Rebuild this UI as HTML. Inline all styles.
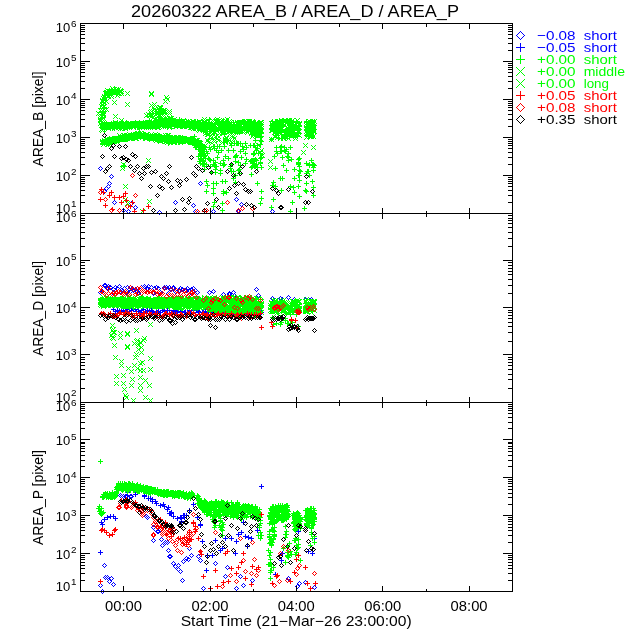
<!DOCTYPE html><html><head><meta charset="utf-8"><style>html,body{margin:0;padding:0;background:#fff;width:640px;height:640px;overflow:hidden}svg{display:block;will-change:transform}</style></head><body>
<svg width="640" height="640" viewBox="0 0 640 640">
<rect width="640" height="640" fill="#fff"/>
<defs><path id="d" d="M0,-2h1v1h-1zM-1,-1h1v1h-1zM1,-1h1v1h-1zM-2,0h1v1h-1zM2,0h1v1h-1zM-1,1h1v1h-1zM1,1h1v1h-1zM0,2h1v1h-1z"/><path id="p" d="M-2,0h5v1h-5zM0,-2h1v5h-1z"/><path id="x" d="M-2,-2h1v1h-1zM-1,-1h1v1h-1zM0,0h1v1h-1zM1,1h1v1h-1zM2,2h1v1h-1zM2,-2h1v1h-1zM1,-1h1v1h-1zM-1,1h1v1h-1zM-2,2h1v1h-1z"/></defs><g shape-rendering="crispEdges"><g fill="#0000ff"><use href="#d" x="100" y="168"/><use href="#d" x="111" y="176"/><use href="#d" x="109" y="183"/><use href="#d" x="108" y="186"/><use href="#d" x="106" y="188"/><use href="#d" x="104" y="191"/><use href="#d" x="114" y="202"/><use href="#d" x="123" y="210"/><use href="#d" x="128" y="211"/><use href="#d" x="131" y="203"/><use href="#d" x="135" y="207"/><use href="#d" x="159" y="212"/><use href="#d" x="200" y="183"/><use href="#d" x="175" y="202"/><use href="#d" x="193" y="205"/><use href="#d" x="236" y="199"/><use href="#d" x="241" y="204"/><use href="#d" x="195" y="211"/><use href="#d" x="213" y="211"/><use href="#d" x="238" y="211"/><use href="#d" x="272" y="211"/><use href="#d" x="100" y="292"/><use href="#d" x="102" y="291"/><use href="#d" x="104" y="285"/><use href="#d" x="105" y="285"/><use href="#d" x="107" y="288"/><use href="#d" x="108" y="286"/><use href="#d" x="110" y="287"/><use href="#d" x="113" y="289"/><use href="#d" x="113" y="293"/><use href="#d" x="115" y="287"/><use href="#d" x="117" y="288"/><use href="#d" x="119" y="286"/><use href="#d" x="121" y="292"/><use href="#d" x="121" y="290"/><use href="#d" x="124" y="288"/><use href="#d" x="126" y="292"/><use href="#d" x="127" y="287"/><use href="#d" x="129" y="289"/><use href="#d" x="130" y="291"/><use href="#d" x="132" y="288"/><use href="#d" x="133" y="290"/><use href="#d" x="135" y="289"/><use href="#d" x="137" y="291"/><use href="#d" x="138" y="293"/><use href="#d" x="140" y="288"/><use href="#d" x="141" y="287"/><use href="#d" x="144" y="286"/><use href="#d" x="144" y="288"/><use href="#d" x="147" y="288"/><use href="#d" x="148" y="286"/><use href="#d" x="149" y="291"/><use href="#d" x="151" y="287"/><use href="#d" x="153" y="293"/><use href="#d" x="154" y="288"/><use href="#d" x="156" y="287"/><use href="#d" x="158" y="292"/><use href="#d" x="158" y="288"/><use href="#d" x="160" y="292"/><use href="#d" x="162" y="293"/><use href="#d" x="164" y="287"/><use href="#d" x="166" y="287"/><use href="#d" x="168" y="293"/><use href="#d" x="169" y="287"/><use href="#d" x="170" y="289"/><use href="#d" x="173" y="288"/><use href="#d" x="173" y="287"/><use href="#d" x="175" y="291"/><use href="#d" x="176" y="290"/><use href="#d" x="179" y="290"/><use href="#d" x="180" y="288"/><use href="#d" x="182" y="289"/><use href="#d" x="184" y="290"/><use href="#d" x="186" y="290"/><use href="#d" x="187" y="288"/><use href="#d" x="189" y="290"/><use href="#d" x="191" y="293"/><use href="#d" x="191" y="289"/><use href="#d" x="193" y="288"/><use href="#d" x="195" y="290"/><use href="#d" x="197" y="292"/><use href="#d" x="229" y="293"/><use href="#d" x="258" y="295"/><use href="#d" x="229" y="294"/><use href="#d" x="256" y="289"/><use href="#d" x="234" y="295"/><use href="#d" x="233" y="292"/><use href="#d" x="213" y="291"/><use href="#d" x="209" y="292"/><use href="#d" x="223" y="294"/><use href="#d" x="272" y="298"/><use href="#d" x="280" y="298"/><use href="#d" x="282" y="299"/><use href="#d" x="288" y="297"/><use href="#d" x="294" y="299"/><use href="#d" x="305" y="299"/><use href="#d" x="308" y="299"/><use href="#d" x="311" y="299"/><use href="#d" x="120" y="495"/><use href="#d" x="121" y="496"/><use href="#d" x="123" y="496"/><use href="#d" x="125" y="496"/><use href="#d" x="126" y="496"/><use href="#d" x="128" y="497"/><use href="#d" x="130" y="496"/><use href="#d" x="131" y="496"/><use href="#d" x="146" y="516"/><use href="#d" x="155" y="529"/><use href="#d" x="157" y="531"/><use href="#d" x="153" y="540"/><use href="#d" x="161" y="539"/><use href="#d" x="167" y="542"/><use href="#d" x="147" y="517"/><use href="#d" x="153" y="527"/><use href="#d" x="158" y="531"/><use href="#d" x="162" y="545"/><use href="#d" x="165" y="542"/><use href="#d" x="168" y="550"/><use href="#d" x="169" y="556"/><use href="#d" x="104" y="565"/><use href="#d" x="105" y="577"/><use href="#d" x="107" y="577"/><use href="#d" x="111" y="578"/><use href="#d" x="109" y="581"/><use href="#d" x="113" y="584"/><use href="#d" x="100" y="585"/><use href="#d" x="102" y="591"/><use href="#d" x="189" y="548"/><use href="#d" x="191" y="555"/><use href="#d" x="186" y="558"/><use href="#d" x="183" y="561"/><use href="#d" x="188" y="559"/><use href="#d" x="198" y="556"/><use href="#d" x="200" y="560"/><use href="#d" x="170" y="556"/><use href="#d" x="173" y="563"/><use href="#d" x="175" y="566"/><use href="#d" x="178" y="565"/><use href="#d" x="180" y="571"/><use href="#d" x="178" y="569"/><use href="#d" x="182" y="580"/><use href="#d" x="215" y="563"/><use href="#d" x="227" y="567"/><use href="#d" x="225" y="576"/><use href="#d" x="240" y="576"/><use href="#d" x="243" y="585"/><use href="#d" x="203" y="588"/><use href="#d" x="236" y="588"/><use href="#d" x="252" y="580"/><use href="#d" x="288" y="578"/><use href="#d" x="299" y="583"/><use href="#d" x="297" y="586"/><use href="#d" x="305" y="582"/><use href="#d" x="314" y="587"/></g><g fill="#0000ff"><use href="#p" x="113" y="309"/><use href="#p" x="115" y="311"/><use href="#p" x="117" y="310"/><use href="#p" x="119" y="311"/><use href="#p" x="121" y="311"/><use href="#p" x="123" y="310"/><use href="#p" x="123" y="312"/><use href="#p" x="126" y="311"/><use href="#p" x="127" y="309"/><use href="#p" x="129" y="311"/><use href="#p" x="131" y="310"/><use href="#p" x="133" y="309"/><use href="#p" x="135" y="309"/><use href="#p" x="136" y="311"/><use href="#p" x="138" y="311"/><use href="#p" x="140" y="312"/><use href="#p" x="141" y="310"/><use href="#p" x="143" y="309"/><use href="#p" x="145" y="311"/><use href="#p" x="147" y="310"/><use href="#p" x="149" y="311"/><use href="#p" x="151" y="310"/><use href="#p" x="152" y="311"/><use href="#p" x="153" y="312"/><use href="#p" x="156" y="311"/><use href="#p" x="157" y="312"/><use href="#p" x="158" y="311"/><use href="#p" x="160" y="312"/><use href="#p" x="162" y="310"/><use href="#p" x="164" y="311"/><use href="#p" x="167" y="310"/><use href="#p" x="169" y="310"/><use href="#p" x="172" y="312"/><use href="#p" x="173" y="310"/><use href="#p" x="175" y="311"/><use href="#p" x="176" y="309"/><use href="#p" x="177" y="312"/><use href="#p" x="180" y="311"/><use href="#p" x="181" y="311"/><use href="#p" x="184" y="312"/><use href="#p" x="185" y="312"/><use href="#p" x="188" y="312"/><use href="#p" x="189" y="310"/><use href="#p" x="190" y="312"/><use href="#p" x="193" y="312"/><use href="#p" x="193" y="310"/><use href="#p" x="196" y="310"/><use href="#p" x="198" y="311"/><use href="#p" x="199" y="312"/><use href="#p" x="202" y="312"/><use href="#p" x="203" y="312"/><use href="#p" x="205" y="311"/><use href="#p" x="206" y="313"/><use href="#p" x="208" y="311"/><use href="#p" x="210" y="310"/><use href="#p" x="212" y="312"/><use href="#p" x="213" y="312"/><use href="#p" x="216" y="310"/><use href="#p" x="217" y="313"/><use href="#p" x="219" y="310"/><use href="#p" x="220" y="312"/><use href="#p" x="222" y="313"/><use href="#p" x="224" y="311"/><use href="#p" x="225" y="312"/><use href="#p" x="226" y="313"/><use href="#p" x="230" y="312"/><use href="#p" x="231" y="314"/><use href="#p" x="233" y="312"/><use href="#p" x="234" y="314"/><use href="#p" x="235" y="311"/><use href="#p" x="238" y="312"/><use href="#p" x="240" y="312"/><use href="#p" x="241" y="312"/><use href="#p" x="243" y="313"/><use href="#p" x="246" y="314"/><use href="#p" x="247" y="313"/><use href="#p" x="249" y="312"/><use href="#p" x="250" y="313"/><use href="#p" x="252" y="313"/><use href="#p" x="254" y="313"/><use href="#p" x="255" y="314"/><use href="#p" x="257" y="312"/><use href="#p" x="259" y="311"/><use href="#p" x="261" y="312"/><use href="#p" x="144" y="496"/><use href="#p" x="148" y="498"/><use href="#p" x="152" y="501"/><use href="#p" x="156" y="503"/><use href="#p" x="160" y="505"/><use href="#p" x="164" y="506"/><use href="#p" x="167" y="509"/><use href="#p" x="170" y="513"/><use href="#p" x="127" y="492"/><use href="#p" x="135" y="494"/><use href="#p" x="183" y="515"/><use href="#p" x="163" y="504"/><use href="#p" x="184" y="515"/><use href="#p" x="144" y="495"/><use href="#p" x="171" y="513"/><use href="#p" x="180" y="517"/><use href="#p" x="155" y="501"/><use href="#p" x="150" y="498"/><use href="#p" x="152" y="499"/><use href="#p" x="168" y="507"/><use href="#p" x="184" y="517"/><use href="#p" x="169" y="513"/><use href="#p" x="189" y="510"/><use href="#p" x="101" y="522"/><use href="#p" x="104" y="519"/><use href="#p" x="107" y="517"/><use href="#p" x="110" y="516"/><use href="#p" x="113" y="516"/><use href="#p" x="115" y="518"/><use href="#p" x="102" y="524"/><use href="#p" x="261" y="486"/><use href="#p" x="100" y="552"/><use href="#p" x="171" y="512"/><use href="#p" x="173" y="516"/><use href="#p" x="177" y="518"/><use href="#p" x="181" y="518"/><use href="#p" x="186" y="515"/><use href="#p" x="193" y="504"/><use href="#p" x="197" y="517"/><use href="#p" x="200" y="525"/><use href="#p" x="243" y="522"/><use href="#p" x="181" y="522"/><use href="#p" x="200" y="524"/><use href="#p" x="202" y="541"/><use href="#p" x="207" y="555"/><use href="#p" x="212" y="555"/><use href="#p" x="215" y="540"/><use href="#p" x="220" y="550"/><use href="#p" x="222" y="548"/><use href="#p" x="225" y="538"/><use href="#p" x="231" y="538"/><use href="#p" x="236" y="541"/><use href="#p" x="238" y="534"/><use href="#p" x="241" y="532"/><use href="#p" x="245" y="536"/><use href="#p" x="248" y="537"/><use href="#p" x="247" y="546"/><use href="#p" x="235" y="553"/><use href="#p" x="206" y="570"/><use href="#p" x="181" y="521"/><use href="#p" x="251" y="538"/><use href="#p" x="257" y="530"/><use href="#p" x="314" y="538"/><use href="#p" x="308" y="551"/><use href="#p" x="312" y="553"/><use href="#p" x="282" y="553"/><use href="#p" x="281" y="560"/><use href="#p" x="275" y="574"/><use href="#p" x="298" y="531"/></g><g fill="#00ff00"><use href="#p" x="102" y="124"/><use href="#p" x="102" y="123"/><use href="#p" x="103" y="126"/><use href="#p" x="104" y="128"/><use href="#p" x="104" y="129"/><use href="#p" x="105" y="127"/><use href="#p" x="106" y="127"/><use href="#p" x="106" y="123"/><use href="#p" x="107" y="125"/><use href="#p" x="107" y="126"/><use href="#p" x="108" y="126"/><use href="#p" x="109" y="125"/><use href="#p" x="109" y="127"/><use href="#p" x="110" y="126"/><use href="#p" x="111" y="126"/><use href="#p" x="111" y="125"/><use href="#p" x="112" y="128"/><use href="#p" x="113" y="124"/><use href="#p" x="114" y="125"/><use href="#p" x="114" y="128"/><use href="#p" x="115" y="125"/><use href="#p" x="116" y="124"/><use href="#p" x="117" y="125"/><use href="#p" x="118" y="125"/><use href="#p" x="118" y="124"/><use href="#p" x="119" y="125"/><use href="#p" x="120" y="126"/><use href="#p" x="120" y="123"/><use href="#p" x="121" y="127"/><use href="#p" x="122" y="124"/><use href="#p" x="122" y="125"/><use href="#p" x="123" y="127"/><use href="#p" x="123" y="125"/><use href="#p" x="124" y="126"/><use href="#p" x="125" y="126"/><use href="#p" x="126" y="124"/><use href="#p" x="126" y="126"/><use href="#p" x="127" y="125"/><use href="#p" x="127" y="124"/><use href="#p" x="128" y="126"/><use href="#p" x="129" y="127"/><use href="#p" x="130" y="125"/><use href="#p" x="131" y="126"/><use href="#p" x="131" y="125"/><use href="#p" x="132" y="126"/><use href="#p" x="132" y="125"/><use href="#p" x="133" y="123"/><use href="#p" x="134" y="124"/><use href="#p" x="135" y="123"/><use href="#p" x="135" y="124"/><use href="#p" x="136" y="123"/><use href="#p" x="137" y="127"/><use href="#p" x="138" y="127"/><use href="#p" x="138" y="123"/><use href="#p" x="139" y="127"/><use href="#p" x="139" y="122"/><use href="#p" x="140" y="126"/><use href="#p" x="141" y="124"/><use href="#p" x="141" y="127"/><use href="#p" x="142" y="124"/><use href="#p" x="143" y="126"/><use href="#p" x="143" y="125"/><use href="#p" x="144" y="124"/><use href="#p" x="145" y="126"/><use href="#p" x="146" y="123"/><use href="#p" x="147" y="126"/><use href="#p" x="148" y="122"/><use href="#p" x="148" y="125"/><use href="#p" x="149" y="121"/><use href="#p" x="150" y="124"/><use href="#p" x="150" y="122"/><use href="#p" x="151" y="125"/><use href="#p" x="151" y="123"/><use href="#p" x="152" y="125"/><use href="#p" x="153" y="124"/><use href="#p" x="154" y="123"/><use href="#p" x="155" y="124"/><use href="#p" x="155" y="121"/><use href="#p" x="156" y="125"/><use href="#p" x="157" y="124"/><use href="#p" x="157" y="121"/><use href="#p" x="158" y="123"/><use href="#p" x="159" y="120"/><use href="#p" x="160" y="124"/><use href="#p" x="161" y="123"/><use href="#p" x="161" y="120"/><use href="#p" x="162" y="122"/><use href="#p" x="162" y="124"/><use href="#p" x="163" y="124"/><use href="#p" x="164" y="120"/><use href="#p" x="164" y="124"/><use href="#p" x="165" y="123"/><use href="#p" x="166" y="125"/><use href="#p" x="166" y="119"/><use href="#p" x="167" y="122"/><use href="#p" x="168" y="123"/><use href="#p" x="168" y="119"/><use href="#p" x="169" y="125"/><use href="#p" x="169" y="124"/><use href="#p" x="170" y="124"/><use href="#p" x="171" y="122"/><use href="#p" x="171" y="124"/><use href="#p" x="172" y="123"/><use href="#p" x="172" y="122"/><use href="#p" x="173" y="124"/><use href="#p" x="174" y="126"/><use href="#p" x="174" y="120"/><use href="#p" x="175" y="124"/><use href="#p" x="176" y="123"/><use href="#p" x="176" y="124"/><use href="#p" x="177" y="121"/><use href="#p" x="178" y="121"/><use href="#p" x="179" y="119"/><use href="#p" x="180" y="124"/><use href="#p" x="180" y="123"/><use href="#p" x="181" y="126"/><use href="#p" x="182" y="122"/><use href="#p" x="182" y="121"/><use href="#p" x="183" y="121"/><use href="#p" x="183" y="125"/><use href="#p" x="184" y="125"/><use href="#p" x="185" y="126"/><use href="#p" x="186" y="125"/><use href="#p" x="186" y="122"/><use href="#p" x="187" y="124"/><use href="#p" x="188" y="121"/><use href="#p" x="189" y="123"/><use href="#p" x="189" y="127"/><use href="#p" x="190" y="126"/><use href="#p" x="190" y="125"/><use href="#p" x="191" y="125"/><use href="#p" x="192" y="126"/><use href="#p" x="192" y="124"/><use href="#p" x="193" y="128"/><use href="#p" x="194" y="128"/><use href="#p" x="194" y="125"/><use href="#p" x="195" y="122"/><use href="#p" x="195" y="128"/><use href="#p" x="196" y="125"/><use href="#p" x="197" y="123"/><use href="#p" x="198" y="124"/><use href="#p" x="198" y="128"/><use href="#p" x="199" y="122"/><use href="#p" x="200" y="128"/><use href="#p" x="200" y="122"/><use href="#p" x="201" y="130"/><use href="#p" x="201" y="127"/><use href="#p" x="202" y="124"/><use href="#p" x="203" y="122"/><use href="#p" x="203" y="131"/><use href="#p" x="204" y="129"/><use href="#p" x="205" y="128"/><use href="#p" x="205" y="132"/><use href="#p" x="206" y="127"/><use href="#p" x="206" y="128"/><use href="#p" x="207" y="131"/><use href="#p" x="208" y="125"/><use href="#p" x="208" y="122"/><use href="#p" x="209" y="122"/><use href="#p" x="209" y="119"/><use href="#p" x="210" y="131"/><use href="#p" x="211" y="127"/><use href="#p" x="211" y="125"/><use href="#p" x="212" y="127"/><use href="#p" x="213" y="126"/><use href="#p" x="213" y="131"/><use href="#p" x="214" y="133"/><use href="#p" x="215" y="130"/><use href="#p" x="215" y="127"/><use href="#p" x="216" y="129"/><use href="#p" x="216" y="128"/><use href="#p" x="217" y="129"/><use href="#p" x="218" y="129"/><use href="#p" x="219" y="128"/><use href="#p" x="220" y="126"/><use href="#p" x="220" y="124"/><use href="#p" x="221" y="130"/><use href="#p" x="222" y="121"/><use href="#p" x="223" y="121"/><use href="#p" x="223" y="129"/><use href="#p" x="224" y="127"/><use href="#p" x="225" y="131"/><use href="#p" x="226" y="124"/><use href="#p" x="226" y="126"/><use href="#p" x="227" y="125"/><use href="#p" x="228" y="129"/><use href="#p" x="228" y="122"/><use href="#p" x="229" y="125"/><use href="#p" x="229" y="130"/><use href="#p" x="230" y="126"/><use href="#p" x="231" y="127"/><use href="#p" x="231" y="125"/><use href="#p" x="232" y="130"/><use href="#p" x="233" y="122"/><use href="#p" x="233" y="125"/><use href="#p" x="234" y="131"/><use href="#p" x="234" y="124"/><use href="#p" x="235" y="126"/><use href="#p" x="236" y="130"/><use href="#p" x="237" y="131"/><use href="#p" x="237" y="122"/><use href="#p" x="237" y="125"/><use href="#p" x="239" y="122"/><use href="#p" x="239" y="129"/><use href="#p" x="239" y="132"/><use href="#p" x="240" y="122"/><use href="#p" x="241" y="129"/><use href="#p" x="242" y="122"/><use href="#p" x="242" y="130"/><use href="#p" x="243" y="121"/><use href="#p" x="243" y="127"/><use href="#p" x="244" y="121"/><use href="#p" x="244" y="124"/><use href="#p" x="245" y="128"/><use href="#p" x="246" y="128"/><use href="#p" x="246" y="123"/><use href="#p" x="248" y="121"/><use href="#p" x="248" y="127"/><use href="#p" x="249" y="125"/><use href="#p" x="249" y="121"/><use href="#p" x="250" y="128"/><use href="#p" x="250" y="122"/><use href="#p" x="251" y="130"/><use href="#p" x="252" y="129"/><use href="#p" x="252" y="127"/><use href="#p" x="253" y="128"/><use href="#p" x="254" y="122"/><use href="#p" x="255" y="122"/><use href="#p" x="255" y="126"/><use href="#p" x="255" y="123"/><use href="#p" x="256" y="131"/><use href="#p" x="257" y="131"/><use href="#p" x="257" y="126"/><use href="#p" x="258" y="124"/><use href="#p" x="259" y="131"/><use href="#p" x="259" y="128"/><use href="#p" x="260" y="123"/><use href="#p" x="261" y="136"/><use href="#p" x="271" y="139"/><use href="#p" x="272" y="121"/><use href="#p" x="272" y="125"/><use href="#p" x="273" y="128"/><use href="#p" x="274" y="129"/><use href="#p" x="275" y="132"/><use href="#p" x="275" y="128"/><use href="#p" x="276" y="126"/><use href="#p" x="277" y="121"/><use href="#p" x="278" y="133"/><use href="#p" x="278" y="138"/><use href="#p" x="279" y="124"/><use href="#p" x="279" y="126"/><use href="#p" x="280" y="127"/><use href="#p" x="281" y="132"/><use href="#p" x="281" y="138"/><use href="#p" x="283" y="136"/><use href="#p" x="283" y="121"/><use href="#p" x="284" y="132"/><use href="#p" x="285" y="121"/><use href="#p" x="285" y="138"/><use href="#p" x="286" y="136"/><use href="#p" x="287" y="133"/><use href="#p" x="287" y="134"/><use href="#p" x="288" y="127"/><use href="#p" x="289" y="120"/><use href="#p" x="289" y="134"/><use href="#p" x="290" y="123"/><use href="#p" x="292" y="130"/><use href="#p" x="292" y="131"/><use href="#p" x="292" y="134"/><use href="#p" x="293" y="136"/><use href="#p" x="294" y="127"/><use href="#p" x="295" y="127"/><use href="#p" x="296" y="134"/><use href="#p" x="296" y="122"/><use href="#p" x="297" y="129"/><use href="#p" x="298" y="133"/><use href="#p" x="299" y="126"/><use href="#p" x="306" y="121"/><use href="#p" x="306" y="122"/><use href="#p" x="307" y="129"/><use href="#p" x="307" y="132"/><use href="#p" x="308" y="134"/><use href="#p" x="308" y="136"/><use href="#p" x="308" y="124"/><use href="#p" x="309" y="131"/><use href="#p" x="310" y="132"/><use href="#p" x="310" y="135"/><use href="#p" x="310" y="125"/><use href="#p" x="311" y="121"/><use href="#p" x="311" y="122"/><use href="#p" x="312" y="121"/><use href="#p" x="312" y="124"/><use href="#p" x="313" y="122"/><use href="#p" x="313" y="130"/><use href="#p" x="314" y="125"/><use href="#p" x="102" y="143"/><use href="#p" x="102" y="141"/><use href="#p" x="103" y="142"/><use href="#p" x="104" y="142"/><use href="#p" x="104" y="141"/><use href="#p" x="105" y="142"/><use href="#p" x="106" y="140"/><use href="#p" x="106" y="142"/><use href="#p" x="107" y="139"/><use href="#p" x="107" y="142"/><use href="#p" x="108" y="144"/><use href="#p" x="108" y="139"/><use href="#p" x="109" y="141"/><use href="#p" x="109" y="139"/><use href="#p" x="110" y="139"/><use href="#p" x="110" y="142"/><use href="#p" x="111" y="141"/><use href="#p" x="111" y="140"/><use href="#p" x="112" y="141"/><use href="#p" x="112" y="139"/><use href="#p" x="113" y="139"/><use href="#p" x="114" y="139"/><use href="#p" x="114" y="140"/><use href="#p" x="115" y="139"/><use href="#p" x="116" y="140"/><use href="#p" x="116" y="139"/><use href="#p" x="117" y="139"/><use href="#p" x="118" y="140"/><use href="#p" x="118" y="137"/><use href="#p" x="119" y="140"/><use href="#p" x="119" y="139"/><use href="#p" x="120" y="137"/><use href="#p" x="120" y="138"/><use href="#p" x="121" y="138"/><use href="#p" x="121" y="137"/><use href="#p" x="122" y="136"/><use href="#p" x="122" y="138"/><use href="#p" x="123" y="137"/><use href="#p" x="123" y="138"/><use href="#p" x="124" y="136"/><use href="#p" x="124" y="139"/><use href="#p" x="125" y="136"/><use href="#p" x="125" y="135"/><use href="#p" x="126" y="135"/><use href="#p" x="127" y="138"/><use href="#p" x="127" y="136"/><use href="#p" x="128" y="137"/><use href="#p" x="128" y="136"/><use href="#p" x="129" y="135"/><use href="#p" x="129" y="138"/><use href="#p" x="130" y="135"/><use href="#p" x="130" y="137"/><use href="#p" x="131" y="135"/><use href="#p" x="132" y="135"/><use href="#p" x="132" y="138"/><use href="#p" x="133" y="134"/><use href="#p" x="133" y="138"/><use href="#p" x="134" y="135"/><use href="#p" x="134" y="136"/><use href="#p" x="135" y="136"/><use href="#p" x="135" y="133"/><use href="#p" x="136" y="136"/><use href="#p" x="136" y="137"/><use href="#p" x="137" y="135"/><use href="#p" x="137" y="134"/><use href="#p" x="138" y="136"/><use href="#p" x="138" y="134"/><use href="#p" x="139" y="132"/><use href="#p" x="139" y="133"/><use href="#p" x="140" y="134"/><use href="#p" x="140" y="137"/><use href="#p" x="141" y="135"/><use href="#p" x="141" y="134"/><use href="#p" x="142" y="136"/><use href="#p" x="143" y="138"/><use href="#p" x="143" y="133"/><use href="#p" x="144" y="138"/><use href="#p" x="144" y="135"/><use href="#p" x="145" y="137"/><use href="#p" x="145" y="135"/><use href="#p" x="146" y="135"/><use href="#p" x="146" y="136"/><use href="#p" x="147" y="138"/><use href="#p" x="147" y="135"/><use href="#p" x="148" y="136"/><use href="#p" x="149" y="136"/><use href="#p" x="149" y="139"/><use href="#p" x="150" y="138"/><use href="#p" x="150" y="136"/><use href="#p" x="151" y="136"/><use href="#p" x="151" y="138"/><use href="#p" x="152" y="136"/><use href="#p" x="152" y="138"/><use href="#p" x="153" y="137"/><use href="#p" x="153" y="139"/><use href="#p" x="154" y="135"/><use href="#p" x="154" y="136"/><use href="#p" x="155" y="135"/><use href="#p" x="155" y="138"/><use href="#p" x="156" y="139"/><use href="#p" x="156" y="137"/><use href="#p" x="157" y="136"/><use href="#p" x="157" y="139"/><use href="#p" x="158" y="138"/><use href="#p" x="158" y="135"/><use href="#p" x="159" y="140"/><use href="#p" x="159" y="135"/><use href="#p" x="160" y="138"/><use href="#p" x="160" y="136"/><use href="#p" x="161" y="137"/><use href="#p" x="161" y="136"/><use href="#p" x="162" y="139"/><use href="#p" x="162" y="140"/><use href="#p" x="163" y="137"/><use href="#p" x="163" y="138"/><use href="#p" x="164" y="137"/><use href="#p" x="164" y="141"/><use href="#p" x="165" y="137"/><use href="#p" x="166" y="140"/><use href="#p" x="166" y="141"/><use href="#p" x="167" y="140"/><use href="#p" x="167" y="137"/><use href="#p" x="168" y="138"/><use href="#p" x="168" y="143"/><use href="#p" x="169" y="137"/><use href="#p" x="169" y="139"/><use href="#p" x="170" y="139"/><use href="#p" x="170" y="137"/><use href="#p" x="171" y="138"/><use href="#p" x="171" y="140"/><use href="#p" x="172" y="138"/><use href="#p" x="172" y="140"/><use href="#p" x="173" y="141"/><use href="#p" x="173" y="138"/><use href="#p" x="174" y="140"/><use href="#p" x="174" y="141"/><use href="#p" x="175" y="139"/><use href="#p" x="176" y="138"/><use href="#p" x="176" y="141"/><use href="#p" x="177" y="140"/><use href="#p" x="177" y="139"/><use href="#p" x="178" y="141"/><use href="#p" x="178" y="137"/><use href="#p" x="179" y="138"/><use href="#p" x="179" y="142"/><use href="#p" x="180" y="141"/><use href="#p" x="180" y="139"/><use href="#p" x="181" y="140"/><use href="#p" x="182" y="139"/><use href="#p" x="182" y="137"/><use href="#p" x="183" y="141"/><use href="#p" x="183" y="138"/><use href="#p" x="184" y="140"/><use href="#p" x="185" y="140"/><use href="#p" x="185" y="141"/><use href="#p" x="186" y="139"/><use href="#p" x="186" y="138"/><use href="#p" x="187" y="140"/><use href="#p" x="187" y="141"/><use href="#p" x="188" y="141"/><use href="#p" x="188" y="142"/><use href="#p" x="189" y="140"/><use href="#p" x="190" y="142"/><use href="#p" x="190" y="141"/><use href="#p" x="191" y="141"/><use href="#p" x="191" y="139"/><use href="#p" x="192" y="140"/><use href="#p" x="192" y="139"/><use href="#p" x="193" y="141"/><use href="#p" x="193" y="139"/><use href="#p" x="194" y="141"/><use href="#p" x="194" y="142"/><use href="#p" x="195" y="142"/><use href="#p" x="196" y="143"/><use href="#p" x="196" y="142"/><use href="#p" x="197" y="144"/><use href="#p" x="197" y="141"/><use href="#p" x="198" y="142"/><use href="#p" x="198" y="143"/><use href="#p" x="199" y="146"/><use href="#p" x="199" y="143"/><use href="#p" x="200" y="145"/><use href="#p" x="200" y="148"/><use href="#p" x="201" y="144"/><use href="#p" x="201" y="150"/><use href="#p" x="123" y="165"/><use href="#p" x="124" y="166"/><use href="#p" x="203" y="158"/><use href="#p" x="203" y="161"/><use href="#p" x="194" y="145"/><use href="#p" x="190" y="140"/><use href="#p" x="205" y="155"/><use href="#p" x="201" y="151"/><use href="#p" x="201" y="158"/><use href="#p" x="202" y="152"/><use href="#p" x="203" y="154"/><use href="#p" x="198" y="147"/><use href="#p" x="199" y="149"/><use href="#p" x="202" y="153"/><use href="#p" x="193" y="138"/><use href="#p" x="201" y="155"/><use href="#p" x="204" y="163"/><use href="#p" x="204" y="156"/><use href="#p" x="194" y="136"/><use href="#p" x="200" y="153"/><use href="#p" x="194" y="140"/><use href="#p" x="198" y="156"/><use href="#p" x="200" y="154"/><use href="#p" x="196" y="144"/><use href="#p" x="195" y="147"/><use href="#p" x="201" y="154"/><use href="#p" x="200" y="159"/><use href="#p" x="196" y="141"/><use href="#p" x="195" y="144"/><use href="#p" x="199" y="161"/><use href="#p" x="204" y="155"/><use href="#p" x="203" y="164"/><use href="#p" x="202" y="160"/><use href="#p" x="198" y="149"/><use href="#p" x="200" y="144"/><use href="#p" x="219" y="146"/><use href="#p" x="218" y="152"/><use href="#p" x="203" y="147"/><use href="#p" x="213" y="146"/><use href="#p" x="202" y="163"/><use href="#p" x="215" y="169"/><use href="#p" x="205" y="158"/><use href="#p" x="204" y="151"/><use href="#p" x="204" y="146"/><use href="#p" x="214" y="146"/><use href="#p" x="214" y="165"/><use href="#p" x="211" y="172"/><use href="#p" x="217" y="146"/><use href="#p" x="220" y="163"/><use href="#p" x="215" y="162"/><use href="#p" x="221" y="150"/><use href="#p" x="208" y="158"/><use href="#p" x="216" y="166"/><use href="#p" x="209" y="159"/><use href="#p" x="213" y="164"/><use href="#p" x="213" y="160"/><use href="#p" x="204" y="149"/><use href="#p" x="204" y="169"/><use href="#p" x="206" y="164"/><use href="#p" x="210" y="160"/><use href="#p" x="206" y="151"/><use href="#p" x="204" y="166"/><use href="#p" x="216" y="150"/><use href="#p" x="207" y="153"/><use href="#p" x="214" y="148"/><use href="#p" x="200" y="163"/><use href="#p" x="210" y="149"/><use href="#p" x="205" y="147"/><use href="#p" x="201" y="146"/><use href="#p" x="209" y="147"/><use href="#p" x="217" y="157"/><use href="#p" x="245" y="143"/><use href="#p" x="231" y="145"/><use href="#p" x="239" y="169"/><use href="#p" x="242" y="146"/><use href="#p" x="236" y="155"/><use href="#p" x="233" y="171"/><use href="#p" x="228" y="150"/><use href="#p" x="238" y="143"/><use href="#p" x="230" y="166"/><use href="#p" x="228" y="158"/><use href="#p" x="243" y="149"/><use href="#p" x="235" y="161"/><use href="#p" x="223" y="160"/><use href="#p" x="231" y="171"/><use href="#p" x="252" y="166"/><use href="#p" x="250" y="145"/><use href="#p" x="257" y="148"/><use href="#p" x="223" y="165"/><use href="#p" x="251" y="174"/><use href="#p" x="255" y="166"/><use href="#p" x="231" y="143"/><use href="#p" x="240" y="165"/><use href="#p" x="240" y="143"/><use href="#p" x="255" y="147"/><use href="#p" x="252" y="162"/><use href="#p" x="235" y="156"/><use href="#p" x="246" y="147"/><use href="#p" x="238" y="162"/><use href="#p" x="233" y="150"/><use href="#p" x="224" y="146"/><use href="#p" x="246" y="159"/><use href="#p" x="254" y="145"/><use href="#p" x="225" y="156"/><use href="#p" x="231" y="164"/><use href="#p" x="234" y="143"/><use href="#p" x="256" y="150"/><use href="#p" x="240" y="151"/><use href="#p" x="237" y="143"/><use href="#p" x="235" y="157"/><use href="#p" x="239" y="173"/><use href="#p" x="252" y="160"/><use href="#p" x="241" y="157"/><use href="#p" x="253" y="145"/><use href="#p" x="236" y="143"/><use href="#p" x="224" y="164"/><use href="#p" x="254" y="166"/><use href="#p" x="253" y="160"/><use href="#p" x="245" y="153"/><use href="#p" x="256" y="160"/><use href="#p" x="260" y="140"/><use href="#p" x="261" y="157"/><use href="#p" x="255" y="140"/><use href="#p" x="258" y="153"/><use href="#p" x="251" y="160"/><use href="#p" x="260" y="162"/><use href="#p" x="253" y="154"/><use href="#p" x="253" y="163"/><use href="#p" x="261" y="167"/><use href="#p" x="257" y="167"/><use href="#p" x="255" y="159"/><use href="#p" x="253" y="153"/><use href="#p" x="260" y="153"/><use href="#p" x="260" y="163"/><use href="#p" x="260" y="158"/><use href="#p" x="250" y="161"/><use href="#p" x="260" y="144"/><use href="#p" x="256" y="164"/><use href="#p" x="257" y="145"/><use href="#p" x="254" y="160"/><use href="#p" x="251" y="167"/><use href="#p" x="261" y="141"/><use href="#p" x="254" y="153"/><use href="#p" x="288" y="153"/><use href="#p" x="284" y="147"/><use href="#p" x="287" y="156"/><use href="#p" x="288" y="160"/><use href="#p" x="281" y="146"/><use href="#p" x="280" y="151"/><use href="#p" x="277" y="153"/><use href="#p" x="291" y="159"/><use href="#p" x="281" y="151"/><use href="#p" x="280" y="147"/><use href="#p" x="290" y="147"/><use href="#p" x="288" y="157"/><use href="#p" x="276" y="151"/><use href="#p" x="284" y="150"/><use href="#p" x="274" y="156"/><use href="#p" x="286" y="149"/><use href="#p" x="281" y="147"/><use href="#p" x="282" y="157"/><use href="#p" x="285" y="151"/><use href="#p" x="276" y="147"/><use href="#p" x="298" y="163"/><use href="#p" x="299" y="175"/><use href="#p" x="299" y="170"/><use href="#p" x="298" y="159"/><use href="#p" x="299" y="158"/><use href="#p" x="298" y="175"/><use href="#p" x="300" y="171"/><use href="#p" x="294" y="169"/><use href="#p" x="298" y="162"/><use href="#p" x="299" y="166"/><use href="#p" x="298" y="164"/><use href="#p" x="313" y="164"/><use href="#p" x="309" y="164"/><use href="#p" x="309" y="175"/><use href="#p" x="313" y="165"/><use href="#p" x="311" y="160"/><use href="#p" x="307" y="171"/><use href="#p" x="309" y="165"/><use href="#p" x="313" y="170"/><use href="#p" x="312" y="164"/><use href="#p" x="306" y="163"/><use href="#p" x="306" y="173"/><use href="#p" x="313" y="167"/><use href="#p" x="308" y="171"/><use href="#p" x="314" y="165"/><use href="#p" x="206" y="181"/><use href="#p" x="207" y="185"/><use href="#p" x="206" y="191"/><use href="#p" x="213" y="183"/><use href="#p" x="213" y="188"/><use href="#p" x="213" y="193"/><use href="#p" x="216" y="183"/><use href="#p" x="220" y="173"/><use href="#p" x="220" y="170"/><use href="#p" x="222" y="181"/><use href="#p" x="225" y="181"/><use href="#p" x="223" y="191"/><use href="#p" x="226" y="192"/><use href="#p" x="223" y="193"/><use href="#p" x="214" y="202"/><use href="#p" x="213" y="206"/><use href="#p" x="222" y="203"/><use href="#p" x="222" y="210"/><use href="#p" x="233" y="178"/><use href="#p" x="235" y="182"/><use href="#p" x="235" y="175"/><use href="#p" x="275" y="168"/><use href="#p" x="283" y="165"/><use href="#p" x="286" y="170"/><use href="#p" x="280" y="178"/><use href="#p" x="282" y="178"/><use href="#p" x="294" y="178"/><use href="#p" x="299" y="180"/><use href="#p" x="257" y="183"/><use href="#p" x="273" y="182"/><use href="#p" x="272" y="185"/><use href="#p" x="275" y="186"/><use href="#p" x="261" y="191"/><use href="#p" x="281" y="190"/><use href="#p" x="290" y="186"/><use href="#p" x="293" y="187"/><use href="#p" x="298" y="186"/><use href="#p" x="294" y="192"/><use href="#p" x="306" y="183"/><use href="#p" x="312" y="181"/><use href="#p" x="313" y="187"/><use href="#p" x="305" y="190"/><use href="#p" x="306" y="191"/><use href="#p" x="313" y="195"/><use href="#p" x="299" y="196"/><use href="#p" x="261" y="198"/><use href="#p" x="260" y="203"/><use href="#p" x="273" y="199"/><use href="#p" x="292" y="202"/><use href="#p" x="271" y="207"/><use href="#p" x="304" y="208"/><use href="#p" x="290" y="211"/><use href="#p" x="210" y="166"/><use href="#p" x="215" y="172"/><use href="#p" x="230" y="168"/><use href="#p" x="238" y="170"/><use href="#p" x="245" y="163"/><use href="#p" x="100" y="304"/><use href="#p" x="100" y="299"/><use href="#p" x="101" y="302"/><use href="#p" x="101" y="300"/><use href="#p" x="101" y="299"/><use href="#p" x="102" y="305"/><use href="#p" x="102" y="299"/><use href="#p" x="103" y="300"/><use href="#p" x="103" y="302"/><use href="#p" x="104" y="303"/><use href="#p" x="104" y="305"/><use href="#p" x="105" y="303"/><use href="#p" x="105" y="305"/><use href="#p" x="106" y="304"/><use href="#p" x="107" y="302"/><use href="#p" x="107" y="304"/><use href="#p" x="107" y="301"/><use href="#p" x="108" y="302"/><use href="#p" x="108" y="305"/><use href="#p" x="108" y="304"/><use href="#p" x="109" y="299"/><use href="#p" x="109" y="302"/><use href="#p" x="109" y="304"/><use href="#p" x="110" y="303"/><use href="#p" x="110" y="302"/><use href="#p" x="111" y="303"/><use href="#p" x="112" y="303"/><use href="#p" x="112" y="300"/><use href="#p" x="112" y="304"/><use href="#p" x="113" y="300"/><use href="#p" x="114" y="302"/><use href="#p" x="114" y="303"/><use href="#p" x="114" y="299"/><use href="#p" x="115" y="304"/><use href="#p" x="115" y="301"/><use href="#p" x="116" y="303"/><use href="#p" x="116" y="302"/><use href="#p" x="116" y="304"/><use href="#p" x="117" y="302"/><use href="#p" x="117" y="300"/><use href="#p" x="117" y="303"/><use href="#p" x="118" y="305"/><use href="#p" x="118" y="301"/><use href="#p" x="119" y="301"/><use href="#p" x="119" y="303"/><use href="#p" x="119" y="302"/><use href="#p" x="120" y="304"/><use href="#p" x="120" y="298"/><use href="#p" x="121" y="303"/><use href="#p" x="121" y="302"/><use href="#p" x="121" y="306"/><use href="#p" x="122" y="298"/><use href="#p" x="122" y="303"/><use href="#p" x="123" y="299"/><use href="#p" x="123" y="300"/><use href="#p" x="123" y="301"/><use href="#p" x="124" y="306"/><use href="#p" x="124" y="301"/><use href="#p" x="125" y="302"/><use href="#p" x="125" y="303"/><use href="#p" x="125" y="304"/><use href="#p" x="126" y="303"/><use href="#p" x="127" y="302"/><use href="#p" x="127" y="306"/><use href="#p" x="127" y="299"/><use href="#p" x="128" y="301"/><use href="#p" x="128" y="304"/><use href="#p" x="129" y="301"/><use href="#p" x="129" y="303"/><use href="#p" x="130" y="304"/><use href="#p" x="130" y="300"/><use href="#p" x="130" y="305"/><use href="#p" x="131" y="305"/><use href="#p" x="131" y="299"/><use href="#p" x="132" y="303"/><use href="#p" x="132" y="305"/><use href="#p" x="132" y="302"/><use href="#p" x="133" y="301"/><use href="#p" x="133" y="306"/><use href="#p" x="133" y="298"/><use href="#p" x="134" y="303"/><use href="#p" x="134" y="302"/><use href="#p" x="135" y="305"/><use href="#p" x="135" y="306"/><use href="#p" x="135" y="303"/><use href="#p" x="136" y="301"/><use href="#p" x="137" y="304"/><use href="#p" x="137" y="305"/><use href="#p" x="138" y="305"/><use href="#p" x="138" y="303"/><use href="#p" x="139" y="302"/><use href="#p" x="139" y="305"/><use href="#p" x="139" y="301"/><use href="#p" x="140" y="301"/><use href="#p" x="141" y="304"/><use href="#p" x="141" y="300"/><use href="#p" x="142" y="300"/><use href="#p" x="142" y="298"/><use href="#p" x="142" y="299"/><use href="#p" x="142" y="306"/><use href="#p" x="143" y="301"/><use href="#p" x="143" y="304"/><use href="#p" x="144" y="301"/><use href="#p" x="145" y="301"/><use href="#p" x="145" y="300"/><use href="#p" x="145" y="304"/><use href="#p" x="146" y="302"/><use href="#p" x="146" y="305"/><use href="#p" x="146" y="301"/><use href="#p" x="147" y="303"/><use href="#p" x="147" y="302"/><use href="#p" x="148" y="299"/><use href="#p" x="148" y="303"/><use href="#p" x="148" y="304"/><use href="#p" x="149" y="302"/><use href="#p" x="149" y="301"/><use href="#p" x="150" y="306"/><use href="#p" x="150" y="302"/><use href="#p" x="150" y="304"/><use href="#p" x="150" y="298"/><use href="#p" x="151" y="302"/><use href="#p" x="151" y="300"/><use href="#p" x="152" y="303"/><use href="#p" x="152" y="300"/><use href="#p" x="152" y="301"/><use href="#p" x="153" y="299"/><use href="#p" x="153" y="304"/><use href="#p" x="154" y="304"/><use href="#p" x="154" y="306"/><use href="#p" x="155" y="299"/><use href="#p" x="155" y="303"/><use href="#p" x="155" y="304"/><use href="#p" x="156" y="299"/><use href="#p" x="156" y="300"/><use href="#p" x="156" y="304"/><use href="#p" x="157" y="301"/><use href="#p" x="157" y="305"/><use href="#p" x="158" y="297"/><use href="#p" x="158" y="302"/><use href="#p" x="158" y="306"/><use href="#p" x="159" y="302"/><use href="#p" x="159" y="304"/><use href="#p" x="159" y="306"/><use href="#p" x="160" y="306"/><use href="#p" x="161" y="303"/><use href="#p" x="161" y="305"/><use href="#p" x="161" y="300"/><use href="#p" x="162" y="299"/><use href="#p" x="162" y="303"/><use href="#p" x="163" y="307"/><use href="#p" x="163" y="302"/><use href="#p" x="163" y="299"/><use href="#p" x="164" y="301"/><use href="#p" x="164" y="302"/><use href="#p" x="165" y="300"/><use href="#p" x="165" y="301"/><use href="#p" x="165" y="303"/><use href="#p" x="166" y="303"/><use href="#p" x="166" y="299"/><use href="#p" x="166" y="301"/><use href="#p" x="167" y="302"/><use href="#p" x="167" y="304"/><use href="#p" x="167" y="300"/><use href="#p" x="168" y="304"/><use href="#p" x="168" y="300"/><use href="#p" x="169" y="300"/><use href="#p" x="169" y="307"/><use href="#p" x="169" y="306"/><use href="#p" x="170" y="304"/><use href="#p" x="170" y="303"/><use href="#p" x="171" y="301"/><use href="#p" x="171" y="303"/><use href="#p" x="172" y="298"/><use href="#p" x="172" y="303"/><use href="#p" x="172" y="299"/><use href="#p" x="173" y="302"/><use href="#p" x="173" y="303"/><use href="#p" x="174" y="303"/><use href="#p" x="174" y="300"/><use href="#p" x="175" y="307"/><use href="#p" x="175" y="306"/><use href="#p" x="175" y="303"/><use href="#p" x="176" y="307"/><use href="#p" x="176" y="306"/><use href="#p" x="177" y="305"/><use href="#p" x="177" y="298"/><use href="#p" x="177" y="304"/><use href="#p" x="178" y="299"/><use href="#p" x="178" y="301"/><use href="#p" x="178" y="300"/><use href="#p" x="179" y="303"/><use href="#p" x="179" y="306"/><use href="#p" x="180" y="302"/><use href="#p" x="180" y="298"/><use href="#p" x="181" y="305"/><use href="#p" x="181" y="308"/><use href="#p" x="181" y="302"/><use href="#p" x="182" y="299"/><use href="#p" x="182" y="302"/><use href="#p" x="182" y="303"/><use href="#p" x="183" y="300"/><use href="#p" x="183" y="301"/><use href="#p" x="184" y="303"/><use href="#p" x="184" y="306"/><use href="#p" x="184" y="305"/><use href="#p" x="185" y="305"/><use href="#p" x="185" y="298"/><use href="#p" x="186" y="302"/><use href="#p" x="187" y="300"/><use href="#p" x="187" y="307"/><use href="#p" x="187" y="301"/><use href="#p" x="188" y="304"/><use href="#p" x="188" y="298"/><use href="#p" x="188" y="305"/><use href="#p" x="189" y="307"/><use href="#p" x="189" y="302"/><use href="#p" x="189" y="303"/><use href="#p" x="190" y="303"/><use href="#p" x="190" y="302"/><use href="#p" x="190" y="304"/><use href="#p" x="191" y="300"/><use href="#p" x="191" y="304"/><use href="#p" x="191" y="302"/><use href="#p" x="192" y="306"/><use href="#p" x="192" y="304"/><use href="#p" x="193" y="306"/><use href="#p" x="193" y="302"/><use href="#p" x="194" y="305"/><use href="#p" x="194" y="306"/><use href="#p" x="194" y="303"/><use href="#p" x="195" y="305"/><use href="#p" x="195" y="308"/><use href="#p" x="195" y="303"/><use href="#p" x="196" y="307"/><use href="#p" x="196" y="298"/><use href="#p" x="197" y="306"/><use href="#p" x="197" y="304"/><use href="#p" x="198" y="298"/><use href="#p" x="198" y="301"/><use href="#p" x="198" y="300"/><use href="#p" x="199" y="304"/><use href="#p" x="199" y="305"/><use href="#p" x="199" y="298"/><use href="#p" x="200" y="300"/><use href="#p" x="200" y="299"/><use href="#p" x="201" y="303"/><use href="#p" x="201" y="301"/><use href="#p" x="201" y="305"/><use href="#p" x="202" y="305"/><use href="#p" x="202" y="298"/><use href="#p" x="203" y="304"/><use href="#p" x="203" y="301"/><use href="#p" x="203" y="300"/><use href="#p" x="203" y="307"/><use href="#p" x="204" y="299"/><use href="#p" x="204" y="305"/><use href="#p" x="205" y="302"/><use href="#p" x="205" y="306"/><use href="#p" x="206" y="304"/><use href="#p" x="206" y="301"/><use href="#p" x="206" y="298"/><use href="#p" x="207" y="304"/><use href="#p" x="207" y="298"/><use href="#p" x="208" y="305"/><use href="#p" x="208" y="309"/><use href="#p" x="208" y="298"/><use href="#p" x="208" y="307"/><use href="#p" x="209" y="310"/><use href="#p" x="209" y="308"/><use href="#p" x="210" y="309"/><use href="#p" x="210" y="301"/><use href="#p" x="210" y="308"/><use href="#p" x="211" y="306"/><use href="#p" x="211" y="301"/><use href="#p" x="211" y="309"/><use href="#p" x="212" y="303"/><use href="#p" x="212" y="309"/><use href="#p" x="213" y="304"/><use href="#p" x="213" y="302"/><use href="#p" x="213" y="305"/><use href="#p" x="214" y="300"/><use href="#p" x="215" y="307"/><use href="#p" x="215" y="305"/><use href="#p" x="215" y="311"/><use href="#p" x="216" y="297"/><use href="#p" x="216" y="306"/><use href="#p" x="216" y="310"/><use href="#p" x="217" y="310"/><use href="#p" x="217" y="304"/><use href="#p" x="218" y="310"/><use href="#p" x="218" y="307"/><use href="#p" x="218" y="309"/><use href="#p" x="219" y="307"/><use href="#p" x="219" y="300"/><use href="#p" x="220" y="300"/><use href="#p" x="220" y="309"/><use href="#p" x="220" y="301"/><use href="#p" x="221" y="310"/><use href="#p" x="221" y="305"/><use href="#p" x="222" y="299"/><use href="#p" x="222" y="298"/><use href="#p" x="222" y="307"/><use href="#p" x="223" y="309"/><use href="#p" x="223" y="303"/><use href="#p" x="223" y="304"/><use href="#p" x="224" y="309"/><use href="#p" x="224" y="307"/><use href="#p" x="224" y="299"/><use href="#p" x="225" y="307"/><use href="#p" x="225" y="301"/><use href="#p" x="226" y="308"/><use href="#p" x="226" y="309"/><use href="#p" x="226" y="311"/><use href="#p" x="227" y="311"/><use href="#p" x="227" y="309"/><use href="#p" x="228" y="308"/><use href="#p" x="228" y="297"/><use href="#p" x="228" y="307"/><use href="#p" x="229" y="302"/><use href="#p" x="229" y="312"/><use href="#p" x="229" y="310"/><use href="#p" x="230" y="313"/><use href="#p" x="230" y="310"/><use href="#p" x="230" y="298"/><use href="#p" x="231" y="307"/><use href="#p" x="231" y="313"/><use href="#p" x="231" y="311"/><use href="#p" x="232" y="308"/><use href="#p" x="232" y="306"/><use href="#p" x="233" y="299"/><use href="#p" x="233" y="305"/><use href="#p" x="233" y="300"/><use href="#p" x="234" y="298"/><use href="#p" x="234" y="311"/><use href="#p" x="235" y="300"/><use href="#p" x="235" y="310"/><use href="#p" x="235" y="312"/><use href="#p" x="236" y="305"/><use href="#p" x="236" y="300"/><use href="#p" x="237" y="299"/><use href="#p" x="237" y="303"/><use href="#p" x="237" y="312"/><use href="#p" x="238" y="303"/><use href="#p" x="238" y="305"/><use href="#p" x="239" y="305"/><use href="#p" x="239" y="308"/><use href="#p" x="239" y="309"/><use href="#p" x="239" y="314"/><use href="#p" x="240" y="306"/><use href="#p" x="240" y="311"/><use href="#p" x="241" y="301"/><use href="#p" x="241" y="300"/><use href="#p" x="241" y="299"/><use href="#p" x="242" y="309"/><use href="#p" x="242" y="308"/><use href="#p" x="243" y="310"/><use href="#p" x="243" y="301"/><use href="#p" x="243" y="304"/><use href="#p" x="244" y="302"/><use href="#p" x="244" y="311"/><use href="#p" x="244" y="307"/><use href="#p" x="245" y="302"/><use href="#p" x="245" y="305"/><use href="#p" x="245" y="297"/><use href="#p" x="246" y="303"/><use href="#p" x="246" y="310"/><use href="#p" x="247" y="311"/><use href="#p" x="247" y="298"/><use href="#p" x="247" y="307"/><use href="#p" x="248" y="301"/><use href="#p" x="248" y="312"/><use href="#p" x="248" y="310"/><use href="#p" x="249" y="298"/><use href="#p" x="249" y="299"/><use href="#p" x="249" y="304"/><use href="#p" x="250" y="306"/><use href="#p" x="250" y="304"/><use href="#p" x="251" y="301"/><use href="#p" x="251" y="297"/><use href="#p" x="252" y="305"/><use href="#p" x="252" y="311"/><use href="#p" x="253" y="311"/><use href="#p" x="253" y="302"/><use href="#p" x="253" y="305"/><use href="#p" x="254" y="308"/><use href="#p" x="254" y="304"/><use href="#p" x="254" y="313"/><use href="#p" x="255" y="298"/><use href="#p" x="255" y="303"/><use href="#p" x="256" y="301"/><use href="#p" x="256" y="299"/><use href="#p" x="256" y="313"/><use href="#p" x="257" y="313"/><use href="#p" x="257" y="304"/><use href="#p" x="257" y="307"/><use href="#p" x="258" y="311"/><use href="#p" x="258" y="301"/><use href="#p" x="259" y="313"/><use href="#p" x="259" y="306"/><use href="#p" x="260" y="306"/><use href="#p" x="260" y="308"/><use href="#p" x="260" y="299"/><use href="#p" x="261" y="306"/><use href="#p" x="261" y="303"/><use href="#p" x="270" y="308"/><use href="#p" x="271" y="305"/><use href="#p" x="271" y="311"/><use href="#p" x="272" y="317"/><use href="#p" x="273" y="324"/><use href="#p" x="273" y="318"/><use href="#p" x="275" y="302"/><use href="#p" x="275" y="308"/><use href="#p" x="276" y="323"/><use href="#p" x="277" y="308"/><use href="#p" x="277" y="318"/><use href="#p" x="278" y="310"/><use href="#p" x="279" y="309"/><use href="#p" x="280" y="324"/><use href="#p" x="280" y="317"/><use href="#p" x="281" y="322"/><use href="#p" x="282" y="309"/><use href="#p" x="283" y="310"/><use href="#p" x="284" y="302"/><use href="#p" x="284" y="308"/><use href="#p" x="285" y="318"/><use href="#p" x="285" y="320"/><use href="#p" x="286" y="313"/><use href="#p" x="287" y="323"/><use href="#p" x="288" y="323"/><use href="#p" x="289" y="312"/><use href="#p" x="290" y="314"/><use href="#p" x="290" y="323"/><use href="#p" x="291" y="310"/><use href="#p" x="292" y="325"/><use href="#p" x="292" y="322"/><use href="#p" x="293" y="304"/><use href="#p" x="294" y="310"/><use href="#p" x="294" y="309"/><use href="#p" x="295" y="302"/><use href="#p" x="296" y="314"/><use href="#p" x="297" y="312"/><use href="#p" x="298" y="326"/><use href="#p" x="298" y="309"/><use href="#p" x="299" y="304"/><use href="#p" x="102" y="496"/><use href="#p" x="102" y="497"/><use href="#p" x="103" y="497"/><use href="#p" x="103" y="494"/><use href="#p" x="104" y="496"/><use href="#p" x="104" y="495"/><use href="#p" x="104" y="494"/><use href="#p" x="105" y="493"/><use href="#p" x="105" y="495"/><use href="#p" x="105" y="494"/><use href="#p" x="106" y="494"/><use href="#p" x="106" y="497"/><use href="#p" x="106" y="496"/><use href="#p" x="107" y="495"/><use href="#p" x="107" y="493"/><use href="#p" x="107" y="496"/><use href="#p" x="108" y="495"/><use href="#p" x="108" y="497"/><use href="#p" x="108" y="496"/><use href="#p" x="109" y="495"/><use href="#p" x="109" y="493"/><use href="#p" x="109" y="496"/><use href="#p" x="110" y="495"/><use href="#p" x="110" y="494"/><use href="#p" x="110" y="497"/><use href="#p" x="110" y="496"/><use href="#p" x="111" y="495"/><use href="#p" x="111" y="497"/><use href="#p" x="111" y="496"/><use href="#p" x="111" y="494"/><use href="#p" x="112" y="496"/><use href="#p" x="112" y="495"/><use href="#p" x="112" y="497"/><use href="#p" x="112" y="492"/><use href="#p" x="113" y="494"/><use href="#p" x="113" y="496"/><use href="#p" x="113" y="495"/><use href="#p" x="114" y="494"/><use href="#p" x="114" y="495"/><use href="#p" x="114" y="497"/><use href="#p" x="115" y="495"/><use href="#p" x="115" y="496"/><use href="#p" x="115" y="494"/><use href="#p" x="116" y="493"/><use href="#p" x="116" y="492"/><use href="#p" x="116" y="491"/><use href="#p" x="116" y="487"/><use href="#p" x="116" y="489"/><use href="#p" x="117" y="487"/><use href="#p" x="117" y="486"/><use href="#p" x="117" y="488"/><use href="#p" x="118" y="486"/><use href="#p" x="118" y="483"/><use href="#p" x="118" y="485"/><use href="#p" x="118" y="488"/><use href="#p" x="118" y="484"/><use href="#p" x="118" y="489"/><use href="#p" x="119" y="485"/><use href="#p" x="119" y="486"/><use href="#p" x="119" y="488"/><use href="#p" x="119" y="487"/><use href="#p" x="120" y="487"/><use href="#p" x="120" y="484"/><use href="#p" x="120" y="483"/><use href="#p" x="120" y="486"/><use href="#p" x="120" y="485"/><use href="#p" x="121" y="489"/><use href="#p" x="121" y="485"/><use href="#p" x="121" y="486"/><use href="#p" x="121" y="487"/><use href="#p" x="122" y="488"/><use href="#p" x="122" y="483"/><use href="#p" x="122" y="484"/><use href="#p" x="122" y="490"/><use href="#p" x="123" y="487"/><use href="#p" x="123" y="489"/><use href="#p" x="123" y="486"/><use href="#p" x="123" y="488"/><use href="#p" x="123" y="485"/><use href="#p" x="124" y="487"/><use href="#p" x="124" y="485"/><use href="#p" x="124" y="483"/><use href="#p" x="124" y="484"/><use href="#p" x="125" y="484"/><use href="#p" x="125" y="490"/><use href="#p" x="125" y="488"/><use href="#p" x="125" y="485"/><use href="#p" x="126" y="488"/><use href="#p" x="126" y="489"/><use href="#p" x="126" y="484"/><use href="#p" x="126" y="487"/><use href="#p" x="126" y="485"/><use href="#p" x="127" y="491"/><use href="#p" x="127" y="487"/><use href="#p" x="127" y="489"/><use href="#p" x="127" y="488"/><use href="#p" x="128" y="490"/><use href="#p" x="128" y="485"/><use href="#p" x="128" y="489"/><use href="#p" x="128" y="483"/><use href="#p" x="129" y="485"/><use href="#p" x="129" y="489"/><use href="#p" x="129" y="484"/><use href="#p" x="129" y="483"/><use href="#p" x="130" y="484"/><use href="#p" x="130" y="490"/><use href="#p" x="130" y="487"/><use href="#p" x="130" y="486"/><use href="#p" x="131" y="488"/><use href="#p" x="131" y="487"/><use href="#p" x="131" y="485"/><use href="#p" x="132" y="488"/><use href="#p" x="132" y="487"/><use href="#p" x="132" y="483"/><use href="#p" x="132" y="486"/><use href="#p" x="133" y="486"/><use href="#p" x="133" y="489"/><use href="#p" x="133" y="490"/><use href="#p" x="133" y="485"/><use href="#p" x="134" y="486"/><use href="#p" x="134" y="490"/><use href="#p" x="134" y="485"/><use href="#p" x="134" y="487"/><use href="#p" x="135" y="487"/><use href="#p" x="135" y="488"/><use href="#p" x="135" y="489"/><use href="#p" x="136" y="490"/><use href="#p" x="136" y="485"/><use href="#p" x="136" y="488"/><use href="#p" x="136" y="489"/><use href="#p" x="137" y="491"/><use href="#p" x="137" y="490"/><use href="#p" x="137" y="487"/><use href="#p" x="137" y="486"/><use href="#p" x="137" y="485"/><use href="#p" x="137" y="484"/><use href="#p" x="138" y="491"/><use href="#p" x="138" y="489"/><use href="#p" x="138" y="486"/><use href="#p" x="138" y="488"/><use href="#p" x="139" y="486"/><use href="#p" x="139" y="491"/><use href="#p" x="139" y="490"/><use href="#p" x="139" y="487"/><use href="#p" x="139" y="488"/><use href="#p" x="140" y="486"/><use href="#p" x="140" y="487"/><use href="#p" x="140" y="485"/><use href="#p" x="141" y="488"/><use href="#p" x="141" y="490"/><use href="#p" x="142" y="488"/><use href="#p" x="142" y="487"/><use href="#p" x="142" y="489"/><use href="#p" x="143" y="489"/><use href="#p" x="143" y="491"/><use href="#p" x="143" y="488"/><use href="#p" x="143" y="486"/><use href="#p" x="144" y="489"/><use href="#p" x="144" y="488"/><use href="#p" x="144" y="490"/><use href="#p" x="144" y="491"/><use href="#p" x="145" y="491"/><use href="#p" x="145" y="489"/><use href="#p" x="145" y="487"/><use href="#p" x="146" y="490"/><use href="#p" x="146" y="487"/><use href="#p" x="146" y="489"/><use href="#p" x="146" y="492"/><use href="#p" x="147" y="487"/><use href="#p" x="147" y="490"/><use href="#p" x="147" y="491"/><use href="#p" x="148" y="490"/><use href="#p" x="148" y="488"/><use href="#p" x="148" y="491"/><use href="#p" x="148" y="492"/><use href="#p" x="148" y="493"/><use href="#p" x="149" y="488"/><use href="#p" x="149" y="492"/><use href="#p" x="149" y="490"/><use href="#p" x="149" y="489"/><use href="#p" x="150" y="488"/><use href="#p" x="150" y="493"/><use href="#p" x="150" y="491"/><use href="#p" x="150" y="489"/><use href="#p" x="150" y="492"/><use href="#p" x="151" y="490"/><use href="#p" x="151" y="488"/><use href="#p" x="151" y="491"/><use href="#p" x="152" y="491"/><use href="#p" x="152" y="489"/><use href="#p" x="152" y="492"/><use href="#p" x="152" y="490"/><use href="#p" x="153" y="489"/><use href="#p" x="153" y="490"/><use href="#p" x="153" y="491"/><use href="#p" x="154" y="491"/><use href="#p" x="154" y="492"/><use href="#p" x="154" y="490"/><use href="#p" x="154" y="489"/><use href="#p" x="155" y="490"/><use href="#p" x="155" y="491"/><use href="#p" x="155" y="489"/><use href="#p" x="155" y="492"/><use href="#p" x="156" y="491"/><use href="#p" x="156" y="492"/><use href="#p" x="157" y="493"/><use href="#p" x="157" y="492"/><use href="#p" x="157" y="489"/><use href="#p" x="157" y="490"/><use href="#p" x="158" y="492"/><use href="#p" x="158" y="494"/><use href="#p" x="158" y="493"/><use href="#p" x="158" y="491"/><use href="#p" x="159" y="492"/><use href="#p" x="159" y="493"/><use href="#p" x="160" y="492"/><use href="#p" x="160" y="493"/><use href="#p" x="160" y="491"/><use href="#p" x="160" y="494"/><use href="#p" x="161" y="493"/><use href="#p" x="161" y="492"/><use href="#p" x="161" y="491"/><use href="#p" x="161" y="494"/><use href="#p" x="162" y="493"/><use href="#p" x="162" y="494"/><use href="#p" x="162" y="492"/><use href="#p" x="163" y="494"/><use href="#p" x="163" y="495"/><use href="#p" x="163" y="491"/><use href="#p" x="163" y="493"/><use href="#p" x="164" y="491"/><use href="#p" x="164" y="494"/><use href="#p" x="164" y="495"/><use href="#p" x="164" y="492"/><use href="#p" x="165" y="492"/><use href="#p" x="165" y="493"/><use href="#p" x="165" y="494"/><use href="#p" x="166" y="494"/><use href="#p" x="166" y="491"/><use href="#p" x="166" y="493"/><use href="#p" x="166" y="495"/><use href="#p" x="167" y="495"/><use href="#p" x="167" y="494"/><use href="#p" x="167" y="492"/><use href="#p" x="167" y="491"/><use href="#p" x="168" y="494"/><use href="#p" x="168" y="492"/><use href="#p" x="168" y="491"/><use href="#p" x="169" y="493"/><use href="#p" x="169" y="494"/><use href="#p" x="170" y="493"/><use href="#p" x="170" y="494"/><use href="#p" x="170" y="492"/><use href="#p" x="171" y="494"/><use href="#p" x="171" y="493"/><use href="#p" x="171" y="492"/><use href="#p" x="172" y="493"/><use href="#p" x="172" y="495"/><use href="#p" x="172" y="492"/><use href="#p" x="172" y="494"/><use href="#p" x="172" y="496"/><use href="#p" x="173" y="494"/><use href="#p" x="173" y="492"/><use href="#p" x="173" y="495"/><use href="#p" x="174" y="496"/><use href="#p" x="174" y="495"/><use href="#p" x="174" y="494"/><use href="#p" x="174" y="493"/><use href="#p" x="175" y="494"/><use href="#p" x="175" y="492"/><use href="#p" x="175" y="493"/><use href="#p" x="175" y="495"/><use href="#p" x="176" y="493"/><use href="#p" x="176" y="495"/><use href="#p" x="176" y="494"/><use href="#p" x="177" y="495"/><use href="#p" x="177" y="494"/><use href="#p" x="177" y="492"/><use href="#p" x="178" y="495"/><use href="#p" x="178" y="492"/><use href="#p" x="178" y="494"/><use href="#p" x="178" y="493"/><use href="#p" x="178" y="496"/><use href="#p" x="179" y="492"/><use href="#p" x="179" y="493"/><use href="#p" x="179" y="496"/><use href="#p" x="180" y="494"/><use href="#p" x="180" y="493"/><use href="#p" x="180" y="492"/><use href="#p" x="181" y="496"/><use href="#p" x="181" y="493"/><use href="#p" x="181" y="494"/><use href="#p" x="181" y="495"/><use href="#p" x="182" y="493"/><use href="#p" x="182" y="494"/><use href="#p" x="182" y="495"/><use href="#p" x="183" y="493"/><use href="#p" x="183" y="495"/><use href="#p" x="183" y="496"/><use href="#p" x="183" y="494"/><use href="#p" x="183" y="492"/><use href="#p" x="184" y="494"/><use href="#p" x="184" y="496"/><use href="#p" x="184" y="497"/><use href="#p" x="185" y="496"/><use href="#p" x="185" y="494"/><use href="#p" x="185" y="497"/><use href="#p" x="185" y="495"/><use href="#p" x="186" y="496"/><use href="#p" x="186" y="493"/><use href="#p" x="186" y="494"/><use href="#p" x="186" y="495"/><use href="#p" x="187" y="495"/><use href="#p" x="187" y="498"/><use href="#p" x="187" y="496"/><use href="#p" x="188" y="495"/><use href="#p" x="188" y="494"/><use href="#p" x="188" y="497"/><use href="#p" x="188" y="496"/><use href="#p" x="189" y="493"/><use href="#p" x="189" y="496"/><use href="#p" x="189" y="494"/><use href="#p" x="189" y="495"/><use href="#p" x="190" y="498"/><use href="#p" x="190" y="497"/><use href="#p" x="190" y="495"/><use href="#p" x="190" y="494"/><use href="#p" x="191" y="493"/><use href="#p" x="191" y="494"/><use href="#p" x="191" y="492"/><use href="#p" x="191" y="495"/><use href="#p" x="192" y="495"/><use href="#p" x="192" y="493"/><use href="#p" x="192" y="496"/><use href="#p" x="192" y="494"/><use href="#p" x="192" y="497"/><use href="#p" x="197" y="503"/><use href="#p" x="197" y="498"/><use href="#p" x="197" y="495"/><use href="#p" x="197" y="497"/><use href="#p" x="198" y="496"/><use href="#p" x="198" y="498"/><use href="#p" x="198" y="500"/><use href="#p" x="198" y="503"/><use href="#p" x="198" y="499"/><use href="#p" x="199" y="502"/><use href="#p" x="199" y="504"/><use href="#p" x="199" y="498"/><use href="#p" x="199" y="503"/><use href="#p" x="200" y="503"/><use href="#p" x="200" y="502"/><use href="#p" x="200" y="507"/><use href="#p" x="200" y="506"/><use href="#p" x="201" y="505"/><use href="#p" x="201" y="503"/><use href="#p" x="201" y="508"/><use href="#p" x="201" y="501"/><use href="#p" x="202" y="503"/><use href="#p" x="202" y="507"/><use href="#p" x="202" y="509"/><use href="#p" x="202" y="505"/><use href="#p" x="202" y="502"/><use href="#p" x="203" y="510"/><use href="#p" x="203" y="509"/><use href="#p" x="203" y="502"/><use href="#p" x="203" y="507"/><use href="#p" x="203" y="504"/><use href="#p" x="204" y="512"/><use href="#p" x="204" y="509"/><use href="#p" x="204" y="510"/><use href="#p" x="204" y="500"/><use href="#p" x="204" y="502"/><use href="#p" x="205" y="502"/><use href="#p" x="205" y="506"/><use href="#p" x="205" y="501"/><use href="#p" x="205" y="505"/><use href="#p" x="205" y="508"/><use href="#p" x="206" y="507"/><use href="#p" x="206" y="514"/><use href="#p" x="206" y="502"/><use href="#p" x="206" y="512"/><use href="#p" x="206" y="503"/><use href="#p" x="207" y="503"/><use href="#p" x="207" y="511"/><use href="#p" x="207" y="509"/><use href="#p" x="207" y="510"/><use href="#p" x="207" y="512"/><use href="#p" x="207" y="514"/><use href="#p" x="208" y="509"/><use href="#p" x="208" y="506"/><use href="#p" x="208" y="513"/><use href="#p" x="208" y="508"/><use href="#p" x="209" y="503"/><use href="#p" x="209" y="511"/><use href="#p" x="209" y="508"/><use href="#p" x="209" y="505"/><use href="#p" x="210" y="505"/><use href="#p" x="210" y="515"/><use href="#p" x="210" y="503"/><use href="#p" x="210" y="510"/><use href="#p" x="210" y="509"/><use href="#p" x="211" y="503"/><use href="#p" x="211" y="509"/><use href="#p" x="211" y="514"/><use href="#p" x="211" y="502"/><use href="#p" x="212" y="504"/><use href="#p" x="212" y="503"/><use href="#p" x="212" y="507"/><use href="#p" x="212" y="506"/><use href="#p" x="213" y="514"/><use href="#p" x="213" y="506"/><use href="#p" x="213" y="509"/><use href="#p" x="213" y="515"/><use href="#p" x="214" y="512"/><use href="#p" x="214" y="504"/><use href="#p" x="214" y="510"/><use href="#p" x="214" y="506"/><use href="#p" x="214" y="507"/><use href="#p" x="215" y="503"/><use href="#p" x="215" y="513"/><use href="#p" x="215" y="516"/><use href="#p" x="215" y="506"/><use href="#p" x="215" y="501"/><use href="#p" x="216" y="501"/><use href="#p" x="216" y="510"/><use href="#p" x="216" y="505"/><use href="#p" x="216" y="509"/><use href="#p" x="216" y="515"/><use href="#p" x="217" y="503"/><use href="#p" x="217" y="504"/><use href="#p" x="217" y="511"/><use href="#p" x="217" y="505"/><use href="#p" x="217" y="513"/><use href="#p" x="218" y="509"/><use href="#p" x="218" y="510"/><use href="#p" x="218" y="516"/><use href="#p" x="218" y="502"/><use href="#p" x="219" y="511"/><use href="#p" x="219" y="509"/><use href="#p" x="219" y="515"/><use href="#p" x="219" y="516"/><use href="#p" x="220" y="506"/><use href="#p" x="220" y="503"/><use href="#p" x="220" y="515"/><use href="#p" x="220" y="512"/><use href="#p" x="220" y="504"/><use href="#p" x="221" y="504"/><use href="#p" x="221" y="508"/><use href="#p" x="221" y="502"/><use href="#p" x="221" y="501"/><use href="#p" x="221" y="509"/><use href="#p" x="222" y="502"/><use href="#p" x="222" y="512"/><use href="#p" x="222" y="511"/><use href="#p" x="222" y="508"/><use href="#p" x="223" y="509"/><use href="#p" x="223" y="514"/><use href="#p" x="223" y="502"/><use href="#p" x="223" y="510"/><use href="#p" x="223" y="505"/><use href="#p" x="223" y="504"/><use href="#p" x="224" y="503"/><use href="#p" x="224" y="510"/><use href="#p" x="224" y="512"/><use href="#p" x="224" y="505"/><use href="#p" x="224" y="513"/><use href="#p" x="225" y="508"/><use href="#p" x="225" y="511"/><use href="#p" x="225" y="515"/><use href="#p" x="225" y="512"/><use href="#p" x="226" y="508"/><use href="#p" x="226" y="505"/><use href="#p" x="226" y="515"/><use href="#p" x="226" y="503"/><use href="#p" x="227" y="510"/><use href="#p" x="227" y="513"/><use href="#p" x="227" y="514"/><use href="#p" x="227" y="511"/><use href="#p" x="227" y="502"/><use href="#p" x="228" y="506"/><use href="#p" x="228" y="509"/><use href="#p" x="228" y="507"/><use href="#p" x="228" y="513"/><use href="#p" x="228" y="512"/><use href="#p" x="229" y="510"/><use href="#p" x="229" y="511"/><use href="#p" x="229" y="509"/><use href="#p" x="229" y="512"/><use href="#p" x="229" y="505"/><use href="#p" x="229" y="506"/><use href="#p" x="230" y="511"/><use href="#p" x="230" y="507"/><use href="#p" x="230" y="509"/><use href="#p" x="230" y="516"/><use href="#p" x="231" y="511"/><use href="#p" x="231" y="514"/><use href="#p" x="231" y="507"/><use href="#p" x="231" y="510"/><use href="#p" x="231" y="502"/><use href="#p" x="232" y="505"/><use href="#p" x="232" y="511"/><use href="#p" x="232" y="506"/><use href="#p" x="232" y="509"/><use href="#p" x="232" y="515"/><use href="#p" x="233" y="504"/><use href="#p" x="233" y="517"/><use href="#p" x="233" y="510"/><use href="#p" x="233" y="512"/><use href="#p" x="233" y="514"/><use href="#p" x="233" y="508"/><use href="#p" x="234" y="507"/><use href="#p" x="234" y="512"/><use href="#p" x="234" y="515"/><use href="#p" x="234" y="509"/><use href="#p" x="235" y="509"/><use href="#p" x="235" y="507"/><use href="#p" x="235" y="508"/><use href="#p" x="235" y="513"/><use href="#p" x="235" y="504"/><use href="#p" x="236" y="505"/><use href="#p" x="236" y="511"/><use href="#p" x="236" y="514"/><use href="#p" x="236" y="516"/><use href="#p" x="236" y="508"/><use href="#p" x="237" y="517"/><use href="#p" x="237" y="503"/><use href="#p" x="237" y="512"/><use href="#p" x="237" y="507"/><use href="#p" x="237" y="502"/><use href="#p" x="238" y="515"/><use href="#p" x="238" y="512"/><use href="#p" x="238" y="509"/><use href="#p" x="238" y="510"/><use href="#p" x="238" y="504"/><use href="#p" x="239" y="506"/><use href="#p" x="239" y="511"/><use href="#p" x="239" y="509"/><use href="#p" x="239" y="510"/><use href="#p" x="240" y="508"/><use href="#p" x="240" y="511"/><use href="#p" x="240" y="517"/><use href="#p" x="240" y="509"/><use href="#p" x="240" y="515"/><use href="#p" x="241" y="508"/><use href="#p" x="241" y="507"/><use href="#p" x="241" y="510"/><use href="#p" x="241" y="515"/><use href="#p" x="241" y="519"/><use href="#p" x="242" y="514"/><use href="#p" x="242" y="506"/><use href="#p" x="242" y="517"/><use href="#p" x="242" y="510"/><use href="#p" x="243" y="509"/><use href="#p" x="243" y="505"/><use href="#p" x="243" y="506"/><use href="#p" x="243" y="514"/><use href="#p" x="244" y="507"/><use href="#p" x="244" y="516"/><use href="#p" x="244" y="511"/><use href="#p" x="244" y="506"/><use href="#p" x="245" y="510"/><use href="#p" x="245" y="515"/><use href="#p" x="245" y="514"/><use href="#p" x="245" y="512"/><use href="#p" x="245" y="507"/><use href="#p" x="245" y="505"/><use href="#p" x="246" y="506"/><use href="#p" x="246" y="510"/><use href="#p" x="246" y="507"/><use href="#p" x="246" y="517"/><use href="#p" x="246" y="516"/><use href="#p" x="247" y="507"/><use href="#p" x="247" y="511"/><use href="#p" x="247" y="514"/><use href="#p" x="247" y="512"/><use href="#p" x="247" y="506"/><use href="#p" x="248" y="505"/><use href="#p" x="248" y="508"/><use href="#p" x="248" y="510"/><use href="#p" x="248" y="509"/><use href="#p" x="248" y="506"/><use href="#p" x="249" y="509"/><use href="#p" x="249" y="508"/><use href="#p" x="249" y="506"/><use href="#p" x="250" y="513"/><use href="#p" x="250" y="507"/><use href="#p" x="250" y="512"/><use href="#p" x="250" y="509"/><use href="#p" x="250" y="516"/><use href="#p" x="250" y="508"/><use href="#p" x="251" y="509"/><use href="#p" x="251" y="506"/><use href="#p" x="251" y="508"/><use href="#p" x="251" y="507"/><use href="#p" x="252" y="517"/><use href="#p" x="252" y="513"/><use href="#p" x="252" y="506"/><use href="#p" x="252" y="516"/><use href="#p" x="252" y="512"/><use href="#p" x="253" y="509"/><use href="#p" x="253" y="515"/><use href="#p" x="253" y="516"/><use href="#p" x="253" y="508"/><use href="#p" x="254" y="508"/><use href="#p" x="254" y="513"/><use href="#p" x="254" y="512"/><use href="#p" x="254" y="515"/><use href="#p" x="254" y="511"/><use href="#p" x="255" y="507"/><use href="#p" x="255" y="516"/><use href="#p" x="255" y="506"/><use href="#p" x="255" y="509"/><use href="#p" x="256" y="509"/><use href="#p" x="256" y="515"/><use href="#p" x="256" y="511"/><use href="#p" x="257" y="513"/><use href="#p" x="257" y="514"/><use href="#p" x="257" y="515"/><use href="#p" x="257" y="510"/><use href="#p" x="258" y="516"/><use href="#p" x="258" y="513"/><use href="#p" x="258" y="512"/><use href="#p" x="258" y="511"/><use href="#p" x="259" y="509"/><use href="#p" x="259" y="512"/><use href="#p" x="259" y="517"/><use href="#p" x="259" y="516"/><use href="#p" x="259" y="515"/><use href="#p" x="213" y="516"/><use href="#p" x="215" y="525"/><use href="#p" x="213" y="521"/><use href="#p" x="214" y="515"/><use href="#p" x="215" y="515"/><use href="#p" x="214" y="522"/><use href="#p" x="214" y="519"/><use href="#p" x="212" y="519"/><use href="#p" x="214" y="527"/><use href="#p" x="222" y="522"/><use href="#p" x="222" y="530"/><use href="#p" x="222" y="527"/><use href="#p" x="223" y="524"/><use href="#p" x="220" y="518"/><use href="#p" x="221" y="529"/><use href="#p" x="220" y="521"/><use href="#p" x="220" y="520"/><use href="#p" x="219" y="525"/><use href="#p" x="220" y="527"/><use href="#p" x="222" y="535"/><use href="#p" x="221" y="527"/><use href="#p" x="258" y="535"/><use href="#p" x="260" y="538"/><use href="#p" x="261" y="535"/><use href="#p" x="260" y="532"/><use href="#p" x="259" y="527"/><use href="#p" x="258" y="518"/><use href="#p" x="260" y="523"/><use href="#p" x="257" y="519"/><use href="#p" x="260" y="535"/><use href="#p" x="259" y="525"/><use href="#p" x="260" y="517"/><use href="#p" x="260" y="520"/><use href="#p" x="270" y="518"/><use href="#p" x="270" y="519"/><use href="#p" x="270" y="517"/><use href="#p" x="270" y="512"/><use href="#p" x="270" y="508"/><use href="#p" x="270" y="515"/><use href="#p" x="271" y="510"/><use href="#p" x="271" y="514"/><use href="#p" x="271" y="517"/><use href="#p" x="271" y="513"/><use href="#p" x="271" y="519"/><use href="#p" x="271" y="509"/><use href="#p" x="272" y="510"/><use href="#p" x="272" y="516"/><use href="#p" x="272" y="524"/><use href="#p" x="272" y="506"/><use href="#p" x="272" y="517"/><use href="#p" x="272" y="522"/><use href="#p" x="273" y="520"/><use href="#p" x="273" y="506"/><use href="#p" x="273" y="521"/><use href="#p" x="273" y="513"/><use href="#p" x="273" y="519"/><use href="#p" x="273" y="508"/><use href="#p" x="273" y="522"/><use href="#p" x="274" y="517"/><use href="#p" x="274" y="510"/><use href="#p" x="274" y="522"/><use href="#p" x="274" y="509"/><use href="#p" x="274" y="513"/><use href="#p" x="274" y="514"/><use href="#p" x="275" y="510"/><use href="#p" x="275" y="521"/><use href="#p" x="275" y="513"/><use href="#p" x="275" y="508"/><use href="#p" x="275" y="514"/><use href="#p" x="275" y="515"/><use href="#p" x="275" y="506"/><use href="#p" x="276" y="520"/><use href="#p" x="276" y="517"/><use href="#p" x="276" y="508"/><use href="#p" x="276" y="507"/><use href="#p" x="276" y="513"/><use href="#p" x="276" y="521"/><use href="#p" x="276" y="511"/><use href="#p" x="276" y="510"/><use href="#p" x="277" y="511"/><use href="#p" x="277" y="510"/><use href="#p" x="277" y="520"/><use href="#p" x="277" y="508"/><use href="#p" x="277" y="519"/><use href="#p" x="277" y="509"/><use href="#p" x="277" y="517"/><use href="#p" x="278" y="505"/><use href="#p" x="278" y="512"/><use href="#p" x="278" y="515"/><use href="#p" x="278" y="508"/><use href="#p" x="278" y="518"/><use href="#p" x="278" y="506"/><use href="#p" x="278" y="516"/><use href="#p" x="279" y="509"/><use href="#p" x="279" y="511"/><use href="#p" x="279" y="512"/><use href="#p" x="279" y="517"/><use href="#p" x="279" y="510"/><use href="#p" x="280" y="507"/><use href="#p" x="280" y="509"/><use href="#p" x="280" y="517"/><use href="#p" x="280" y="505"/><use href="#p" x="280" y="516"/><use href="#p" x="280" y="518"/><use href="#p" x="281" y="511"/><use href="#p" x="281" y="520"/><use href="#p" x="281" y="515"/><use href="#p" x="281" y="508"/><use href="#p" x="281" y="516"/><use href="#p" x="281" y="518"/><use href="#p" x="282" y="510"/><use href="#p" x="282" y="514"/><use href="#p" x="282" y="506"/><use href="#p" x="282" y="507"/><use href="#p" x="282" y="517"/><use href="#p" x="282" y="511"/><use href="#p" x="282" y="520"/><use href="#p" x="282" y="505"/><use href="#p" x="283" y="513"/><use href="#p" x="283" y="511"/><use href="#p" x="283" y="517"/><use href="#p" x="283" y="508"/><use href="#p" x="283" y="514"/><use href="#p" x="283" y="520"/><use href="#p" x="283" y="515"/><use href="#p" x="284" y="519"/><use href="#p" x="284" y="514"/><use href="#p" x="284" y="510"/><use href="#p" x="284" y="506"/><use href="#p" x="284" y="518"/><use href="#p" x="284" y="507"/><use href="#p" x="284" y="516"/><use href="#p" x="285" y="510"/><use href="#p" x="285" y="506"/><use href="#p" x="285" y="518"/><use href="#p" x="285" y="515"/><use href="#p" x="285" y="514"/><use href="#p" x="285" y="509"/><use href="#p" x="285" y="511"/><use href="#p" x="286" y="515"/><use href="#p" x="286" y="512"/><use href="#p" x="286" y="519"/><use href="#p" x="286" y="505"/><use href="#p" x="286" y="513"/><use href="#p" x="286" y="506"/><use href="#p" x="286" y="517"/><use href="#p" x="287" y="515"/><use href="#p" x="287" y="505"/><use href="#p" x="287" y="510"/><use href="#p" x="287" y="507"/><use href="#p" x="287" y="513"/><use href="#p" x="287" y="517"/><use href="#p" x="287" y="511"/><use href="#p" x="287" y="509"/><use href="#p" x="288" y="514"/><use href="#p" x="288" y="511"/><use href="#p" x="288" y="516"/><use href="#p" x="268" y="550"/><use href="#p" x="270" y="578"/><use href="#p" x="270" y="570"/><use href="#p" x="271" y="564"/><use href="#p" x="268" y="564"/><use href="#p" x="269" y="564"/><use href="#p" x="270" y="572"/><use href="#p" x="271" y="570"/><use href="#p" x="273" y="567"/><use href="#p" x="270" y="552"/><use href="#p" x="270" y="564"/><use href="#p" x="270" y="559"/><use href="#p" x="269" y="555"/><use href="#p" x="271" y="545"/><use href="#p" x="269" y="515"/><use href="#p" x="269" y="531"/><use href="#p" x="269" y="537"/><use href="#p" x="269" y="516"/><use href="#p" x="269" y="543"/><use href="#p" x="269" y="536"/><use href="#p" x="269" y="534"/><use href="#p" x="269" y="523"/><use href="#p" x="270" y="542"/><use href="#p" x="270" y="543"/><use href="#p" x="270" y="539"/><use href="#p" x="270" y="513"/><use href="#p" x="271" y="540"/><use href="#p" x="271" y="529"/><use href="#p" x="271" y="544"/><use href="#p" x="272" y="530"/><use href="#p" x="272" y="513"/><use href="#p" x="272" y="542"/><use href="#p" x="272" y="523"/><use href="#p" x="272" y="518"/><use href="#p" x="273" y="539"/><use href="#p" x="273" y="538"/><use href="#p" x="273" y="512"/><use href="#p" x="273" y="530"/><use href="#p" x="273" y="514"/><use href="#p" x="274" y="536"/><use href="#p" x="274" y="534"/><use href="#p" x="274" y="531"/><use href="#p" x="274" y="535"/><use href="#p" x="274" y="519"/><use href="#p" x="274" y="527"/><use href="#p" x="291" y="554"/><use href="#p" x="289" y="543"/><use href="#p" x="287" y="555"/><use href="#p" x="287" y="546"/><use href="#p" x="290" y="551"/><use href="#p" x="287" y="552"/><use href="#p" x="288" y="552"/><use href="#p" x="285" y="526"/><use href="#p" x="285" y="534"/><use href="#p" x="288" y="555"/><use href="#p" x="288" y="557"/><use href="#p" x="286" y="531"/><use href="#p" x="285" y="537"/><use href="#p" x="286" y="534"/><use href="#p" x="293" y="515"/><use href="#p" x="293" y="522"/><use href="#p" x="293" y="513"/><use href="#p" x="293" y="523"/><use href="#p" x="294" y="517"/><use href="#p" x="294" y="515"/><use href="#p" x="294" y="516"/><use href="#p" x="294" y="519"/><use href="#p" x="294" y="514"/><use href="#p" x="294" y="521"/><use href="#p" x="294" y="518"/><use href="#p" x="294" y="526"/><use href="#p" x="294" y="529"/><use href="#p" x="295" y="529"/><use href="#p" x="295" y="530"/><use href="#p" x="295" y="523"/><use href="#p" x="295" y="520"/><use href="#p" x="295" y="528"/><use href="#p" x="295" y="525"/><use href="#p" x="295" y="514"/><use href="#p" x="295" y="524"/><use href="#p" x="296" y="524"/><use href="#p" x="296" y="513"/><use href="#p" x="296" y="516"/><use href="#p" x="296" y="517"/><use href="#p" x="296" y="525"/><use href="#p" x="296" y="522"/><use href="#p" x="296" y="523"/><use href="#p" x="296" y="519"/><use href="#p" x="297" y="524"/><use href="#p" x="297" y="516"/><use href="#p" x="297" y="523"/><use href="#p" x="297" y="514"/><use href="#p" x="297" y="527"/><use href="#p" x="297" y="512"/><use href="#p" x="298" y="513"/><use href="#p" x="298" y="517"/><use href="#p" x="298" y="515"/><use href="#p" x="298" y="520"/><use href="#p" x="298" y="526"/><use href="#p" x="298" y="518"/><use href="#p" x="298" y="522"/><use href="#p" x="298" y="524"/><use href="#p" x="299" y="525"/><use href="#p" x="299" y="518"/><use href="#p" x="299" y="517"/><use href="#p" x="299" y="524"/><use href="#p" x="299" y="520"/><use href="#p" x="299" y="515"/><use href="#p" x="299" y="523"/><use href="#p" x="299" y="526"/><use href="#p" x="299" y="521"/><use href="#p" x="300" y="528"/><use href="#p" x="300" y="518"/><use href="#p" x="300" y="519"/><use href="#p" x="300" y="521"/><use href="#p" x="300" y="517"/><use href="#p" x="298" y="544"/><use href="#p" x="297" y="548"/><use href="#p" x="298" y="547"/><use href="#p" x="295" y="540"/><use href="#p" x="296" y="552"/><use href="#p" x="296" y="545"/><use href="#p" x="294" y="540"/><use href="#p" x="298" y="539"/><use href="#p" x="295" y="554"/><use href="#p" x="295" y="538"/><use href="#p" x="305" y="517"/><use href="#p" x="305" y="510"/><use href="#p" x="305" y="519"/><use href="#p" x="306" y="520"/><use href="#p" x="306" y="525"/><use href="#p" x="306" y="517"/><use href="#p" x="306" y="515"/><use href="#p" x="306" y="523"/><use href="#p" x="306" y="516"/><use href="#p" x="306" y="524"/><use href="#p" x="306" y="510"/><use href="#p" x="307" y="523"/><use href="#p" x="307" y="518"/><use href="#p" x="307" y="525"/><use href="#p" x="307" y="514"/><use href="#p" x="307" y="509"/><use href="#p" x="307" y="517"/><use href="#p" x="307" y="510"/><use href="#p" x="307" y="513"/><use href="#p" x="308" y="514"/><use href="#p" x="308" y="525"/><use href="#p" x="308" y="522"/><use href="#p" x="308" y="518"/><use href="#p" x="308" y="513"/><use href="#p" x="309" y="525"/><use href="#p" x="309" y="518"/><use href="#p" x="309" y="514"/><use href="#p" x="309" y="513"/><use href="#p" x="309" y="511"/><use href="#p" x="309" y="510"/><use href="#p" x="309" y="519"/><use href="#p" x="310" y="517"/><use href="#p" x="310" y="508"/><use href="#p" x="310" y="519"/><use href="#p" x="310" y="516"/><use href="#p" x="310" y="515"/><use href="#p" x="310" y="512"/><use href="#p" x="310" y="518"/><use href="#p" x="310" y="514"/><use href="#p" x="311" y="520"/><use href="#p" x="311" y="522"/><use href="#p" x="311" y="515"/><use href="#p" x="311" y="517"/><use href="#p" x="311" y="512"/><use href="#p" x="311" y="523"/><use href="#p" x="311" y="511"/><use href="#p" x="311" y="508"/><use href="#p" x="312" y="522"/><use href="#p" x="312" y="519"/><use href="#p" x="312" y="525"/><use href="#p" x="313" y="519"/><use href="#p" x="313" y="515"/><use href="#p" x="313" y="524"/><use href="#p" x="313" y="508"/><use href="#p" x="313" y="516"/><use href="#p" x="313" y="512"/><use href="#p" x="313" y="514"/><use href="#p" x="314" y="510"/><use href="#p" x="314" y="513"/><use href="#p" x="314" y="521"/><use href="#p" x="314" y="518"/><use href="#p" x="314" y="514"/><use href="#p" x="314" y="519"/><use href="#p" x="314" y="517"/><use href="#p" x="312" y="538"/><use href="#p" x="314" y="536"/><use href="#p" x="311" y="527"/><use href="#p" x="314" y="542"/><use href="#p" x="311" y="528"/><use href="#p" x="311" y="534"/><use href="#p" x="311" y="532"/><use href="#p" x="100" y="513"/><use href="#p" x="99" y="506"/><use href="#p" x="101" y="508"/><use href="#p" x="102" y="513"/><use href="#p" x="99" y="511"/><use href="#p" x="101" y="514"/><use href="#p" x="103" y="512"/><use href="#p" x="100" y="511"/><use href="#p" x="98" y="508"/><use href="#p" x="100" y="461"/><use href="#p" x="283" y="548"/><use href="#p" x="287" y="556"/><use href="#p" x="285" y="562"/><use href="#p" x="300" y="560"/><use href="#p" x="310" y="545"/></g><g fill="#00ff00"><use href="#x" x="102" y="125"/><use href="#x" x="102" y="130"/><use href="#x" x="102" y="126"/><use href="#x" x="103" y="126"/><use href="#x" x="103" y="127"/><use href="#x" x="103" y="129"/><use href="#x" x="104" y="126"/><use href="#x" x="104" y="125"/><use href="#x" x="105" y="125"/><use href="#x" x="105" y="127"/><use href="#x" x="106" y="124"/><use href="#x" x="106" y="127"/><use href="#x" x="107" y="124"/><use href="#x" x="107" y="125"/><use href="#x" x="108" y="126"/><use href="#x" x="108" y="128"/><use href="#x" x="108" y="127"/><use href="#x" x="109" y="125"/><use href="#x" x="109" y="124"/><use href="#x" x="110" y="126"/><use href="#x" x="110" y="125"/><use href="#x" x="110" y="124"/><use href="#x" x="111" y="124"/><use href="#x" x="111" y="127"/><use href="#x" x="112" y="126"/><use href="#x" x="112" y="124"/><use href="#x" x="113" y="125"/><use href="#x" x="113" y="123"/><use href="#x" x="113" y="126"/><use href="#x" x="114" y="127"/><use href="#x" x="114" y="126"/><use href="#x" x="115" y="122"/><use href="#x" x="115" y="125"/><use href="#x" x="115" y="123"/><use href="#x" x="116" y="124"/><use href="#x" x="117" y="126"/><use href="#x" x="117" y="125"/><use href="#x" x="118" y="125"/><use href="#x" x="118" y="127"/><use href="#x" x="119" y="124"/><use href="#x" x="119" y="127"/><use href="#x" x="120" y="126"/><use href="#x" x="120" y="128"/><use href="#x" x="120" y="125"/><use href="#x" x="121" y="123"/><use href="#x" x="121" y="125"/><use href="#x" x="121" y="124"/><use href="#x" x="122" y="125"/><use href="#x" x="122" y="128"/><use href="#x" x="123" y="123"/><use href="#x" x="123" y="127"/><use href="#x" x="124" y="125"/><use href="#x" x="124" y="122"/><use href="#x" x="125" y="128"/><use href="#x" x="125" y="126"/><use href="#x" x="126" y="126"/><use href="#x" x="126" y="125"/><use href="#x" x="127" y="126"/><use href="#x" x="127" y="125"/><use href="#x" x="127" y="124"/><use href="#x" x="128" y="124"/><use href="#x" x="128" y="123"/><use href="#x" x="129" y="123"/><use href="#x" x="129" y="126"/><use href="#x" x="129" y="127"/><use href="#x" x="129" y="125"/><use href="#x" x="130" y="125"/><use href="#x" x="130" y="126"/><use href="#x" x="130" y="123"/><use href="#x" x="131" y="125"/><use href="#x" x="131" y="124"/><use href="#x" x="132" y="123"/><use href="#x" x="132" y="125"/><use href="#x" x="132" y="124"/><use href="#x" x="133" y="127"/><use href="#x" x="133" y="126"/><use href="#x" x="134" y="124"/><use href="#x" x="134" y="125"/><use href="#x" x="135" y="124"/><use href="#x" x="135" y="125"/><use href="#x" x="135" y="123"/><use href="#x" x="136" y="124"/><use href="#x" x="136" y="125"/><use href="#x" x="136" y="126"/><use href="#x" x="136" y="123"/><use href="#x" x="137" y="122"/><use href="#x" x="137" y="125"/><use href="#x" x="137" y="123"/><use href="#x" x="138" y="124"/><use href="#x" x="139" y="125"/><use href="#x" x="139" y="124"/><use href="#x" x="140" y="126"/><use href="#x" x="141" y="122"/><use href="#x" x="141" y="123"/><use href="#x" x="141" y="124"/><use href="#x" x="142" y="123"/><use href="#x" x="142" y="125"/><use href="#x" x="143" y="126"/><use href="#x" x="143" y="125"/><use href="#x" x="143" y="123"/><use href="#x" x="144" y="126"/><use href="#x" x="144" y="125"/><use href="#x" x="145" y="125"/><use href="#x" x="145" y="122"/><use href="#x" x="146" y="125"/><use href="#x" x="146" y="127"/><use href="#x" x="146" y="126"/><use href="#x" x="147" y="123"/><use href="#x" x="147" y="122"/><use href="#x" x="148" y="127"/><use href="#x" x="148" y="123"/><use href="#x" x="148" y="122"/><use href="#x" x="149" y="123"/><use href="#x" x="149" y="124"/><use href="#x" x="150" y="123"/><use href="#x" x="150" y="127"/><use href="#x" x="151" y="125"/><use href="#x" x="151" y="122"/><use href="#x" x="152" y="126"/><use href="#x" x="152" y="124"/><use href="#x" x="153" y="124"/><use href="#x" x="153" y="122"/><use href="#x" x="153" y="126"/><use href="#x" x="154" y="125"/><use href="#x" x="154" y="126"/><use href="#x" x="154" y="123"/><use href="#x" x="155" y="126"/><use href="#x" x="155" y="123"/><use href="#x" x="155" y="124"/><use href="#x" x="156" y="126"/><use href="#x" x="156" y="122"/><use href="#x" x="156" y="121"/><use href="#x" x="157" y="122"/><use href="#x" x="157" y="124"/><use href="#x" x="157" y="127"/><use href="#x" x="158" y="121"/><use href="#x" x="158" y="127"/><use href="#x" x="158" y="122"/><use href="#x" x="159" y="122"/><use href="#x" x="159" y="121"/><use href="#x" x="160" y="122"/><use href="#x" x="160" y="125"/><use href="#x" x="161" y="125"/><use href="#x" x="161" y="120"/><use href="#x" x="161" y="126"/><use href="#x" x="162" y="124"/><use href="#x" x="162" y="125"/><use href="#x" x="163" y="124"/><use href="#x" x="163" y="122"/><use href="#x" x="163" y="126"/><use href="#x" x="164" y="122"/><use href="#x" x="164" y="125"/><use href="#x" x="164" y="120"/><use href="#x" x="165" y="125"/><use href="#x" x="165" y="123"/><use href="#x" x="165" y="124"/><use href="#x" x="166" y="122"/><use href="#x" x="166" y="123"/><use href="#x" x="166" y="120"/><use href="#x" x="167" y="120"/><use href="#x" x="167" y="125"/><use href="#x" x="167" y="124"/><use href="#x" x="168" y="122"/><use href="#x" x="168" y="119"/><use href="#x" x="168" y="125"/><use href="#x" x="169" y="127"/><use href="#x" x="169" y="118"/><use href="#x" x="169" y="126"/><use href="#x" x="170" y="118"/><use href="#x" x="170" y="126"/><use href="#x" x="170" y="120"/><use href="#x" x="170" y="121"/><use href="#x" x="171" y="124"/><use href="#x" x="171" y="118"/><use href="#x" x="172" y="124"/><use href="#x" x="172" y="122"/><use href="#x" x="172" y="120"/><use href="#x" x="173" y="120"/><use href="#x" x="173" y="125"/><use href="#x" x="174" y="123"/><use href="#x" x="174" y="121"/><use href="#x" x="174" y="119"/><use href="#x" x="174" y="124"/><use href="#x" x="175" y="124"/><use href="#x" x="175" y="126"/><use href="#x" x="176" y="122"/><use href="#x" x="176" y="125"/><use href="#x" x="177" y="121"/><use href="#x" x="177" y="125"/><use href="#x" x="177" y="120"/><use href="#x" x="178" y="125"/><use href="#x" x="178" y="121"/><use href="#x" x="178" y="122"/><use href="#x" x="179" y="124"/><use href="#x" x="179" y="125"/><use href="#x" x="179" y="121"/><use href="#x" x="180" y="123"/><use href="#x" x="180" y="121"/><use href="#x" x="181" y="122"/><use href="#x" x="181" y="121"/><use href="#x" x="182" y="125"/><use href="#x" x="182" y="126"/><use href="#x" x="183" y="121"/><use href="#x" x="183" y="125"/><use href="#x" x="183" y="120"/><use href="#x" x="184" y="125"/><use href="#x" x="184" y="126"/><use href="#x" x="184" y="124"/><use href="#x" x="185" y="124"/><use href="#x" x="185" y="125"/><use href="#x" x="185" y="122"/><use href="#x" x="186" y="124"/><use href="#x" x="186" y="122"/><use href="#x" x="186" y="125"/><use href="#x" x="187" y="125"/><use href="#x" x="187" y="126"/><use href="#x" x="187" y="123"/><use href="#x" x="188" y="125"/><use href="#x" x="188" y="121"/><use href="#x" x="189" y="122"/><use href="#x" x="189" y="125"/><use href="#x" x="189" y="124"/><use href="#x" x="190" y="127"/><use href="#x" x="190" y="122"/><use href="#x" x="191" y="125"/><use href="#x" x="191" y="126"/><use href="#x" x="191" y="123"/><use href="#x" x="192" y="126"/><use href="#x" x="192" y="127"/><use href="#x" x="192" y="121"/><use href="#x" x="193" y="121"/><use href="#x" x="193" y="122"/><use href="#x" x="193" y="128"/><use href="#x" x="194" y="124"/><use href="#x" x="194" y="125"/><use href="#x" x="195" y="122"/><use href="#x" x="195" y="123"/><use href="#x" x="195" y="126"/><use href="#x" x="195" y="124"/><use href="#x" x="196" y="125"/><use href="#x" x="196" y="128"/><use href="#x" x="197" y="126"/><use href="#x" x="197" y="122"/><use href="#x" x="198" y="126"/><use href="#x" x="198" y="125"/><use href="#x" x="198" y="129"/><use href="#x" x="199" y="130"/><use href="#x" x="199" y="121"/><use href="#x" x="200" y="128"/><use href="#x" x="200" y="126"/><use href="#x" x="200" y="129"/><use href="#x" x="201" y="125"/><use href="#x" x="201" y="128"/><use href="#x" x="201" y="124"/><use href="#x" x="202" y="124"/><use href="#x" x="202" y="126"/><use href="#x" x="202" y="128"/><use href="#x" x="203" y="128"/><use href="#x" x="203" y="122"/><use href="#x" x="203" y="127"/><use href="#x" x="204" y="121"/><use href="#x" x="204" y="119"/><use href="#x" x="204" y="122"/><use href="#x" x="205" y="131"/><use href="#x" x="205" y="126"/><use href="#x" x="205" y="133"/><use href="#x" x="206" y="124"/><use href="#x" x="206" y="123"/><use href="#x" x="206" y="125"/><use href="#x" x="207" y="134"/><use href="#x" x="207" y="123"/><use href="#x" x="207" y="122"/><use href="#x" x="208" y="121"/><use href="#x" x="208" y="133"/><use href="#x" x="208" y="134"/><use href="#x" x="209" y="126"/><use href="#x" x="209" y="127"/><use href="#x" x="209" y="124"/><use href="#x" x="209" y="132"/><use href="#x" x="210" y="131"/><use href="#x" x="210" y="122"/><use href="#x" x="210" y="129"/><use href="#x" x="211" y="126"/><use href="#x" x="211" y="132"/><use href="#x" x="211" y="127"/><use href="#x" x="212" y="126"/><use href="#x" x="212" y="120"/><use href="#x" x="212" y="131"/><use href="#x" x="213" y="129"/><use href="#x" x="213" y="123"/><use href="#x" x="213" y="130"/><use href="#x" x="214" y="125"/><use href="#x" x="214" y="128"/><use href="#x" x="214" y="129"/><use href="#x" x="215" y="121"/><use href="#x" x="215" y="127"/><use href="#x" x="215" y="125"/><use href="#x" x="216" y="121"/><use href="#x" x="216" y="120"/><use href="#x" x="216" y="124"/><use href="#x" x="217" y="123"/><use href="#x" x="217" y="119"/><use href="#x" x="217" y="121"/><use href="#x" x="217" y="135"/><use href="#x" x="218" y="121"/><use href="#x" x="218" y="124"/><use href="#x" x="219" y="120"/><use href="#x" x="219" y="133"/><use href="#x" x="219" y="126"/><use href="#x" x="219" y="129"/><use href="#x" x="220" y="123"/><use href="#x" x="220" y="124"/><use href="#x" x="220" y="129"/><use href="#x" x="221" y="131"/><use href="#x" x="221" y="124"/><use href="#x" x="221" y="127"/><use href="#x" x="222" y="132"/><use href="#x" x="222" y="123"/><use href="#x" x="222" y="133"/><use href="#x" x="222" y="121"/><use href="#x" x="223" y="124"/><use href="#x" x="223" y="130"/><use href="#x" x="224" y="132"/><use href="#x" x="224" y="122"/><use href="#x" x="224" y="131"/><use href="#x" x="224" y="129"/><use href="#x" x="225" y="129"/><use href="#x" x="225" y="120"/><use href="#x" x="225" y="122"/><use href="#x" x="226" y="131"/><use href="#x" x="226" y="121"/><use href="#x" x="226" y="129"/><use href="#x" x="227" y="129"/><use href="#x" x="227" y="132"/><use href="#x" x="227" y="119"/><use href="#x" x="228" y="126"/><use href="#x" x="228" y="125"/><use href="#x" x="228" y="127"/><use href="#x" x="229" y="126"/><use href="#x" x="229" y="131"/><use href="#x" x="229" y="121"/><use href="#x" x="229" y="123"/><use href="#x" x="230" y="130"/><use href="#x" x="230" y="127"/><use href="#x" x="230" y="122"/><use href="#x" x="231" y="127"/><use href="#x" x="231" y="132"/><use href="#x" x="231" y="129"/><use href="#x" x="232" y="128"/><use href="#x" x="232" y="125"/><use href="#x" x="232" y="126"/><use href="#x" x="233" y="131"/><use href="#x" x="233" y="123"/><use href="#x" x="233" y="130"/><use href="#x" x="234" y="130"/><use href="#x" x="234" y="126"/><use href="#x" x="234" y="127"/><use href="#x" x="235" y="127"/><use href="#x" x="235" y="130"/><use href="#x" x="235" y="132"/><use href="#x" x="236" y="128"/><use href="#x" x="236" y="126"/><use href="#x" x="236" y="131"/><use href="#x" x="237" y="131"/><use href="#x" x="237" y="122"/><use href="#x" x="238" y="126"/><use href="#x" x="238" y="130"/><use href="#x" x="238" y="124"/><use href="#x" x="238" y="129"/><use href="#x" x="239" y="125"/><use href="#x" x="239" y="131"/><use href="#x" x="240" y="130"/><use href="#x" x="240" y="122"/><use href="#x" x="240" y="131"/><use href="#x" x="240" y="125"/><use href="#x" x="241" y="122"/><use href="#x" x="241" y="123"/><use href="#x" x="242" y="131"/><use href="#x" x="242" y="126"/><use href="#x" x="242" y="129"/><use href="#x" x="243" y="127"/><use href="#x" x="243" y="128"/><use href="#x" x="243" y="122"/><use href="#x" x="244" y="126"/><use href="#x" x="244" y="128"/><use href="#x" x="244" y="121"/><use href="#x" x="245" y="122"/><use href="#x" x="245" y="128"/><use href="#x" x="245" y="126"/><use href="#x" x="246" y="123"/><use href="#x" x="246" y="131"/><use href="#x" x="246" y="126"/><use href="#x" x="247" y="127"/><use href="#x" x="247" y="122"/><use href="#x" x="247" y="128"/><use href="#x" x="247" y="132"/><use href="#x" x="248" y="130"/><use href="#x" x="248" y="129"/><use href="#x" x="249" y="121"/><use href="#x" x="249" y="128"/><use href="#x" x="249" y="125"/><use href="#x" x="250" y="130"/><use href="#x" x="250" y="123"/><use href="#x" x="250" y="124"/><use href="#x" x="251" y="123"/><use href="#x" x="251" y="133"/><use href="#x" x="251" y="128"/><use href="#x" x="252" y="129"/><use href="#x" x="252" y="131"/><use href="#x" x="252" y="126"/><use href="#x" x="253" y="128"/><use href="#x" x="253" y="130"/><use href="#x" x="254" y="124"/><use href="#x" x="254" y="131"/><use href="#x" x="254" y="130"/><use href="#x" x="255" y="130"/><use href="#x" x="255" y="125"/><use href="#x" x="256" y="131"/><use href="#x" x="256" y="124"/><use href="#x" x="256" y="129"/><use href="#x" x="256" y="132"/><use href="#x" x="257" y="128"/><use href="#x" x="257" y="132"/><use href="#x" x="257" y="123"/><use href="#x" x="258" y="130"/><use href="#x" x="258" y="129"/><use href="#x" x="259" y="127"/><use href="#x" x="259" y="126"/><use href="#x" x="259" y="128"/><use href="#x" x="260" y="129"/><use href="#x" x="260" y="126"/><use href="#x" x="260" y="134"/><use href="#x" x="261" y="122"/><use href="#x" x="261" y="131"/><use href="#x" x="252" y="128"/><use href="#x" x="252" y="121"/><use href="#x" x="252" y="127"/><use href="#x" x="252" y="136"/><use href="#x" x="253" y="122"/><use href="#x" x="253" y="132"/><use href="#x" x="253" y="126"/><use href="#x" x="253" y="134"/><use href="#x" x="254" y="125"/><use href="#x" x="254" y="133"/><use href="#x" x="254" y="127"/><use href="#x" x="254" y="134"/><use href="#x" x="255" y="135"/><use href="#x" x="255" y="127"/><use href="#x" x="255" y="133"/><use href="#x" x="255" y="123"/><use href="#x" x="255" y="124"/><use href="#x" x="256" y="133"/><use href="#x" x="256" y="127"/><use href="#x" x="256" y="123"/><use href="#x" x="257" y="129"/><use href="#x" x="257" y="133"/><use href="#x" x="257" y="130"/><use href="#x" x="257" y="134"/><use href="#x" x="257" y="135"/><use href="#x" x="258" y="126"/><use href="#x" x="258" y="131"/><use href="#x" x="258" y="124"/><use href="#x" x="258" y="135"/><use href="#x" x="259" y="135"/><use href="#x" x="259" y="130"/><use href="#x" x="260" y="122"/><use href="#x" x="260" y="130"/><use href="#x" x="260" y="135"/><use href="#x" x="261" y="124"/><use href="#x" x="261" y="130"/><use href="#x" x="261" y="126"/><use href="#x" x="271" y="139"/><use href="#x" x="271" y="130"/><use href="#x" x="271" y="127"/><use href="#x" x="271" y="123"/><use href="#x" x="272" y="130"/><use href="#x" x="272" y="125"/><use href="#x" x="272" y="128"/><use href="#x" x="272" y="129"/><use href="#x" x="273" y="123"/><use href="#x" x="273" y="129"/><use href="#x" x="273" y="122"/><use href="#x" x="273" y="126"/><use href="#x" x="274" y="126"/><use href="#x" x="274" y="123"/><use href="#x" x="274" y="122"/><use href="#x" x="274" y="136"/><use href="#x" x="275" y="123"/><use href="#x" x="275" y="131"/><use href="#x" x="275" y="129"/><use href="#x" x="275" y="132"/><use href="#x" x="275" y="136"/><use href="#x" x="276" y="127"/><use href="#x" x="276" y="124"/><use href="#x" x="276" y="123"/><use href="#x" x="276" y="125"/><use href="#x" x="277" y="137"/><use href="#x" x="277" y="121"/><use href="#x" x="277" y="125"/><use href="#x" x="278" y="122"/><use href="#x" x="278" y="121"/><use href="#x" x="278" y="128"/><use href="#x" x="278" y="123"/><use href="#x" x="278" y="131"/><use href="#x" x="279" y="124"/><use href="#x" x="279" y="133"/><use href="#x" x="279" y="130"/><use href="#x" x="279" y="127"/><use href="#x" x="280" y="129"/><use href="#x" x="280" y="127"/><use href="#x" x="280" y="138"/><use href="#x" x="280" y="128"/><use href="#x" x="281" y="121"/><use href="#x" x="281" y="129"/><use href="#x" x="281" y="120"/><use href="#x" x="281" y="133"/><use href="#x" x="282" y="124"/><use href="#x" x="282" y="128"/><use href="#x" x="283" y="121"/><use href="#x" x="283" y="136"/><use href="#x" x="283" y="138"/><use href="#x" x="283" y="130"/><use href="#x" x="283" y="131"/><use href="#x" x="284" y="136"/><use href="#x" x="284" y="125"/><use href="#x" x="284" y="120"/><use href="#x" x="284" y="133"/><use href="#x" x="285" y="120"/><use href="#x" x="285" y="132"/><use href="#x" x="285" y="121"/><use href="#x" x="286" y="136"/><use href="#x" x="286" y="132"/><use href="#x" x="286" y="122"/><use href="#x" x="286" y="131"/><use href="#x" x="287" y="128"/><use href="#x" x="287" y="135"/><use href="#x" x="287" y="122"/><use href="#x" x="287" y="127"/><use href="#x" x="288" y="128"/><use href="#x" x="288" y="124"/><use href="#x" x="288" y="138"/><use href="#x" x="288" y="135"/><use href="#x" x="289" y="123"/><use href="#x" x="289" y="126"/><use href="#x" x="289" y="120"/><use href="#x" x="290" y="128"/><use href="#x" x="290" y="127"/><use href="#x" x="290" y="129"/><use href="#x" x="290" y="130"/><use href="#x" x="291" y="134"/><use href="#x" x="291" y="136"/><use href="#x" x="291" y="129"/><use href="#x" x="291" y="126"/><use href="#x" x="291" y="122"/><use href="#x" x="292" y="134"/><use href="#x" x="292" y="123"/><use href="#x" x="292" y="131"/><use href="#x" x="292" y="120"/><use href="#x" x="293" y="125"/><use href="#x" x="293" y="135"/><use href="#x" x="293" y="134"/><use href="#x" x="294" y="124"/><use href="#x" x="294" y="125"/><use href="#x" x="294" y="131"/><use href="#x" x="295" y="134"/><use href="#x" x="295" y="138"/><use href="#x" x="295" y="136"/><use href="#x" x="295" y="127"/><use href="#x" x="296" y="129"/><use href="#x" x="296" y="133"/><use href="#x" x="296" y="126"/><use href="#x" x="296" y="134"/><use href="#x" x="296" y="128"/><use href="#x" x="297" y="120"/><use href="#x" x="297" y="123"/><use href="#x" x="297" y="134"/><use href="#x" x="297" y="131"/><use href="#x" x="298" y="127"/><use href="#x" x="298" y="131"/><use href="#x" x="298" y="132"/><use href="#x" x="298" y="130"/><use href="#x" x="299" y="135"/><use href="#x" x="299" y="124"/><use href="#x" x="299" y="123"/><use href="#x" x="299" y="131"/><use href="#x" x="306" y="125"/><use href="#x" x="306" y="137"/><use href="#x" x="306" y="131"/><use href="#x" x="306" y="127"/><use href="#x" x="306" y="123"/><use href="#x" x="306" y="128"/><use href="#x" x="307" y="130"/><use href="#x" x="307" y="126"/><use href="#x" x="307" y="129"/><use href="#x" x="307" y="136"/><use href="#x" x="307" y="133"/><use href="#x" x="308" y="134"/><use href="#x" x="308" y="128"/><use href="#x" x="308" y="126"/><use href="#x" x="308" y="135"/><use href="#x" x="309" y="134"/><use href="#x" x="309" y="121"/><use href="#x" x="309" y="132"/><use href="#x" x="309" y="129"/><use href="#x" x="310" y="131"/><use href="#x" x="310" y="134"/><use href="#x" x="310" y="122"/><use href="#x" x="310" y="123"/><use href="#x" x="310" y="136"/><use href="#x" x="311" y="122"/><use href="#x" x="311" y="130"/><use href="#x" x="311" y="128"/><use href="#x" x="311" y="136"/><use href="#x" x="311" y="127"/><use href="#x" x="311" y="135"/><use href="#x" x="311" y="133"/><use href="#x" x="312" y="126"/><use href="#x" x="312" y="125"/><use href="#x" x="312" y="121"/><use href="#x" x="312" y="134"/><use href="#x" x="312" y="122"/><use href="#x" x="313" y="123"/><use href="#x" x="313" y="128"/><use href="#x" x="313" y="136"/><use href="#x" x="313" y="129"/><use href="#x" x="313" y="131"/><use href="#x" x="313" y="126"/><use href="#x" x="314" y="127"/><use href="#x" x="314" y="131"/><use href="#x" x="314" y="121"/><use href="#x" x="102" y="141"/><use href="#x" x="102" y="142"/><use href="#x" x="103" y="142"/><use href="#x" x="103" y="144"/><use href="#x" x="104" y="140"/><use href="#x" x="104" y="143"/><use href="#x" x="105" y="142"/><use href="#x" x="105" y="141"/><use href="#x" x="106" y="142"/><use href="#x" x="107" y="142"/><use href="#x" x="107" y="139"/><use href="#x" x="107" y="140"/><use href="#x" x="108" y="141"/><use href="#x" x="108" y="142"/><use href="#x" x="108" y="144"/><use href="#x" x="109" y="139"/><use href="#x" x="109" y="142"/><use href="#x" x="110" y="140"/><use href="#x" x="110" y="139"/><use href="#x" x="111" y="141"/><use href="#x" x="111" y="138"/><use href="#x" x="111" y="140"/><use href="#x" x="112" y="140"/><use href="#x" x="113" y="141"/><use href="#x" x="114" y="140"/><use href="#x" x="114" y="141"/><use href="#x" x="114" y="138"/><use href="#x" x="115" y="138"/><use href="#x" x="115" y="139"/><use href="#x" x="115" y="140"/><use href="#x" x="116" y="138"/><use href="#x" x="116" y="141"/><use href="#x" x="117" y="138"/><use href="#x" x="117" y="139"/><use href="#x" x="118" y="139"/><use href="#x" x="118" y="138"/><use href="#x" x="119" y="138"/><use href="#x" x="119" y="135"/><use href="#x" x="120" y="138"/><use href="#x" x="120" y="139"/><use href="#x" x="121" y="137"/><use href="#x" x="121" y="138"/><use href="#x" x="122" y="139"/><use href="#x" x="122" y="136"/><use href="#x" x="122" y="137"/><use href="#x" x="123" y="138"/><use href="#x" x="123" y="137"/><use href="#x" x="123" y="139"/><use href="#x" x="124" y="138"/><use href="#x" x="124" y="139"/><use href="#x" x="124" y="135"/><use href="#x" x="125" y="139"/><use href="#x" x="125" y="138"/><use href="#x" x="126" y="135"/><use href="#x" x="126" y="138"/><use href="#x" x="127" y="138"/><use href="#x" x="127" y="137"/><use href="#x" x="128" y="135"/><use href="#x" x="128" y="137"/><use href="#x" x="128" y="136"/><use href="#x" x="129" y="138"/><use href="#x" x="129" y="134"/><use href="#x" x="130" y="138"/><use href="#x" x="130" y="136"/><use href="#x" x="131" y="135"/><use href="#x" x="131" y="137"/><use href="#x" x="131" y="136"/><use href="#x" x="132" y="135"/><use href="#x" x="133" y="135"/><use href="#x" x="133" y="134"/><use href="#x" x="134" y="137"/><use href="#x" x="134" y="136"/><use href="#x" x="134" y="135"/><use href="#x" x="135" y="137"/><use href="#x" x="135" y="134"/><use href="#x" x="135" y="138"/><use href="#x" x="136" y="136"/><use href="#x" x="136" y="134"/><use href="#x" x="136" y="138"/><use href="#x" x="137" y="136"/><use href="#x" x="137" y="133"/><use href="#x" x="138" y="135"/><use href="#x" x="138" y="133"/><use href="#x" x="138" y="136"/><use href="#x" x="139" y="136"/><use href="#x" x="139" y="135"/><use href="#x" x="140" y="136"/><use href="#x" x="140" y="135"/><use href="#x" x="140" y="133"/><use href="#x" x="141" y="134"/><use href="#x" x="141" y="135"/><use href="#x" x="142" y="135"/><use href="#x" x="142" y="134"/><use href="#x" x="143" y="135"/><use href="#x" x="143" y="136"/><use href="#x" x="144" y="135"/><use href="#x" x="145" y="137"/><use href="#x" x="145" y="136"/><use href="#x" x="145" y="138"/><use href="#x" x="146" y="135"/><use href="#x" x="146" y="134"/><use href="#x" x="147" y="136"/><use href="#x" x="147" y="134"/><use href="#x" x="148" y="136"/><use href="#x" x="148" y="137"/><use href="#x" x="149" y="136"/><use href="#x" x="149" y="137"/><use href="#x" x="149" y="138"/><use href="#x" x="150" y="137"/><use href="#x" x="150" y="138"/><use href="#x" x="151" y="134"/><use href="#x" x="151" y="137"/><use href="#x" x="151" y="138"/><use href="#x" x="152" y="136"/><use href="#x" x="152" y="135"/><use href="#x" x="152" y="138"/><use href="#x" x="153" y="138"/><use href="#x" x="153" y="136"/><use href="#x" x="153" y="137"/><use href="#x" x="154" y="137"/><use href="#x" x="155" y="137"/><use href="#x" x="155" y="134"/><use href="#x" x="155" y="139"/><use href="#x" x="156" y="138"/><use href="#x" x="156" y="140"/><use href="#x" x="156" y="135"/><use href="#x" x="157" y="139"/><use href="#x" x="157" y="138"/><use href="#x" x="157" y="137"/><use href="#x" x="158" y="136"/><use href="#x" x="158" y="138"/><use href="#x" x="159" y="138"/><use href="#x" x="159" y="140"/><use href="#x" x="160" y="141"/><use href="#x" x="160" y="138"/><use href="#x" x="161" y="139"/><use href="#x" x="161" y="137"/><use href="#x" x="162" y="138"/><use href="#x" x="162" y="136"/><use href="#x" x="162" y="140"/><use href="#x" x="163" y="140"/><use href="#x" x="163" y="137"/><use href="#x" x="163" y="139"/><use href="#x" x="164" y="137"/><use href="#x" x="164" y="139"/><use href="#x" x="165" y="135"/><use href="#x" x="165" y="138"/><use href="#x" x="165" y="141"/><use href="#x" x="166" y="140"/><use href="#x" x="166" y="139"/><use href="#x" x="167" y="137"/><use href="#x" x="167" y="135"/><use href="#x" x="167" y="142"/><use href="#x" x="168" y="137"/><use href="#x" x="168" y="140"/><use href="#x" x="168" y="135"/><use href="#x" x="169" y="138"/><use href="#x" x="169" y="140"/><use href="#x" x="169" y="141"/><use href="#x" x="170" y="137"/><use href="#x" x="170" y="139"/><use href="#x" x="171" y="140"/><use href="#x" x="171" y="138"/><use href="#x" x="171" y="139"/><use href="#x" x="172" y="137"/><use href="#x" x="172" y="138"/><use href="#x" x="172" y="140"/><use href="#x" x="173" y="137"/><use href="#x" x="173" y="138"/><use href="#x" x="173" y="142"/><use href="#x" x="174" y="140"/><use href="#x" x="174" y="142"/><use href="#x" x="175" y="139"/><use href="#x" x="175" y="138"/><use href="#x" x="175" y="140"/><use href="#x" x="176" y="140"/><use href="#x" x="176" y="138"/><use href="#x" x="176" y="137"/><use href="#x" x="177" y="140"/><use href="#x" x="177" y="137"/><use href="#x" x="178" y="140"/><use href="#x" x="178" y="141"/><use href="#x" x="178" y="137"/><use href="#x" x="179" y="140"/><use href="#x" x="179" y="139"/><use href="#x" x="179" y="138"/><use href="#x" x="180" y="141"/><use href="#x" x="180" y="142"/><use href="#x" x="181" y="140"/><use href="#x" x="181" y="139"/><use href="#x" x="182" y="138"/><use href="#x" x="182" y="141"/><use href="#x" x="182" y="139"/><use href="#x" x="183" y="140"/><use href="#x" x="183" y="138"/><use href="#x" x="184" y="138"/><use href="#x" x="184" y="140"/><use href="#x" x="185" y="141"/><use href="#x" x="185" y="140"/><use href="#x" x="186" y="141"/><use href="#x" x="186" y="139"/><use href="#x" x="187" y="139"/><use href="#x" x="187" y="141"/><use href="#x" x="188" y="140"/><use href="#x" x="188" y="138"/><use href="#x" x="188" y="139"/><use href="#x" x="189" y="139"/><use href="#x" x="189" y="140"/><use href="#x" x="190" y="140"/><use href="#x" x="190" y="141"/><use href="#x" x="191" y="142"/><use href="#x" x="191" y="140"/><use href="#x" x="191" y="139"/><use href="#x" x="192" y="140"/><use href="#x" x="192" y="141"/><use href="#x" x="193" y="140"/><use href="#x" x="193" y="138"/><use href="#x" x="193" y="142"/><use href="#x" x="194" y="141"/><use href="#x" x="194" y="142"/><use href="#x" x="195" y="140"/><use href="#x" x="195" y="141"/><use href="#x" x="196" y="140"/><use href="#x" x="196" y="141"/><use href="#x" x="196" y="143"/><use href="#x" x="197" y="145"/><use href="#x" x="197" y="142"/><use href="#x" x="197" y="140"/><use href="#x" x="198" y="146"/><use href="#x" x="198" y="142"/><use href="#x" x="199" y="143"/><use href="#x" x="199" y="142"/><use href="#x" x="199" y="144"/><use href="#x" x="200" y="145"/><use href="#x" x="200" y="143"/><use href="#x" x="200" y="146"/><use href="#x" x="201" y="148"/><use href="#x" x="201" y="146"/><use href="#x" x="201" y="150"/><use href="#x" x="101" y="125"/><use href="#x" x="112" y="92"/><use href="#x" x="107" y="92"/><use href="#x" x="106" y="109"/><use href="#x" x="100" y="119"/><use href="#x" x="102" y="104"/><use href="#x" x="121" y="93"/><use href="#x" x="118" y="93"/><use href="#x" x="102" y="100"/><use href="#x" x="102" y="123"/><use href="#x" x="104" y="96"/><use href="#x" x="102" y="110"/><use href="#x" x="103" y="113"/><use href="#x" x="110" y="92"/><use href="#x" x="103" y="115"/><use href="#x" x="106" y="94"/><use href="#x" x="118" y="92"/><use href="#x" x="113" y="92"/><use href="#x" x="114" y="91"/><use href="#x" x="103" y="118"/><use href="#x" x="116" y="89"/><use href="#x" x="109" y="91"/><use href="#x" x="118" y="89"/><use href="#x" x="106" y="95"/><use href="#x" x="98" y="113"/><use href="#x" x="101" y="129"/><use href="#x" x="116" y="92"/><use href="#x" x="101" y="106"/><use href="#x" x="113" y="91"/><use href="#x" x="112" y="88"/><use href="#x" x="100" y="123"/><use href="#x" x="100" y="110"/><use href="#x" x="120" y="90"/><use href="#x" x="102" y="116"/><use href="#x" x="119" y="93"/><use href="#x" x="103" y="98"/><use href="#x" x="103" y="114"/><use href="#x" x="120" y="91"/><use href="#x" x="100" y="120"/><use href="#x" x="108" y="96"/><use href="#x" x="113" y="89"/><use href="#x" x="105" y="93"/><use href="#x" x="102" y="121"/><use href="#x" x="104" y="109"/><use href="#x" x="115" y="91"/><use href="#x" x="106" y="92"/><use href="#x" x="106" y="101"/><use href="#x" x="103" y="106"/><use href="#x" x="111" y="91"/><use href="#x" x="103" y="101"/><use href="#x" x="100" y="117"/><use href="#x" x="102" y="113"/><use href="#x" x="102" y="101"/><use href="#x" x="121" y="91"/><use href="#x" x="104" y="97"/><use href="#x" x="109" y="94"/><use href="#x" x="104" y="106"/><use href="#x" x="101" y="116"/><use href="#x" x="104" y="102"/><use href="#x" x="111" y="96"/><use href="#x" x="117" y="95"/><use href="#x" x="109" y="93"/><use href="#x" x="108" y="93"/><use href="#x" x="113" y="90"/><use href="#x" x="107" y="90"/><use href="#x" x="108" y="91"/><use href="#x" x="111" y="94"/><use href="#x" x="106" y="93"/><use href="#x" x="107" y="96"/><use href="#x" x="117" y="92"/><use href="#x" x="109" y="92"/><use href="#x" x="153" y="107"/><use href="#x" x="151" y="111"/><use href="#x" x="154" y="104"/><use href="#x" x="151" y="114"/><use href="#x" x="146" y="115"/><use href="#x" x="148" y="114"/><use href="#x" x="151" y="116"/><use href="#x" x="149" y="115"/><use href="#x" x="150" y="112"/><use href="#x" x="154" y="109"/><use href="#x" x="160" y="107"/><use href="#x" x="156" y="113"/><use href="#x" x="159" y="111"/><use href="#x" x="156" y="118"/><use href="#x" x="159" y="107"/><use href="#x" x="160" y="108"/><use href="#x" x="160" y="117"/><use href="#x" x="159" y="109"/><use href="#x" x="155" y="114"/><use href="#x" x="159" y="115"/><use href="#x" x="157" y="113"/><use href="#x" x="161" y="110"/><use href="#x" x="157" y="116"/><use href="#x" x="167" y="99"/><use href="#x" x="165" y="101"/><use href="#x" x="153" y="117"/><use href="#x" x="169" y="113"/><use href="#x" x="158" y="115"/><use href="#x" x="161" y="116"/><use href="#x" x="164" y="112"/><use href="#x" x="161" y="112"/><use href="#x" x="164" y="110"/><use href="#x" x="160" y="115"/><use href="#x" x="167" y="119"/><use href="#x" x="163" y="110"/><use href="#x" x="157" y="111"/><use href="#x" x="157" y="119"/><use href="#x" x="164" y="115"/><use href="#x" x="167" y="118"/><use href="#x" x="162" y="115"/><use href="#x" x="169" y="111"/><use href="#x" x="157" y="120"/><use href="#x" x="155" y="110"/><use href="#x" x="159" y="119"/><use href="#x" x="163" y="112"/><use href="#x" x="151" y="93"/><use href="#x" x="151" y="94"/><use href="#x" x="151" y="105"/><use href="#x" x="166" y="97"/><use href="#x" x="127" y="93"/><use href="#x" x="127" y="104"/><use href="#x" x="114" y="102"/><use href="#x" x="115" y="116"/><use href="#x" x="121" y="120"/><use href="#x" x="123" y="164"/><use href="#x" x="122" y="168"/><use href="#x" x="148" y="160"/><use href="#x" x="125" y="186"/><use href="#x" x="125" y="199"/><use href="#x" x="149" y="201"/><use href="#x" x="127" y="203"/><use href="#x" x="142" y="211"/><use href="#x" x="260" y="152"/><use href="#x" x="270" y="161"/><use href="#x" x="270" y="167"/><use href="#x" x="305" y="145"/><use href="#x" x="313" y="147"/><use href="#x" x="303" y="152"/><use href="#x" x="258" y="145"/><use href="#x" x="261" y="150"/><use href="#x" x="262" y="155"/><use href="#x" x="225" y="140"/><use href="#x" x="234" y="138"/><use href="#x" x="210" y="136"/><use href="#x" x="207" y="140"/><use href="#x" x="215" y="136"/><use href="#x" x="228" y="141"/><use href="#x" x="232" y="142"/><use href="#x" x="211" y="137"/><use href="#x" x="226" y="138"/><use href="#x" x="218" y="140"/><use href="#x" x="225" y="139"/><use href="#x" x="228" y="139"/><use href="#x" x="233" y="136"/><use href="#x" x="217" y="138"/><use href="#x" x="226" y="137"/><use href="#x" x="213" y="140"/><use href="#x" x="209" y="141"/><use href="#x" x="225" y="142"/><use href="#x" x="222" y="142"/><use href="#x" x="208" y="142"/><use href="#x" x="214" y="141"/><use href="#x" x="225" y="141"/><use href="#x" x="231" y="136"/><use href="#x" x="214" y="139"/><use href="#x" x="100" y="304"/><use href="#x" x="100" y="301"/><use href="#x" x="100" y="302"/><use href="#x" x="100" y="300"/><use href="#x" x="101" y="301"/><use href="#x" x="101" y="300"/><use href="#x" x="101" y="305"/><use href="#x" x="101" y="302"/><use href="#x" x="102" y="303"/><use href="#x" x="102" y="300"/><use href="#x" x="102" y="301"/><use href="#x" x="103" y="304"/><use href="#x" x="103" y="306"/><use href="#x" x="103" y="297"/><use href="#x" x="103" y="299"/><use href="#x" x="103" y="305"/><use href="#x" x="104" y="302"/><use href="#x" x="104" y="298"/><use href="#x" x="104" y="299"/><use href="#x" x="105" y="299"/><use href="#x" x="105" y="302"/><use href="#x" x="105" y="304"/><use href="#x" x="106" y="298"/><use href="#x" x="106" y="300"/><use href="#x" x="106" y="304"/><use href="#x" x="106" y="301"/><use href="#x" x="107" y="302"/><use href="#x" x="107" y="304"/><use href="#x" x="107" y="303"/><use href="#x" x="108" y="301"/><use href="#x" x="108" y="300"/><use href="#x" x="108" y="299"/><use href="#x" x="108" y="298"/><use href="#x" x="108" y="305"/><use href="#x" x="109" y="301"/><use href="#x" x="109" y="302"/><use href="#x" x="110" y="298"/><use href="#x" x="110" y="299"/><use href="#x" x="110" y="303"/><use href="#x" x="110" y="301"/><use href="#x" x="111" y="303"/><use href="#x" x="111" y="305"/><use href="#x" x="111" y="302"/><use href="#x" x="111" y="304"/><use href="#x" x="111" y="300"/><use href="#x" x="112" y="303"/><use href="#x" x="112" y="305"/><use href="#x" x="113" y="297"/><use href="#x" x="113" y="301"/><use href="#x" x="113" y="300"/><use href="#x" x="113" y="299"/><use href="#x" x="114" y="305"/><use href="#x" x="114" y="303"/><use href="#x" x="114" y="300"/><use href="#x" x="114" y="304"/><use href="#x" x="115" y="301"/><use href="#x" x="115" y="302"/><use href="#x" x="115" y="299"/><use href="#x" x="115" y="305"/><use href="#x" x="116" y="299"/><use href="#x" x="116" y="300"/><use href="#x" x="116" y="302"/><use href="#x" x="116" y="304"/><use href="#x" x="117" y="302"/><use href="#x" x="117" y="303"/><use href="#x" x="117" y="299"/><use href="#x" x="117" y="304"/><use href="#x" x="118" y="304"/><use href="#x" x="118" y="299"/><use href="#x" x="118" y="301"/><use href="#x" x="118" y="303"/><use href="#x" x="119" y="304"/><use href="#x" x="119" y="299"/><use href="#x" x="119" y="303"/><use href="#x" x="119" y="300"/><use href="#x" x="120" y="299"/><use href="#x" x="120" y="302"/><use href="#x" x="120" y="304"/><use href="#x" x="121" y="300"/><use href="#x" x="121" y="302"/><use href="#x" x="121" y="304"/><use href="#x" x="121" y="306"/><use href="#x" x="121" y="301"/><use href="#x" x="121" y="303"/><use href="#x" x="122" y="303"/><use href="#x" x="122" y="302"/><use href="#x" x="122" y="299"/><use href="#x" x="122" y="301"/><use href="#x" x="123" y="302"/><use href="#x" x="123" y="305"/><use href="#x" x="123" y="298"/><use href="#x" x="123" y="299"/><use href="#x" x="123" y="300"/><use href="#x" x="124" y="305"/><use href="#x" x="124" y="301"/><use href="#x" x="124" y="306"/><use href="#x" x="125" y="299"/><use href="#x" x="125" y="303"/><use href="#x" x="125" y="305"/><use href="#x" x="125" y="300"/><use href="#x" x="126" y="302"/><use href="#x" x="126" y="303"/><use href="#x" x="126" y="305"/><use href="#x" x="126" y="301"/><use href="#x" x="127" y="306"/><use href="#x" x="127" y="304"/><use href="#x" x="127" y="303"/><use href="#x" x="127" y="299"/><use href="#x" x="128" y="302"/><use href="#x" x="128" y="301"/><use href="#x" x="128" y="304"/><use href="#x" x="129" y="299"/><use href="#x" x="129" y="303"/><use href="#x" x="129" y="297"/><use href="#x" x="130" y="306"/><use href="#x" x="130" y="299"/><use href="#x" x="130" y="300"/><use href="#x" x="131" y="306"/><use href="#x" x="131" y="307"/><use href="#x" x="131" y="299"/><use href="#x" x="131" y="304"/><use href="#x" x="131" y="301"/><use href="#x" x="132" y="300"/><use href="#x" x="132" y="299"/><use href="#x" x="132" y="304"/><use href="#x" x="133" y="300"/><use href="#x" x="133" y="304"/><use href="#x" x="133" y="302"/><use href="#x" x="133" y="299"/><use href="#x" x="134" y="300"/><use href="#x" x="134" y="302"/><use href="#x" x="134" y="303"/><use href="#x" x="134" y="301"/><use href="#x" x="135" y="301"/><use href="#x" x="135" y="304"/><use href="#x" x="135" y="302"/><use href="#x" x="136" y="303"/><use href="#x" x="136" y="306"/><use href="#x" x="136" y="301"/><use href="#x" x="137" y="302"/><use href="#x" x="137" y="304"/><use href="#x" x="137" y="301"/><use href="#x" x="137" y="305"/><use href="#x" x="137" y="300"/><use href="#x" x="138" y="298"/><use href="#x" x="138" y="302"/><use href="#x" x="138" y="300"/><use href="#x" x="138" y="301"/><use href="#x" x="138" y="305"/><use href="#x" x="139" y="302"/><use href="#x" x="139" y="306"/><use href="#x" x="139" y="303"/><use href="#x" x="140" y="303"/><use href="#x" x="140" y="297"/><use href="#x" x="140" y="301"/><use href="#x" x="140" y="299"/><use href="#x" x="141" y="299"/><use href="#x" x="141" y="301"/><use href="#x" x="141" y="302"/><use href="#x" x="141" y="300"/><use href="#x" x="142" y="302"/><use href="#x" x="142" y="304"/><use href="#x" x="142" y="301"/><use href="#x" x="143" y="302"/><use href="#x" x="143" y="299"/><use href="#x" x="143" y="303"/><use href="#x" x="143" y="304"/><use href="#x" x="144" y="300"/><use href="#x" x="144" y="306"/><use href="#x" x="144" y="303"/><use href="#x" x="145" y="298"/><use href="#x" x="145" y="300"/><use href="#x" x="145" y="302"/><use href="#x" x="145" y="305"/><use href="#x" x="146" y="305"/><use href="#x" x="146" y="304"/><use href="#x" x="146" y="303"/><use href="#x" x="146" y="302"/><use href="#x" x="147" y="303"/><use href="#x" x="147" y="304"/><use href="#x" x="147" y="299"/><use href="#x" x="147" y="302"/><use href="#x" x="147" y="305"/><use href="#x" x="147" y="300"/><use href="#x" x="148" y="303"/><use href="#x" x="148" y="306"/><use href="#x" x="148" y="304"/><use href="#x" x="148" y="298"/><use href="#x" x="149" y="303"/><use href="#x" x="149" y="300"/><use href="#x" x="149" y="301"/><use href="#x" x="149" y="305"/><use href="#x" x="150" y="300"/><use href="#x" x="150" y="303"/><use href="#x" x="150" y="304"/><use href="#x" x="151" y="304"/><use href="#x" x="151" y="305"/><use href="#x" x="151" y="306"/><use href="#x" x="152" y="305"/><use href="#x" x="152" y="302"/><use href="#x" x="152" y="306"/><use href="#x" x="152" y="301"/><use href="#x" x="153" y="305"/><use href="#x" x="153" y="303"/><use href="#x" x="153" y="302"/><use href="#x" x="154" y="301"/><use href="#x" x="154" y="306"/><use href="#x" x="154" y="303"/><use href="#x" x="154" y="307"/><use href="#x" x="155" y="305"/><use href="#x" x="155" y="299"/><use href="#x" x="155" y="300"/><use href="#x" x="155" y="303"/><use href="#x" x="156" y="304"/><use href="#x" x="156" y="299"/><use href="#x" x="156" y="303"/><use href="#x" x="156" y="300"/><use href="#x" x="157" y="305"/><use href="#x" x="157" y="299"/><use href="#x" x="157" y="301"/><use href="#x" x="158" y="306"/><use href="#x" x="158" y="305"/><use href="#x" x="158" y="302"/><use href="#x" x="158" y="303"/><use href="#x" x="159" y="302"/><use href="#x" x="159" y="303"/><use href="#x" x="159" y="301"/><use href="#x" x="159" y="306"/><use href="#x" x="160" y="297"/><use href="#x" x="160" y="303"/><use href="#x" x="160" y="305"/><use href="#x" x="160" y="300"/><use href="#x" x="161" y="299"/><use href="#x" x="161" y="302"/><use href="#x" x="161" y="306"/><use href="#x" x="161" y="305"/><use href="#x" x="162" y="302"/><use href="#x" x="162" y="306"/><use href="#x" x="162" y="300"/><use href="#x" x="163" y="299"/><use href="#x" x="163" y="303"/><use href="#x" x="163" y="305"/><use href="#x" x="164" y="303"/><use href="#x" x="164" y="306"/><use href="#x" x="165" y="301"/><use href="#x" x="165" y="304"/><use href="#x" x="165" y="300"/><use href="#x" x="165" y="299"/><use href="#x" x="166" y="304"/><use href="#x" x="166" y="299"/><use href="#x" x="166" y="300"/><use href="#x" x="167" y="305"/><use href="#x" x="167" y="303"/><use href="#x" x="167" y="304"/><use href="#x" x="168" y="299"/><use href="#x" x="168" y="303"/><use href="#x" x="168" y="301"/><use href="#x" x="168" y="305"/><use href="#x" x="169" y="299"/><use href="#x" x="169" y="303"/><use href="#x" x="169" y="302"/><use href="#x" x="169" y="305"/><use href="#x" x="170" y="299"/><use href="#x" x="170" y="304"/><use href="#x" x="170" y="306"/><use href="#x" x="170" y="298"/><use href="#x" x="171" y="305"/><use href="#x" x="171" y="299"/><use href="#x" x="171" y="300"/><use href="#x" x="171" y="304"/><use href="#x" x="171" y="303"/><use href="#x" x="172" y="300"/><use href="#x" x="172" y="301"/><use href="#x" x="172" y="302"/><use href="#x" x="173" y="298"/><use href="#x" x="173" y="300"/><use href="#x" x="173" y="303"/><use href="#x" x="173" y="304"/><use href="#x" x="173" y="299"/><use href="#x" x="174" y="302"/><use href="#x" x="174" y="300"/><use href="#x" x="174" y="305"/><use href="#x" x="174" y="298"/><use href="#x" x="175" y="301"/><use href="#x" x="175" y="305"/><use href="#x" x="175" y="306"/><use href="#x" x="175" y="307"/><use href="#x" x="176" y="301"/><use href="#x" x="176" y="307"/><use href="#x" x="176" y="306"/><use href="#x" x="176" y="302"/><use href="#x" x="176" y="303"/><use href="#x" x="177" y="302"/><use href="#x" x="177" y="305"/><use href="#x" x="178" y="303"/><use href="#x" x="178" y="300"/><use href="#x" x="178" y="302"/><use href="#x" x="178" y="299"/><use href="#x" x="178" y="307"/><use href="#x" x="179" y="305"/><use href="#x" x="179" y="302"/><use href="#x" x="179" y="304"/><use href="#x" x="179" y="298"/><use href="#x" x="180" y="300"/><use href="#x" x="180" y="303"/><use href="#x" x="180" y="307"/><use href="#x" x="180" y="298"/><use href="#x" x="180" y="308"/><use href="#x" x="181" y="302"/><use href="#x" x="181" y="301"/><use href="#x" x="181" y="305"/><use href="#x" x="181" y="300"/><use href="#x" x="182" y="301"/><use href="#x" x="182" y="304"/><use href="#x" x="182" y="303"/><use href="#x" x="183" y="303"/><use href="#x" x="183" y="299"/><use href="#x" x="183" y="304"/><use href="#x" x="183" y="307"/><use href="#x" x="183" y="301"/><use href="#x" x="184" y="302"/><use href="#x" x="184" y="304"/><use href="#x" x="184" y="306"/><use href="#x" x="185" y="307"/><use href="#x" x="185" y="299"/><use href="#x" x="185" y="300"/><use href="#x" x="185" y="305"/><use href="#x" x="186" y="302"/><use href="#x" x="186" y="304"/><use href="#x" x="186" y="305"/><use href="#x" x="186" y="301"/><use href="#x" x="187" y="303"/><use href="#x" x="187" y="301"/><use href="#x" x="187" y="298"/><use href="#x" x="187" y="302"/><use href="#x" x="188" y="302"/><use href="#x" x="188" y="306"/><use href="#x" x="188" y="305"/><use href="#x" x="188" y="298"/><use href="#x" x="189" y="300"/><use href="#x" x="189" y="304"/><use href="#x" x="189" y="305"/><use href="#x" x="189" y="307"/><use href="#x" x="189" y="302"/><use href="#x" x="189" y="301"/><use href="#x" x="190" y="303"/><use href="#x" x="190" y="304"/><use href="#x" x="190" y="305"/><use href="#x" x="191" y="306"/><use href="#x" x="191" y="298"/><use href="#x" x="191" y="302"/><use href="#x" x="191" y="300"/><use href="#x" x="191" y="305"/><use href="#x" x="192" y="304"/><use href="#x" x="192" y="306"/><use href="#x" x="192" y="300"/><use href="#x" x="192" y="305"/><use href="#x" x="193" y="305"/><use href="#x" x="193" y="302"/><use href="#x" x="193" y="307"/><use href="#x" x="193" y="299"/><use href="#x" x="194" y="300"/><use href="#x" x="194" y="307"/><use href="#x" x="194" y="303"/><use href="#x" x="194" y="306"/><use href="#x" x="195" y="308"/><use href="#x" x="195" y="299"/><use href="#x" x="195" y="307"/><use href="#x" x="195" y="302"/><use href="#x" x="195" y="303"/><use href="#x" x="196" y="299"/><use href="#x" x="196" y="298"/><use href="#x" x="196" y="300"/><use href="#x" x="196" y="306"/><use href="#x" x="196" y="305"/><use href="#x" x="197" y="305"/><use href="#x" x="197" y="302"/><use href="#x" x="197" y="304"/><use href="#x" x="197" y="307"/><use href="#x" x="198" y="303"/><use href="#x" x="198" y="304"/><use href="#x" x="198" y="302"/><use href="#x" x="198" y="301"/><use href="#x" x="199" y="303"/><use href="#x" x="199" y="300"/><use href="#x" x="199" y="306"/><use href="#x" x="199" y="307"/><use href="#x" x="200" y="300"/><use href="#x" x="200" y="307"/><use href="#x" x="200" y="299"/><use href="#x" x="201" y="300"/><use href="#x" x="201" y="305"/><use href="#x" x="201" y="303"/><use href="#x" x="201" y="302"/><use href="#x" x="202" y="299"/><use href="#x" x="202" y="300"/><use href="#x" x="202" y="301"/><use href="#x" x="202" y="305"/><use href="#x" x="203" y="304"/><use href="#x" x="203" y="300"/><use href="#x" x="203" y="301"/><use href="#x" x="204" y="302"/><use href="#x" x="204" y="305"/><use href="#x" x="204" y="301"/><use href="#x" x="204" y="297"/><use href="#x" x="204" y="300"/><use href="#x" x="205" y="301"/><use href="#x" x="205" y="304"/><use href="#x" x="205" y="307"/><use href="#x" x="206" y="299"/><use href="#x" x="206" y="307"/><use href="#x" x="206" y="300"/><use href="#x" x="207" y="304"/><use href="#x" x="207" y="301"/><use href="#x" x="207" y="303"/><use href="#x" x="207" y="299"/><use href="#x" x="208" y="305"/><use href="#x" x="208" y="300"/><use href="#x" x="208" y="299"/><use href="#x" x="209" y="309"/><use href="#x" x="209" y="304"/><use href="#x" x="209" y="300"/><use href="#x" x="209" y="298"/><use href="#x" x="209" y="307"/><use href="#x" x="210" y="308"/><use href="#x" x="210" y="305"/><use href="#x" x="210" y="306"/><use href="#x" x="211" y="306"/><use href="#x" x="211" y="307"/><use href="#x" x="211" y="303"/><use href="#x" x="211" y="305"/><use href="#x" x="212" y="308"/><use href="#x" x="212" y="306"/><use href="#x" x="212" y="309"/><use href="#x" x="212" y="303"/><use href="#x" x="212" y="298"/><use href="#x" x="213" y="304"/><use href="#x" x="213" y="298"/><use href="#x" x="213" y="306"/><use href="#x" x="213" y="302"/><use href="#x" x="214" y="302"/><use href="#x" x="214" y="297"/><use href="#x" x="214" y="308"/><use href="#x" x="214" y="304"/><use href="#x" x="215" y="309"/><use href="#x" x="215" y="306"/><use href="#x" x="215" y="304"/><use href="#x" x="215" y="301"/><use href="#x" x="215" y="300"/><use href="#x" x="216" y="300"/><use href="#x" x="216" y="303"/><use href="#x" x="216" y="310"/><use href="#x" x="216" y="302"/><use href="#x" x="217" y="303"/><use href="#x" x="217" y="298"/><use href="#x" x="217" y="311"/><use href="#x" x="217" y="305"/><use href="#x" x="218" y="301"/><use href="#x" x="218" y="305"/><use href="#x" x="218" y="311"/><use href="#x" x="218" y="310"/><use href="#x" x="219" y="310"/><use href="#x" x="219" y="307"/><use href="#x" x="219" y="302"/><use href="#x" x="219" y="311"/><use href="#x" x="220" y="303"/><use href="#x" x="220" y="302"/><use href="#x" x="220" y="305"/><use href="#x" x="220" y="312"/><use href="#x" x="221" y="304"/><use href="#x" x="221" y="312"/><use href="#x" x="221" y="307"/><use href="#x" x="221" y="305"/><use href="#x" x="222" y="304"/><use href="#x" x="222" y="300"/><use href="#x" x="222" y="297"/><use href="#x" x="222" y="301"/><use href="#x" x="223" y="299"/><use href="#x" x="223" y="303"/><use href="#x" x="223" y="306"/><use href="#x" x="223" y="308"/><use href="#x" x="224" y="308"/><use href="#x" x="224" y="302"/><use href="#x" x="224" y="312"/><use href="#x" x="224" y="310"/><use href="#x" x="225" y="306"/><use href="#x" x="225" y="303"/><use href="#x" x="225" y="304"/><use href="#x" x="225" y="311"/><use href="#x" x="226" y="307"/><use href="#x" x="226" y="299"/><use href="#x" x="226" y="298"/><use href="#x" x="227" y="306"/><use href="#x" x="227" y="304"/><use href="#x" x="227" y="300"/><use href="#x" x="227" y="298"/><use href="#x" x="228" y="308"/><use href="#x" x="228" y="301"/><use href="#x" x="228" y="306"/><use href="#x" x="228" y="303"/><use href="#x" x="229" y="307"/><use href="#x" x="229" y="297"/><use href="#x" x="229" y="312"/><use href="#x" x="229" y="313"/><use href="#x" x="230" y="310"/><use href="#x" x="230" y="297"/><use href="#x" x="230" y="304"/><use href="#x" x="231" y="311"/><use href="#x" x="231" y="302"/><use href="#x" x="231" y="297"/><use href="#x" x="231" y="303"/><use href="#x" x="231" y="310"/><use href="#x" x="232" y="302"/><use href="#x" x="232" y="300"/><use href="#x" x="232" y="307"/><use href="#x" x="232" y="309"/><use href="#x" x="232" y="303"/><use href="#x" x="233" y="303"/><use href="#x" x="233" y="301"/><use href="#x" x="233" y="302"/><use href="#x" x="233" y="305"/><use href="#x" x="233" y="300"/><use href="#x" x="234" y="311"/><use href="#x" x="234" y="305"/><use href="#x" x="234" y="300"/><use href="#x" x="234" y="310"/><use href="#x" x="235" y="309"/><use href="#x" x="235" y="303"/><use href="#x" x="235" y="307"/><use href="#x" x="235" y="298"/><use href="#x" x="235" y="310"/><use href="#x" x="236" y="313"/><use href="#x" x="236" y="314"/><use href="#x" x="236" y="304"/><use href="#x" x="237" y="305"/><use href="#x" x="237" y="300"/><use href="#x" x="237" y="310"/><use href="#x" x="237" y="297"/><use href="#x" x="237" y="311"/><use href="#x" x="238" y="309"/><use href="#x" x="238" y="297"/><use href="#x" x="238" y="302"/><use href="#x" x="238" y="299"/><use href="#x" x="238" y="312"/><use href="#x" x="239" y="308"/><use href="#x" x="239" y="312"/><use href="#x" x="239" y="300"/><use href="#x" x="239" y="299"/><use href="#x" x="240" y="299"/><use href="#x" x="240" y="300"/><use href="#x" x="240" y="301"/><use href="#x" x="240" y="303"/><use href="#x" x="240" y="305"/><use href="#x" x="241" y="303"/><use href="#x" x="241" y="312"/><use href="#x" x="241" y="304"/><use href="#x" x="241" y="301"/><use href="#x" x="241" y="300"/><use href="#x" x="242" y="298"/><use href="#x" x="242" y="305"/><use href="#x" x="242" y="310"/><use href="#x" x="242" y="301"/><use href="#x" x="243" y="312"/><use href="#x" x="243" y="300"/><use href="#x" x="243" y="303"/><use href="#x" x="243" y="298"/><use href="#x" x="243" y="302"/><use href="#x" x="244" y="302"/><use href="#x" x="244" y="314"/><use href="#x" x="244" y="307"/><use href="#x" x="244" y="303"/><use href="#x" x="245" y="310"/><use href="#x" x="245" y="304"/><use href="#x" x="245" y="309"/><use href="#x" x="245" y="300"/><use href="#x" x="245" y="307"/><use href="#x" x="246" y="300"/><use href="#x" x="246" y="311"/><use href="#x" x="246" y="297"/><use href="#x" x="246" y="299"/><use href="#x" x="247" y="310"/><use href="#x" x="247" y="300"/><use href="#x" x="247" y="303"/><use href="#x" x="247" y="311"/><use href="#x" x="248" y="299"/><use href="#x" x="248" y="308"/><use href="#x" x="248" y="303"/><use href="#x" x="248" y="309"/><use href="#x" x="248" y="311"/><use href="#x" x="249" y="298"/><use href="#x" x="249" y="308"/><use href="#x" x="249" y="304"/><use href="#x" x="249" y="297"/><use href="#x" x="250" y="303"/><use href="#x" x="250" y="305"/><use href="#x" x="250" y="308"/><use href="#x" x="250" y="304"/><use href="#x" x="251" y="304"/><use href="#x" x="251" y="308"/><use href="#x" x="251" y="307"/><use href="#x" x="251" y="311"/><use href="#x" x="252" y="301"/><use href="#x" x="252" y="298"/><use href="#x" x="252" y="303"/><use href="#x" x="252" y="313"/><use href="#x" x="252" y="307"/><use href="#x" x="253" y="312"/><use href="#x" x="253" y="300"/><use href="#x" x="253" y="301"/><use href="#x" x="254" y="304"/><use href="#x" x="254" y="303"/><use href="#x" x="254" y="311"/><use href="#x" x="254" y="312"/><use href="#x" x="254" y="305"/><use href="#x" x="255" y="301"/><use href="#x" x="255" y="309"/><use href="#x" x="255" y="303"/><use href="#x" x="256" y="315"/><use href="#x" x="256" y="307"/><use href="#x" x="256" y="309"/><use href="#x" x="256" y="306"/><use href="#x" x="257" y="301"/><use href="#x" x="257" y="307"/><use href="#x" x="257" y="304"/><use href="#x" x="257" y="315"/><use href="#x" x="258" y="305"/><use href="#x" x="258" y="298"/><use href="#x" x="258" y="304"/><use href="#x" x="258" y="300"/><use href="#x" x="258" y="302"/><use href="#x" x="259" y="311"/><use href="#x" x="259" y="314"/><use href="#x" x="259" y="299"/><use href="#x" x="259" y="304"/><use href="#x" x="259" y="310"/><use href="#x" x="260" y="300"/><use href="#x" x="260" y="305"/><use href="#x" x="260" y="310"/><use href="#x" x="260" y="308"/><use href="#x" x="261" y="304"/><use href="#x" x="261" y="312"/><use href="#x" x="261" y="301"/><use href="#x" x="261" y="305"/><use href="#x" x="261" y="303"/><use href="#x" x="270" y="310"/><use href="#x" x="270" y="305"/><use href="#x" x="270" y="307"/><use href="#x" x="271" y="311"/><use href="#x" x="271" y="303"/><use href="#x" x="271" y="307"/><use href="#x" x="271" y="302"/><use href="#x" x="272" y="303"/><use href="#x" x="272" y="311"/><use href="#x" x="273" y="307"/><use href="#x" x="273" y="303"/><use href="#x" x="273" y="300"/><use href="#x" x="274" y="304"/><use href="#x" x="274" y="311"/><use href="#x" x="274" y="307"/><use href="#x" x="274" y="306"/><use href="#x" x="275" y="301"/><use href="#x" x="275" y="300"/><use href="#x" x="275" y="304"/><use href="#x" x="275" y="311"/><use href="#x" x="276" y="313"/><use href="#x" x="276" y="311"/><use href="#x" x="276" y="306"/><use href="#x" x="276" y="305"/><use href="#x" x="277" y="303"/><use href="#x" x="277" y="304"/><use href="#x" x="278" y="310"/><use href="#x" x="278" y="305"/><use href="#x" x="278" y="302"/><use href="#x" x="278" y="303"/><use href="#x" x="279" y="303"/><use href="#x" x="279" y="305"/><use href="#x" x="279" y="302"/><use href="#x" x="280" y="307"/><use href="#x" x="280" y="303"/><use href="#x" x="280" y="312"/><use href="#x" x="280" y="305"/><use href="#x" x="281" y="304"/><use href="#x" x="281" y="300"/><use href="#x" x="281" y="302"/><use href="#x" x="281" y="303"/><use href="#x" x="282" y="307"/><use href="#x" x="282" y="310"/><use href="#x" x="282" y="308"/><use href="#x" x="282" y="301"/><use href="#x" x="283" y="310"/><use href="#x" x="283" y="311"/><use href="#x" x="283" y="300"/><use href="#x" x="283" y="309"/><use href="#x" x="284" y="305"/><use href="#x" x="284" y="302"/><use href="#x" x="284" y="304"/><use href="#x" x="285" y="305"/><use href="#x" x="285" y="307"/><use href="#x" x="285" y="306"/><use href="#x" x="285" y="308"/><use href="#x" x="286" y="307"/><use href="#x" x="286" y="308"/><use href="#x" x="286" y="306"/><use href="#x" x="287" y="305"/><use href="#x" x="287" y="310"/><use href="#x" x="287" y="303"/><use href="#x" x="287" y="312"/><use href="#x" x="288" y="311"/><use href="#x" x="288" y="306"/><use href="#x" x="288" y="307"/><use href="#x" x="289" y="310"/><use href="#x" x="289" y="303"/><use href="#x" x="289" y="307"/><use href="#x" x="289" y="312"/><use href="#x" x="290" y="306"/><use href="#x" x="290" y="310"/><use href="#x" x="290" y="302"/><use href="#x" x="290" y="311"/><use href="#x" x="291" y="307"/><use href="#x" x="291" y="312"/><use href="#x" x="291" y="308"/><use href="#x" x="291" y="310"/><use href="#x" x="292" y="304"/><use href="#x" x="292" y="301"/><use href="#x" x="292" y="310"/><use href="#x" x="292" y="305"/><use href="#x" x="293" y="301"/><use href="#x" x="293" y="310"/><use href="#x" x="293" y="302"/><use href="#x" x="294" y="303"/><use href="#x" x="294" y="304"/><use href="#x" x="294" y="302"/><use href="#x" x="294" y="309"/><use href="#x" x="295" y="311"/><use href="#x" x="295" y="310"/><use href="#x" x="295" y="307"/><use href="#x" x="295" y="303"/><use href="#x" x="296" y="310"/><use href="#x" x="296" y="307"/><use href="#x" x="296" y="309"/><use href="#x" x="297" y="300"/><use href="#x" x="297" y="305"/><use href="#x" x="297" y="306"/><use href="#x" x="297" y="303"/><use href="#x" x="298" y="304"/><use href="#x" x="298" y="311"/><use href="#x" x="298" y="301"/><use href="#x" x="298" y="305"/><use href="#x" x="299" y="308"/><use href="#x" x="299" y="301"/><use href="#x" x="299" y="310"/><use href="#x" x="299" y="309"/><use href="#x" x="305" y="310"/><use href="#x" x="305" y="308"/><use href="#x" x="305" y="311"/><use href="#x" x="305" y="309"/><use href="#x" x="305" y="301"/><use href="#x" x="306" y="304"/><use href="#x" x="306" y="303"/><use href="#x" x="306" y="301"/><use href="#x" x="306" y="299"/><use href="#x" x="306" y="311"/><use href="#x" x="307" y="306"/><use href="#x" x="307" y="308"/><use href="#x" x="307" y="309"/><use href="#x" x="307" y="305"/><use href="#x" x="307" y="311"/><use href="#x" x="308" y="303"/><use href="#x" x="308" y="305"/><use href="#x" x="308" y="306"/><use href="#x" x="308" y="301"/><use href="#x" x="308" y="309"/><use href="#x" x="309" y="307"/><use href="#x" x="309" y="309"/><use href="#x" x="309" y="306"/><use href="#x" x="309" y="304"/><use href="#x" x="309" y="310"/><use href="#x" x="310" y="310"/><use href="#x" x="310" y="309"/><use href="#x" x="310" y="301"/><use href="#x" x="310" y="308"/><use href="#x" x="311" y="301"/><use href="#x" x="311" y="307"/><use href="#x" x="311" y="304"/><use href="#x" x="311" y="312"/><use href="#x" x="311" y="306"/><use href="#x" x="312" y="306"/><use href="#x" x="312" y="309"/><use href="#x" x="312" y="304"/><use href="#x" x="312" y="302"/><use href="#x" x="313" y="309"/><use href="#x" x="313" y="301"/><use href="#x" x="313" y="307"/><use href="#x" x="313" y="304"/><use href="#x" x="313" y="302"/><use href="#x" x="314" y="302"/><use href="#x" x="314" y="301"/><use href="#x" x="314" y="310"/><use href="#x" x="314" y="306"/><use href="#x" x="112" y="325"/><use href="#x" x="112" y="330"/><use href="#x" x="113" y="332"/><use href="#x" x="120" y="333"/><use href="#x" x="127" y="334"/><use href="#x" x="136" y="330"/><use href="#x" x="150" y="324"/><use href="#x" x="112" y="337"/><use href="#x" x="114" y="345"/><use href="#x" x="127" y="346"/><use href="#x" x="113" y="329"/><use href="#x" x="114" y="332"/><use href="#x" x="111" y="335"/><use href="#x" x="113" y="338"/><use href="#x" x="120" y="337"/><use href="#x" x="127" y="333"/><use href="#x" x="127" y="347"/><use href="#x" x="137" y="340"/><use href="#x" x="140" y="342"/><use href="#x" x="138" y="345"/><use href="#x" x="138" y="349"/><use href="#x" x="136" y="354"/><use href="#x" x="135" y="357"/><use href="#x" x="141" y="352"/><use href="#x" x="115" y="357"/><use href="#x" x="121" y="361"/><use href="#x" x="121" y="365"/><use href="#x" x="128" y="368"/><use href="#x" x="131" y="371"/><use href="#x" x="134" y="365"/><use href="#x" x="137" y="368"/><use href="#x" x="140" y="370"/><use href="#x" x="143" y="370"/><use href="#x" x="142" y="362"/><use href="#x" x="140" y="363"/><use href="#x" x="150" y="358"/><use href="#x" x="150" y="369"/><use href="#x" x="116" y="376"/><use href="#x" x="116" y="383"/><use href="#x" x="123" y="375"/><use href="#x" x="123" y="383"/><use href="#x" x="124" y="389"/><use href="#x" x="132" y="379"/><use href="#x" x="131" y="385"/><use href="#x" x="140" y="377"/><use href="#x" x="140" y="385"/><use href="#x" x="140" y="390"/><use href="#x" x="145" y="380"/><use href="#x" x="149" y="385"/><use href="#x" x="125" y="395"/><use href="#x" x="126" y="397"/><use href="#x" x="133" y="400"/><use href="#x" x="145" y="397"/><use href="#x" x="150" y="400"/><use href="#x" x="136" y="341"/><use href="#x" x="143" y="340"/><use href="#x" x="141" y="347"/><use href="#x" x="137" y="342"/><use href="#x" x="144" y="338"/><use href="#x" x="134" y="343"/></g><g fill="#ff0000"><use href="#p" x="101" y="189"/><use href="#p" x="103" y="192"/><use href="#p" x="109" y="195"/><use href="#p" x="111" y="192"/><use href="#p" x="100" y="199"/><use href="#p" x="105" y="205"/><use href="#p" x="114" y="197"/><use href="#p" x="119" y="197"/><use href="#p" x="123" y="196"/><use href="#p" x="125" y="193"/><use href="#p" x="121" y="202"/><use href="#p" x="126" y="200"/><use href="#p" x="132" y="202"/><use href="#p" x="130" y="206"/><use href="#p" x="112" y="209"/><use href="#p" x="134" y="211"/><use href="#p" x="143" y="210"/><use href="#p" x="148" y="206"/><use href="#p" x="204" y="211"/><use href="#p" x="101" y="314"/><use href="#p" x="103" y="313"/><use href="#p" x="104" y="314"/><use href="#p" x="107" y="316"/><use href="#p" x="108" y="314"/><use href="#p" x="110" y="313"/><use href="#p" x="112" y="315"/><use href="#p" x="113" y="316"/><use href="#p" x="116" y="315"/><use href="#p" x="117" y="315"/><use href="#p" x="119" y="313"/><use href="#p" x="120" y="312"/><use href="#p" x="123" y="314"/><use href="#p" x="125" y="312"/><use href="#p" x="126" y="313"/><use href="#p" x="128" y="314"/><use href="#p" x="131" y="313"/><use href="#p" x="132" y="316"/><use href="#p" x="134" y="315"/><use href="#p" x="136" y="313"/><use href="#p" x="137" y="315"/><use href="#p" x="139" y="315"/><use href="#p" x="142" y="316"/><use href="#p" x="143" y="313"/><use href="#p" x="144" y="313"/><use href="#p" x="146" y="313"/><use href="#p" x="149" y="313"/><use href="#p" x="150" y="314"/><use href="#p" x="151" y="314"/><use href="#p" x="155" y="313"/><use href="#p" x="155" y="314"/><use href="#p" x="157" y="313"/><use href="#p" x="159" y="315"/><use href="#p" x="162" y="316"/><use href="#p" x="164" y="314"/><use href="#p" x="165" y="313"/><use href="#p" x="166" y="313"/><use href="#p" x="169" y="314"/><use href="#p" x="171" y="313"/><use href="#p" x="172" y="314"/><use href="#p" x="174" y="314"/><use href="#p" x="176" y="314"/><use href="#p" x="178" y="316"/><use href="#p" x="180" y="314"/><use href="#p" x="181" y="315"/><use href="#p" x="183" y="316"/><use href="#p" x="186" y="316"/><use href="#p" x="187" y="313"/><use href="#p" x="189" y="314"/><use href="#p" x="191" y="314"/><use href="#p" x="193" y="313"/><use href="#p" x="195" y="315"/><use href="#p" x="199" y="314"/><use href="#p" x="200" y="316"/><use href="#p" x="202" y="314"/><use href="#p" x="203" y="313"/><use href="#p" x="206" y="315"/><use href="#p" x="207" y="314"/><use href="#p" x="210" y="314"/><use href="#p" x="210" y="316"/><use href="#p" x="213" y="313"/><use href="#p" x="214" y="316"/><use href="#p" x="217" y="314"/><use href="#p" x="218" y="313"/><use href="#p" x="221" y="315"/><use href="#p" x="222" y="315"/><use href="#p" x="225" y="313"/><use href="#p" x="225" y="315"/><use href="#p" x="227" y="315"/><use href="#p" x="230" y="316"/><use href="#p" x="231" y="313"/><use href="#p" x="232" y="316"/><use href="#p" x="234" y="316"/><use href="#p" x="237" y="314"/><use href="#p" x="238" y="315"/><use href="#p" x="240" y="315"/><use href="#p" x="241" y="314"/><use href="#p" x="244" y="315"/><use href="#p" x="247" y="313"/><use href="#p" x="248" y="316"/><use href="#p" x="249" y="314"/><use href="#p" x="251" y="314"/><use href="#p" x="254" y="314"/><use href="#p" x="256" y="315"/><use href="#p" x="256" y="314"/><use href="#p" x="258" y="316"/><use href="#p" x="260" y="313"/><use href="#p" x="296" y="327"/><use href="#p" x="272" y="326"/><use href="#p" x="291" y="319"/><use href="#p" x="295" y="320"/><use href="#p" x="271" y="322"/><use href="#p" x="291" y="320"/><use href="#p" x="261" y="327"/><use href="#p" x="121" y="500"/><use href="#p" x="126" y="499"/><use href="#p" x="128" y="501"/><use href="#p" x="133" y="503"/><use href="#p" x="135" y="502"/><use href="#p" x="142" y="506"/><use href="#p" x="143" y="507"/><use href="#p" x="149" y="509"/><use href="#p" x="151" y="510"/><use href="#p" x="158" y="519"/><use href="#p" x="160" y="519"/><use href="#p" x="165" y="522"/><use href="#p" x="166" y="524"/><use href="#p" x="170" y="526"/><use href="#p" x="178" y="538"/><use href="#p" x="184" y="537"/><use href="#p" x="170" y="531"/><use href="#p" x="189" y="532"/><use href="#p" x="171" y="536"/><use href="#p" x="180" y="538"/><use href="#p" x="166" y="534"/><use href="#p" x="191" y="539"/><use href="#p" x="195" y="526"/><use href="#p" x="195" y="529"/><use href="#p" x="102" y="529"/><use href="#p" x="115" y="529"/><use href="#p" x="101" y="530"/><use href="#p" x="104" y="530"/><use href="#p" x="106" y="532"/><use href="#p" x="109" y="535"/><use href="#p" x="112" y="534"/><use href="#p" x="114" y="530"/><use href="#p" x="100" y="581"/><use href="#p" x="261" y="514"/><use href="#p" x="193" y="522"/><use href="#p" x="193" y="523"/><use href="#p" x="195" y="531"/><use href="#p" x="198" y="538"/><use href="#p" x="186" y="544"/><use href="#p" x="189" y="538"/><use href="#p" x="171" y="532"/><use href="#p" x="200" y="551"/><use href="#p" x="203" y="576"/><use href="#p" x="215" y="570"/><use href="#p" x="225" y="553"/><use href="#p" x="227" y="551"/><use href="#p" x="231" y="568"/><use href="#p" x="236" y="573"/><use href="#p" x="238" y="567"/><use href="#p" x="243" y="553"/><use href="#p" x="241" y="562"/><use href="#p" x="245" y="578"/><use href="#p" x="228" y="581"/><use href="#p" x="223" y="582"/><use href="#p" x="217" y="586"/><use href="#p" x="210" y="588"/><use href="#p" x="201" y="554"/><use href="#p" x="298" y="555"/><use href="#p" x="296" y="559"/><use href="#p" x="305" y="567"/><use href="#p" x="294" y="572"/><use href="#p" x="252" y="566"/><use href="#p" x="256" y="569"/><use href="#p" x="258" y="567"/><use href="#p" x="277" y="575"/><use href="#p" x="276" y="576"/><use href="#p" x="272" y="583"/><use href="#p" x="290" y="581"/><use href="#p" x="307" y="583"/><use href="#p" x="315" y="583"/><use href="#p" x="310" y="588"/><use href="#p" x="251" y="584"/></g><g fill="#ff0000"><use href="#d" x="132" y="175"/><use href="#d" x="135" y="195"/><use href="#d" x="100" y="192"/><use href="#d" x="105" y="199"/><use href="#d" x="111" y="210"/><use href="#d" x="119" y="210"/><use href="#d" x="127" y="206"/><use href="#d" x="227" y="202"/><use href="#d" x="197" y="211"/><use href="#d" x="206" y="210"/><use href="#d" x="238" y="210"/><use href="#d" x="242" y="208"/><use href="#d" x="252" y="208"/><use href="#d" x="100" y="287"/><use href="#d" x="101" y="291"/><use href="#d" x="103" y="292"/><use href="#d" x="106" y="295"/><use href="#d" x="108" y="293"/><use href="#d" x="108" y="288"/><use href="#d" x="112" y="294"/><use href="#d" x="113" y="292"/><use href="#d" x="115" y="294"/><use href="#d" x="116" y="292"/><use href="#d" x="118" y="291"/><use href="#d" x="120" y="292"/><use href="#d" x="123" y="294"/><use href="#d" x="124" y="293"/><use href="#d" x="125" y="291"/><use href="#d" x="127" y="294"/><use href="#d" x="129" y="294"/><use href="#d" x="130" y="287"/><use href="#d" x="133" y="289"/><use href="#d" x="135" y="294"/><use href="#d" x="137" y="293"/><use href="#d" x="137" y="288"/><use href="#d" x="140" y="288"/><use href="#d" x="141" y="293"/><use href="#d" x="143" y="291"/><use href="#d" x="145" y="291"/><use href="#d" x="147" y="292"/><use href="#d" x="149" y="291"/><use href="#d" x="151" y="291"/><use href="#d" x="153" y="292"/><use href="#d" x="156" y="290"/><use href="#d" x="157" y="294"/><use href="#d" x="159" y="293"/><use href="#d" x="161" y="294"/><use href="#d" x="162" y="293"/><use href="#d" x="164" y="288"/><use href="#d" x="166" y="296"/><use href="#d" x="169" y="294"/><use href="#d" x="171" y="289"/><use href="#d" x="172" y="295"/><use href="#d" x="173" y="296"/><use href="#d" x="176" y="290"/><use href="#d" x="177" y="294"/><use href="#d" x="179" y="291"/><use href="#d" x="181" y="296"/><use href="#d" x="183" y="294"/><use href="#d" x="184" y="290"/><use href="#d" x="186" y="293"/><use href="#d" x="188" y="296"/><use href="#d" x="190" y="294"/><use href="#d" x="191" y="292"/><use href="#d" x="193" y="291"/><use href="#d" x="194" y="295"/><use href="#d" x="196" y="297"/><use href="#d" x="203" y="300"/><use href="#d" x="205" y="298"/><use href="#d" x="208" y="308"/><use href="#d" x="211" y="302"/><use href="#d" x="212" y="300"/><use href="#d" x="215" y="298"/><use href="#d" x="218" y="299"/><use href="#d" x="220" y="300"/><use href="#d" x="224" y="304"/><use href="#d" x="225" y="297"/><use href="#d" x="228" y="297"/><use href="#d" x="229" y="297"/><use href="#d" x="234" y="307"/><use href="#d" x="236" y="298"/><use href="#d" x="237" y="308"/><use href="#d" x="241" y="300"/><use href="#d" x="242" y="302"/><use href="#d" x="245" y="297"/><use href="#d" x="248" y="298"/><use href="#d" x="249" y="296"/><use href="#d" x="252" y="299"/><use href="#d" x="256" y="308"/><use href="#d" x="258" y="308"/><use href="#d" x="260" y="300"/><use href="#d" x="274" y="308"/><use href="#d" x="274" y="307"/><use href="#d" x="276" y="306"/><use href="#d" x="276" y="307"/><use href="#d" x="277" y="306"/><use href="#d" x="278" y="309"/><use href="#d" x="279" y="307"/><use href="#d" x="280" y="308"/><use href="#d" x="281" y="307"/><use href="#d" x="282" y="306"/><use href="#d" x="283" y="305"/><use href="#d" x="296" y="311"/><use href="#d" x="297" y="312"/><use href="#d" x="298" y="312"/><use href="#d" x="298" y="310"/><use href="#d" x="299" y="312"/><use href="#d" x="307" y="307"/><use href="#d" x="308" y="309"/><use href="#d" x="309" y="308"/><use href="#d" x="310" y="307"/><use href="#d" x="311" y="308"/><use href="#d" x="312" y="307"/><use href="#d" x="313" y="306"/><use href="#d" x="314" y="309"/><use href="#d" x="101" y="313"/><use href="#d" x="109" y="316"/><use href="#d" x="114" y="315"/><use href="#d" x="116" y="316"/><use href="#d" x="124" y="314"/><use href="#d" x="127" y="312"/><use href="#d" x="133" y="317"/><use href="#d" x="139" y="314"/><use href="#d" x="148" y="317"/><use href="#d" x="151" y="316"/><use href="#d" x="157" y="316"/><use href="#d" x="162" y="316"/><use href="#d" x="165" y="313"/><use href="#d" x="172" y="315"/><use href="#d" x="180" y="315"/><use href="#d" x="181" y="314"/><use href="#d" x="190" y="312"/><use href="#d" x="194" y="314"/><use href="#d" x="200" y="317"/><use href="#d" x="205" y="317"/><use href="#d" x="208" y="318"/><use href="#d" x="217" y="314"/><use href="#d" x="222" y="314"/><use href="#d" x="228" y="315"/><use href="#d" x="231" y="316"/><use href="#d" x="236" y="315"/><use href="#d" x="241" y="318"/><use href="#d" x="248" y="316"/><use href="#d" x="251" y="316"/><use href="#d" x="259" y="316"/><use href="#d" x="120" y="503"/><use href="#d" x="124" y="502"/><use href="#d" x="126" y="505"/><use href="#d" x="127" y="502"/><use href="#d" x="131" y="507"/><use href="#d" x="132" y="506"/><use href="#d" x="136" y="506"/><use href="#d" x="137" y="510"/><use href="#d" x="140" y="510"/><use href="#d" x="141" y="511"/><use href="#d" x="145" y="510"/><use href="#d" x="147" y="510"/><use href="#d" x="151" y="513"/><use href="#d" x="153" y="517"/><use href="#d" x="155" y="521"/><use href="#d" x="157" y="521"/><use href="#d" x="160" y="522"/><use href="#d" x="162" y="526"/><use href="#d" x="166" y="526"/><use href="#d" x="167" y="529"/><use href="#d" x="169" y="530"/><use href="#d" x="173" y="529"/><use href="#d" x="139" y="509"/><use href="#d" x="153" y="534"/><use href="#d" x="157" y="526"/><use href="#d" x="119" y="507"/><use href="#d" x="126" y="506"/><use href="#d" x="186" y="538"/><use href="#d" x="188" y="540"/><use href="#d" x="185" y="544"/><use href="#d" x="162" y="534"/><use href="#d" x="157" y="527"/><use href="#d" x="191" y="535"/><use href="#d" x="189" y="531"/><use href="#d" x="156" y="525"/><use href="#d" x="182" y="541"/><use href="#d" x="143" y="514"/><use href="#d" x="160" y="527"/><use href="#d" x="167" y="533"/><use href="#d" x="165" y="533"/><use href="#d" x="193" y="533"/><use href="#d" x="177" y="539"/><use href="#d" x="188" y="541"/><use href="#d" x="161" y="528"/><use href="#d" x="176" y="542"/><use href="#d" x="172" y="534"/><use href="#d" x="162" y="532"/><use href="#d" x="182" y="544"/><use href="#d" x="153" y="524"/><use href="#d" x="142" y="515"/><use href="#d" x="188" y="545"/><use href="#d" x="188" y="534"/><use href="#d" x="183" y="540"/><use href="#d" x="118" y="507"/><use href="#d" x="126" y="507"/><use href="#d" x="153" y="535"/><use href="#d" x="163" y="531"/><use href="#d" x="168" y="538"/><use href="#d" x="193" y="514"/><use href="#d" x="196" y="528"/><use href="#d" x="189" y="535"/><use href="#d" x="188" y="538"/><use href="#d" x="172" y="541"/><use href="#d" x="175" y="545"/><use href="#d" x="177" y="550"/><use href="#d" x="181" y="552"/><use href="#d" x="200" y="551"/><use href="#d" x="215" y="532"/><use href="#d" x="240" y="538"/><use href="#d" x="243" y="560"/><use href="#d" x="245" y="571"/><use href="#d" x="230" y="575"/><use href="#d" x="236" y="581"/><use href="#d" x="222" y="586"/><use href="#d" x="252" y="542"/><use href="#d" x="254" y="559"/><use href="#d" x="283" y="546"/><use href="#d" x="288" y="550"/><use href="#d" x="299" y="565"/><use href="#d" x="297" y="568"/><use href="#d" x="296" y="574"/><use href="#d" x="314" y="573"/><use href="#d" x="279" y="581"/><use href="#d" x="274" y="585"/><use href="#d" x="251" y="573"/><use href="#d" x="256" y="575"/><use href="#d" x="258" y="570"/><use href="#d" x="287" y="580"/><use href="#d" x="280" y="553"/></g><g fill="#000000"><use href="#d" x="104" y="135"/><use href="#d" x="113" y="145"/><use href="#d" x="111" y="148"/><use href="#d" x="119" y="146"/><use href="#d" x="125" y="146"/><use href="#d" x="102" y="156"/><use href="#d" x="114" y="156"/><use href="#d" x="121" y="158"/><use href="#d" x="123" y="157"/><use href="#d" x="126" y="159"/><use href="#d" x="128" y="160"/><use href="#d" x="132" y="154"/><use href="#d" x="135" y="156"/><use href="#d" x="109" y="166"/><use href="#d" x="107" y="168"/><use href="#d" x="105" y="171"/><use href="#d" x="130" y="166"/><use href="#d" x="137" y="166"/><use href="#d" x="134" y="170"/><use href="#d" x="139" y="173"/><use href="#d" x="143" y="168"/><use href="#d" x="146" y="166"/><use href="#d" x="148" y="166"/><use href="#d" x="144" y="173"/><use href="#d" x="141" y="178"/><use href="#d" x="151" y="172"/><use href="#d" x="155" y="171"/><use href="#d" x="161" y="176"/><use href="#d" x="163" y="178"/><use href="#d" x="166" y="173"/><use href="#d" x="168" y="181"/><use href="#d" x="169" y="166"/><use href="#d" x="150" y="186"/><use href="#d" x="159" y="186"/><use href="#d" x="162" y="188"/><use href="#d" x="157" y="195"/><use href="#d" x="153" y="210"/><use href="#d" x="191" y="157"/><use href="#d" x="196" y="166"/><use href="#d" x="198" y="168"/><use href="#d" x="202" y="170"/><use href="#d" x="193" y="173"/><use href="#d" x="195" y="175"/><use href="#d" x="186" y="179"/><use href="#d" x="177" y="180"/><use href="#d" x="180" y="181"/><use href="#d" x="179" y="185"/><use href="#d" x="171" y="187"/><use href="#d" x="208" y="167"/><use href="#d" x="211" y="172"/><use href="#d" x="231" y="164"/><use href="#d" x="227" y="171"/><use href="#d" x="233" y="175"/><use href="#d" x="240" y="173"/><use href="#d" x="242" y="166"/><use href="#d" x="238" y="183"/><use href="#d" x="234" y="185"/><use href="#d" x="243" y="184"/><use href="#d" x="229" y="188"/><use href="#d" x="245" y="189"/><use href="#d" x="248" y="191"/><use href="#d" x="236" y="193"/><use href="#d" x="182" y="199"/><use href="#d" x="189" y="198"/><use href="#d" x="188" y="202"/><use href="#d" x="207" y="203"/><use href="#d" x="216" y="199"/><use href="#d" x="218" y="207"/><use href="#d" x="175" y="210"/><use href="#d" x="184" y="209"/><use href="#d" x="204" y="210"/><use href="#d" x="246" y="204"/><use href="#d" x="256" y="171"/><use href="#d" x="272" y="188"/><use href="#d" x="276" y="190"/><use href="#d" x="278" y="193"/><use href="#d" x="288" y="189"/><use href="#d" x="306" y="176"/><use href="#d" x="312" y="191"/><use href="#d" x="250" y="191"/><use href="#d" x="305" y="202"/><use href="#d" x="308" y="202"/><use href="#d" x="280" y="207"/><use href="#d" x="281" y="207"/><use href="#d" x="251" y="205"/><use href="#d" x="254" y="207"/><use href="#d" x="100" y="315"/><use href="#d" x="103" y="315"/><use href="#d" x="105" y="319"/><use href="#d" x="106" y="316"/><use href="#d" x="108" y="317"/><use href="#d" x="109" y="315"/><use href="#d" x="112" y="316"/><use href="#d" x="113" y="315"/><use href="#d" x="115" y="317"/><use href="#d" x="118" y="319"/><use href="#d" x="120" y="320"/><use href="#d" x="122" y="319"/><use href="#d" x="124" y="317"/><use href="#d" x="126" y="315"/><use href="#d" x="126" y="321"/><use href="#d" x="130" y="320"/><use href="#d" x="131" y="315"/><use href="#d" x="132" y="318"/><use href="#d" x="135" y="320"/><use href="#d" x="137" y="320"/><use href="#d" x="138" y="317"/><use href="#d" x="140" y="319"/><use href="#d" x="142" y="318"/><use href="#d" x="145" y="318"/><use href="#d" x="146" y="319"/><use href="#d" x="148" y="316"/><use href="#d" x="151" y="316"/><use href="#d" x="153" y="316"/><use href="#d" x="154" y="318"/><use href="#d" x="155" y="317"/><use href="#d" x="158" y="315"/><use href="#d" x="159" y="320"/><use href="#d" x="161" y="318"/><use href="#d" x="162" y="319"/><use href="#d" x="165" y="316"/><use href="#d" x="167" y="317"/><use href="#d" x="169" y="320"/><use href="#d" x="170" y="320"/><use href="#d" x="173" y="315"/><use href="#d" x="174" y="319"/><use href="#d" x="177" y="317"/><use href="#d" x="179" y="317"/><use href="#d" x="180" y="316"/><use href="#d" x="182" y="319"/><use href="#d" x="184" y="316"/><use href="#d" x="185" y="315"/><use href="#d" x="187" y="315"/><use href="#d" x="190" y="317"/><use href="#d" x="191" y="315"/><use href="#d" x="194" y="319"/><use href="#d" x="195" y="319"/><use href="#d" x="197" y="317"/><use href="#d" x="200" y="317"/><use href="#d" x="201" y="318"/><use href="#d" x="203" y="317"/><use href="#d" x="205" y="318"/><use href="#d" x="208" y="319"/><use href="#d" x="209" y="317"/><use href="#d" x="210" y="319"/><use href="#d" x="213" y="314"/><use href="#d" x="215" y="319"/><use href="#d" x="217" y="319"/><use href="#d" x="219" y="319"/><use href="#d" x="221" y="316"/><use href="#d" x="223" y="317"/><use href="#d" x="225" y="319"/><use href="#d" x="227" y="316"/><use href="#d" x="229" y="319"/><use href="#d" x="231" y="316"/><use href="#d" x="233" y="317"/><use href="#d" x="236" y="319"/><use href="#d" x="237" y="319"/><use href="#d" x="240" y="316"/><use href="#d" x="242" y="317"/><use href="#d" x="244" y="316"/><use href="#d" x="245" y="317"/><use href="#d" x="248" y="318"/><use href="#d" x="249" y="316"/><use href="#d" x="251" y="318"/><use href="#d" x="252" y="316"/><use href="#d" x="255" y="317"/><use href="#d" x="257" y="317"/><use href="#d" x="259" y="317"/><use href="#d" x="260" y="317"/><use href="#d" x="272" y="319"/><use href="#d" x="273" y="318"/><use href="#d" x="274" y="319"/><use href="#d" x="275" y="318"/><use href="#d" x="276" y="319"/><use href="#d" x="277" y="318"/><use href="#d" x="278" y="318"/><use href="#d" x="279" y="317"/><use href="#d" x="280" y="319"/><use href="#d" x="281" y="317"/><use href="#d" x="282" y="318"/><use href="#d" x="283" y="316"/><use href="#d" x="288" y="329"/><use href="#d" x="289" y="326"/><use href="#d" x="290" y="328"/><use href="#d" x="291" y="325"/><use href="#d" x="292" y="327"/><use href="#d" x="294" y="327"/><use href="#d" x="294" y="326"/><use href="#d" x="297" y="328"/><use href="#d" x="297" y="326"/><use href="#d" x="298" y="330"/><use href="#d" x="305" y="319"/><use href="#d" x="306" y="318"/><use href="#d" x="307" y="317"/><use href="#d" x="308" y="319"/><use href="#d" x="309" y="318"/><use href="#d" x="310" y="318"/><use href="#d" x="311" y="318"/><use href="#d" x="312" y="318"/><use href="#d" x="313" y="318"/><use href="#d" x="314" y="317"/><use href="#d" x="172" y="323"/><use href="#d" x="175" y="322"/><use href="#d" x="210" y="325"/><use href="#d" x="215" y="327"/><use href="#d" x="314" y="330"/><use href="#d" x="120" y="501"/><use href="#d" x="121" y="502"/><use href="#d" x="123" y="501"/><use href="#d" x="125" y="500"/><use href="#d" x="127" y="501"/><use href="#d" x="127" y="500"/><use href="#d" x="130" y="500"/><use href="#d" x="132" y="502"/><use href="#d" x="133" y="503"/><use href="#d" x="134" y="504"/><use href="#d" x="136" y="505"/><use href="#d" x="138" y="506"/><use href="#d" x="139" y="506"/><use href="#d" x="141" y="505"/><use href="#d" x="143" y="508"/><use href="#d" x="144" y="509"/><use href="#d" x="145" y="507"/><use href="#d" x="147" y="508"/><use href="#d" x="148" y="509"/><use href="#d" x="150" y="509"/><use href="#d" x="152" y="512"/><use href="#d" x="154" y="515"/><use href="#d" x="154" y="516"/><use href="#d" x="157" y="518"/><use href="#d" x="159" y="520"/><use href="#d" x="159" y="521"/><use href="#d" x="162" y="522"/><use href="#d" x="163" y="524"/><use href="#d" x="165" y="526"/><use href="#d" x="166" y="525"/><use href="#d" x="167" y="525"/><use href="#d" x="169" y="525"/><use href="#d" x="172" y="527"/><use href="#d" x="172" y="531"/><use href="#d" x="139" y="512"/><use href="#d" x="193" y="498"/><use href="#d" x="227" y="505"/><use href="#d" x="195" y="508"/><use href="#d" x="198" y="514"/><use href="#d" x="200" y="519"/><use href="#d" x="189" y="511"/><use href="#d" x="187" y="517"/><use href="#d" x="185" y="522"/><use href="#d" x="180" y="525"/><use href="#d" x="171" y="525"/><use href="#d" x="215" y="521"/><use href="#d" x="225" y="518"/><use href="#d" x="231" y="525"/><use href="#d" x="242" y="513"/><use href="#d" x="240" y="518"/><use href="#d" x="252" y="516"/><use href="#d" x="255" y="518"/><use href="#d" x="258" y="519"/><use href="#d" x="256" y="525"/><use href="#d" x="251" y="526"/><use href="#d" x="288" y="525"/><use href="#d" x="298" y="525"/><use href="#d" x="305" y="528"/><use href="#d" x="171" y="526"/><use href="#d" x="173" y="532"/><use href="#d" x="176" y="531"/><use href="#d" x="179" y="525"/><use href="#d" x="181" y="523"/><use href="#d" x="186" y="522"/><use href="#d" x="183" y="528"/><use href="#d" x="201" y="534"/><use href="#d" x="204" y="546"/><use href="#d" x="211" y="543"/><use href="#d" x="213" y="549"/><use href="#d" x="210" y="550"/><use href="#d" x="218" y="546"/><use href="#d" x="216" y="553"/><use href="#d" x="207" y="556"/><use href="#d" x="206" y="562"/><use href="#d" x="220" y="535"/><use href="#d" x="222" y="542"/><use href="#d" x="225" y="546"/><use href="#d" x="228" y="535"/><use href="#d" x="237" y="528"/><use href="#d" x="233" y="550"/><use href="#d" x="245" y="523"/><use href="#d" x="247" y="545"/><use href="#d" x="214" y="521"/><use href="#d" x="250" y="531"/><use href="#d" x="300" y="526"/><use href="#d" x="305" y="530"/><use href="#d" x="314" y="533"/><use href="#d" x="308" y="541"/><use href="#d" x="296" y="535"/><use href="#d" x="283" y="539"/><use href="#d" x="287" y="546"/><use href="#d" x="294" y="548"/><use href="#d" x="306" y="550"/><use href="#d" x="311" y="548"/><use href="#d" x="313" y="549"/><use href="#d" x="280" y="556"/><use href="#d" x="274" y="563"/><use href="#d" x="281" y="565"/><use href="#d" x="278" y="557"/><use href="#d" x="290" y="562"/></g></g>
<path d="M80.5,23.5H512.5V213.5H80.5Z M81,202.5H85M512,202.5H508 M81,195.5H85M512,195.5H508 M81,190.5H85M512,190.5H508 M81,186.5H85M512,186.5H508 M81,183.5H85M512,183.5H508 M81,181.5H85M512,181.5H508 M81,179.5H85M512,179.5H508 M81,177.5H85M512,177.5H508 M81,175.5H90M512,175.5H503 M81,164.5H85M512,164.5H508 M81,157.5H85M512,157.5H508 M81,152.5H85M512,152.5H508 M81,148.5H85M512,148.5H508 M81,145.5H85M512,145.5H508 M81,143.5H85M512,143.5H508 M81,141.5H85M512,141.5H508 M81,139.5H85M512,139.5H508 M81,137.5H90M512,137.5H503 M81,126.5H85M512,126.5H508 M81,119.5H85M512,119.5H508 M81,114.5H85M512,114.5H508 M81,110.5H85M512,110.5H508 M81,107.5H85M512,107.5H508 M81,105.5H85M512,105.5H508 M81,103.5H85M512,103.5H508 M81,101.5H85M512,101.5H508 M81,99.5H90M512,99.5H503 M81,88.5H85M512,88.5H508 M81,81.5H85M512,81.5H508 M81,76.5H85M512,76.5H508 M81,72.5H85M512,72.5H508 M81,69.5H85M512,69.5H508 M81,67.5H85M512,67.5H508 M81,65.5H85M512,65.5H508 M81,63.5H85M512,63.5H508 M81,61.5H90M512,61.5H503 M81,50.5H85M512,50.5H508 M81,43.5H85M512,43.5H508 M81,38.5H85M512,38.5H508 M81,34.5H85M512,34.5H508 M81,31.5H85M512,31.5H508 M81,29.5H85M512,29.5H508 M81,27.5H85M512,27.5H508 M81,25.5H85M512,25.5H508 M123.5,24v5M123.5,213v-5 M166.5,24v2.5M166.5,213v-2.5 M210.5,24v5M210.5,213v-5 M253.5,24v2.5M253.5,213v-2.5 M296.5,24v5M296.5,213v-5 M339.5,24v2.5M339.5,213v-2.5 M382.5,24v5M382.5,213v-5 M426.5,24v2.5M426.5,213v-2.5 M469.5,24v5M469.5,213v-5 M512.5,24v2.5M512.5,213v-2.5 M80.5,213.5H512.5V402.5H80.5Z M81,388.5H85M512,388.5H508 M81,379.5H85M512,379.5H508 M81,374.5H85M512,374.5H508 M81,369.5H85M512,369.5H508 M81,365.5H85M512,365.5H508 M81,362.5H85M512,362.5H508 M81,359.5H85M512,359.5H508 M81,357.5H85M512,357.5H508 M81,354.5H90M512,354.5H503 M81,341.5H85M512,341.5H508 M81,332.5H85M512,332.5H508 M81,326.5H85M512,326.5H508 M81,322.5H85M512,322.5H508 M81,318.5H85M512,318.5H508 M81,315.5H85M512,315.5H508 M81,312.5H85M512,312.5H508 M81,310.5H85M512,310.5H508 M81,307.5H90M512,307.5H503 M81,293.5H85M512,293.5H508 M81,285.5H85M512,285.5H508 M81,279.5H85M512,279.5H508 M81,274.5H85M512,274.5H508 M81,271.5H85M512,271.5H508 M81,268.5H85M512,268.5H508 M81,265.5H85M512,265.5H508 M81,262.5H85M512,262.5H508 M81,260.5H90M512,260.5H503 M81,246.5H85M512,246.5H508 M81,238.5H85M512,238.5H508 M81,232.5H85M512,232.5H508 M81,227.5H85M512,227.5H508 M81,223.5H85M512,223.5H508 M81,220.5H85M512,220.5H508 M81,218.5H85M512,218.5H508 M81,215.5H85M512,215.5H508 M123.5,214v5M123.5,402v-5 M166.5,214v2.5M166.5,402v-2.5 M210.5,214v5M210.5,402v-5 M253.5,214v2.5M253.5,402v-2.5 M296.5,214v5M296.5,402v-5 M339.5,214v2.5M339.5,402v-2.5 M382.5,214v5M382.5,402v-5 M426.5,214v2.5M426.5,402v-2.5 M469.5,214v5M469.5,402v-5 M512.5,214v2.5M512.5,402v-2.5 M80.5,402.5H512.5V591.5H80.5Z M81,580.5H85M512,580.5H508 M81,573.5H85M512,573.5H508 M81,568.5H85M512,568.5H508 M81,565.5H85M512,565.5H508 M81,562.5H85M512,562.5H508 M81,559.5H85M512,559.5H508 M81,557.5H85M512,557.5H508 M81,555.5H85M512,555.5H508 M81,553.5H90M512,553.5H503 M81,542.5H85M512,542.5H508 M81,535.5H85M512,535.5H508 M81,530.5H85M512,530.5H508 M81,527.5H85M512,527.5H508 M81,524.5H85M512,524.5H508 M81,521.5H85M512,521.5H508 M81,519.5H85M512,519.5H508 M81,517.5H85M512,517.5H508 M81,515.5H90M512,515.5H503 M81,504.5H85M512,504.5H508 M81,497.5H85M512,497.5H508 M81,493.5H85M512,493.5H508 M81,489.5H85M512,489.5H508 M81,486.5H85M512,486.5H508 M81,483.5H85M512,483.5H508 M81,481.5H85M512,481.5H508 M81,479.5H85M512,479.5H508 M81,477.5H90M512,477.5H503 M81,466.5H85M512,466.5H508 M81,460.5H85M512,460.5H508 M81,455.5H85M512,455.5H508 M81,451.5H85M512,451.5H508 M81,448.5H85M512,448.5H508 M81,446.5H85M512,446.5H508 M81,443.5H85M512,443.5H508 M81,442.5H85M512,442.5H508 M81,439.5H90M512,439.5H503 M81,428.5H85M512,428.5H508 M81,422.5H85M512,422.5H508 M81,417.5H85M512,417.5H508 M81,413.5H85M512,413.5H508 M81,410.5H85M512,410.5H508 M81,408.5H85M512,408.5H508 M81,406.5H85M512,406.5H508 M81,404.5H85M512,404.5H508 M123.5,403v5M123.5,591v-5 M166.5,403v2.5M166.5,591v-2.5 M210.5,403v5M210.5,591v-5 M253.5,403v2.5M253.5,591v-2.5 M296.5,403v5M296.5,591v-5 M339.5,403v2.5M339.5,591v-2.5 M382.5,403v5M382.5,591v-5 M426.5,403v2.5M426.5,591v-2.5 M469.5,403v5M469.5,591v-5 M512.5,403v2.5M512.5,591v-2.5" stroke="#000" stroke-width="1" fill="none" shape-rendering="crispEdges"/>
<g font-family="Liberation Sans, sans-serif">
<text x="295" y="17" font-size="16.5" fill="#000" text-anchor="middle" textLength="328" lengthAdjust="spacingAndGlyphs">20260322 AREA_B / AREA_D / AREA_P</text>
<text x="123.5" y="610.5" font-size="13.8" fill="#000" text-anchor="middle" textLength="37" lengthAdjust="spacingAndGlyphs">00:00</text>
<text x="209.90000000000003" y="610.5" font-size="13.8" fill="#000" text-anchor="middle" textLength="37" lengthAdjust="spacingAndGlyphs">02:00</text>
<text x="296.3" y="610.5" font-size="13.8" fill="#000" text-anchor="middle" textLength="37" lengthAdjust="spacingAndGlyphs">04:00</text>
<text x="382.70000000000005" y="610.5" font-size="13.8" fill="#000" text-anchor="middle" textLength="37" lengthAdjust="spacingAndGlyphs">06:00</text>
<text x="469.1" y="610.5" font-size="13.8" fill="#000" text-anchor="middle" textLength="37" lengthAdjust="spacingAndGlyphs">08:00</text>
<text x="296.2" y="625.9" font-size="14.4" fill="#000" text-anchor="middle" textLength="231" lengthAdjust="spacingAndGlyphs">Start Time (21−Mar−26 23:00:00)</text>
<text x="70.3" y="212.5" font-size="13.3" fill="#000" text-anchor="end" textLength="14.5" lengthAdjust="spacingAndGlyphs">10</text>
<text x="71" y="207.2" font-size="8.6" fill="#000" text-anchor="start" textLength="5.5" lengthAdjust="spacingAndGlyphs">1</text>
<text x="70.3" y="180.5" font-size="13.3" fill="#000" text-anchor="end" textLength="14.5" lengthAdjust="spacingAndGlyphs">10</text>
<text x="71" y="175.2" font-size="8.6" fill="#000" text-anchor="start" textLength="5.5" lengthAdjust="spacingAndGlyphs">2</text>
<text x="70.3" y="142.5" font-size="13.3" fill="#000" text-anchor="end" textLength="14.5" lengthAdjust="spacingAndGlyphs">10</text>
<text x="71" y="137.2" font-size="8.6" fill="#000" text-anchor="start" textLength="5.5" lengthAdjust="spacingAndGlyphs">3</text>
<text x="70.3" y="104.5" font-size="13.3" fill="#000" text-anchor="end" textLength="14.5" lengthAdjust="spacingAndGlyphs">10</text>
<text x="71" y="99.2" font-size="8.6" fill="#000" text-anchor="start" textLength="5.5" lengthAdjust="spacingAndGlyphs">4</text>
<text x="70.3" y="66.5" font-size="13.3" fill="#000" text-anchor="end" textLength="14.5" lengthAdjust="spacingAndGlyphs">10</text>
<text x="71" y="61.2" font-size="8.6" fill="#000" text-anchor="start" textLength="5.5" lengthAdjust="spacingAndGlyphs">5</text>
<text x="70.3" y="31.9" font-size="13.3" fill="#000" text-anchor="end" textLength="14.5" lengthAdjust="spacingAndGlyphs">10</text>
<text x="71" y="26.599999999999998" font-size="8.6" fill="#000" text-anchor="start" textLength="5.5" lengthAdjust="spacingAndGlyphs">6</text>
<text transform="translate(43.3,119.0) rotate(-90)" font-size="14" text-anchor="middle" textLength="95" lengthAdjust="spacingAndGlyphs">AREA_B [pixel]</text>
<text x="70.3" y="401.5" font-size="13.3" fill="#000" text-anchor="end" textLength="14.5" lengthAdjust="spacingAndGlyphs">10</text>
<text x="71" y="396.2" font-size="8.6" fill="#000" text-anchor="start" textLength="5.5" lengthAdjust="spacingAndGlyphs">2</text>
<text x="70.3" y="360.25" font-size="13.3" fill="#000" text-anchor="end" textLength="14.5" lengthAdjust="spacingAndGlyphs">10</text>
<text x="71" y="354.95" font-size="8.6" fill="#000" text-anchor="start" textLength="5.5" lengthAdjust="spacingAndGlyphs">3</text>
<text x="70.3" y="313.0" font-size="13.3" fill="#000" text-anchor="end" textLength="14.5" lengthAdjust="spacingAndGlyphs">10</text>
<text x="71" y="307.7" font-size="8.6" fill="#000" text-anchor="start" textLength="5.5" lengthAdjust="spacingAndGlyphs">4</text>
<text x="70.3" y="265.75" font-size="13.3" fill="#000" text-anchor="end" textLength="14.5" lengthAdjust="spacingAndGlyphs">10</text>
<text x="71" y="260.45" font-size="8.6" fill="#000" text-anchor="start" textLength="5.5" lengthAdjust="spacingAndGlyphs">5</text>
<text x="70.3" y="221.9" font-size="13.3" fill="#000" text-anchor="end" textLength="14.5" lengthAdjust="spacingAndGlyphs">10</text>
<text x="71" y="216.6" font-size="8.6" fill="#000" text-anchor="start" textLength="5.5" lengthAdjust="spacingAndGlyphs">6</text>
<text transform="translate(43.3,308.5) rotate(-90)" font-size="14" text-anchor="middle" textLength="95" lengthAdjust="spacingAndGlyphs">AREA_D [pixel]</text>
<text x="70.3" y="590.5" font-size="13.3" fill="#000" text-anchor="end" textLength="14.5" lengthAdjust="spacingAndGlyphs">10</text>
<text x="71" y="585.2" font-size="8.6" fill="#000" text-anchor="start" textLength="5.5" lengthAdjust="spacingAndGlyphs">1</text>
<text x="70.3" y="558.7" font-size="13.3" fill="#000" text-anchor="end" textLength="14.5" lengthAdjust="spacingAndGlyphs">10</text>
<text x="71" y="553.4000000000001" font-size="8.6" fill="#000" text-anchor="start" textLength="5.5" lengthAdjust="spacingAndGlyphs">2</text>
<text x="70.3" y="520.9" font-size="13.3" fill="#000" text-anchor="end" textLength="14.5" lengthAdjust="spacingAndGlyphs">10</text>
<text x="71" y="515.6" font-size="8.6" fill="#000" text-anchor="start" textLength="5.5" lengthAdjust="spacingAndGlyphs">3</text>
<text x="70.3" y="483.1" font-size="13.3" fill="#000" text-anchor="end" textLength="14.5" lengthAdjust="spacingAndGlyphs">10</text>
<text x="71" y="477.8" font-size="8.6" fill="#000" text-anchor="start" textLength="5.5" lengthAdjust="spacingAndGlyphs">4</text>
<text x="70.3" y="445.3" font-size="13.3" fill="#000" text-anchor="end" textLength="14.5" lengthAdjust="spacingAndGlyphs">10</text>
<text x="71" y="440.0" font-size="8.6" fill="#000" text-anchor="start" textLength="5.5" lengthAdjust="spacingAndGlyphs">5</text>
<text x="70.3" y="410.9" font-size="13.3" fill="#000" text-anchor="end" textLength="14.5" lengthAdjust="spacingAndGlyphs">10</text>
<text x="71" y="405.59999999999997" font-size="8.6" fill="#000" text-anchor="start" textLength="5.5" lengthAdjust="spacingAndGlyphs">6</text>
<text transform="translate(43.3,497.5) rotate(-90)" font-size="14" text-anchor="middle" textLength="95" lengthAdjust="spacingAndGlyphs">AREA_P [pixel]</text>
</g>
<g font-family="Liberation Sans, sans-serif">
<path d="M516,35h1v1h-1zM517,34h1v1h-1zM517,36h1v1h-1zM518,33h1v1h-1zM518,37h1v1h-1zM519,32h1v1h-1zM519,38h1v1h-1zM520,31h1v1h-1zM520,39h1v1h-1zM521,32h1v1h-1zM521,38h1v1h-1zM522,33h1v1h-1zM522,37h1v1h-1zM523,34h1v1h-1zM523,36h1v1h-1zM524,35h1v1h-1z" fill="#0000ff" shape-rendering="crispEdges"/>
<text x="537" y="39.5" font-size="13.3" fill="#0000ff" text-anchor="start" textLength="38.6" lengthAdjust="spacingAndGlyphs">−0.08</text>
<text x="583.7" y="39.5" font-size="13.3" fill="#0000ff" text-anchor="start" textLength="33.2" lengthAdjust="spacingAndGlyphs">short</text>
<path d="M516,47h1v1h-1zM517,47h1v1h-1zM518,47h1v1h-1zM519,47h1v1h-1zM520,47h1v1h-1zM521,47h1v1h-1zM522,47h1v1h-1zM523,47h1v1h-1zM524,47h1v1h-1zM520,43h1v1h-1zM520,44h1v1h-1zM520,45h1v1h-1zM520,46h1v1h-1zM520,48h1v1h-1zM520,49h1v1h-1zM520,50h1v1h-1zM520,51h1v1h-1z" fill="#0000ff" shape-rendering="crispEdges"/>
<text x="537" y="51.5" font-size="13.3" fill="#0000ff" text-anchor="start" textLength="38.6" lengthAdjust="spacingAndGlyphs">−0.05</text>
<text x="583.7" y="51.5" font-size="13.3" fill="#0000ff" text-anchor="start" textLength="33.2" lengthAdjust="spacingAndGlyphs">short</text>
<path d="M516,59h1v1h-1zM517,59h1v1h-1zM518,59h1v1h-1zM519,59h1v1h-1zM520,59h1v1h-1zM521,59h1v1h-1zM522,59h1v1h-1zM523,59h1v1h-1zM524,59h1v1h-1zM520,55h1v1h-1zM520,56h1v1h-1zM520,57h1v1h-1zM520,58h1v1h-1zM520,60h1v1h-1zM520,61h1v1h-1zM520,62h1v1h-1zM520,63h1v1h-1z" fill="#00ff00" shape-rendering="crispEdges"/>
<text x="537" y="63.5" font-size="13.3" fill="#00ff00" text-anchor="start" textLength="38.6" lengthAdjust="spacingAndGlyphs">+0.00</text>
<text x="583.7" y="63.5" font-size="13.3" fill="#00ff00" text-anchor="start" textLength="33.2" lengthAdjust="spacingAndGlyphs">short</text>
<path d="M516,67h1v1h-1zM517,68h1v1h-1zM518,69h1v1h-1zM519,70h1v1h-1zM520,71h1v1h-1zM521,72h1v1h-1zM522,73h1v1h-1zM523,74h1v1h-1zM524,75h1v1h-1zM516,75h1v1h-1zM517,74h1v1h-1zM518,73h1v1h-1zM519,72h1v1h-1zM521,70h1v1h-1zM522,69h1v1h-1zM523,68h1v1h-1zM524,67h1v1h-1z" fill="#00ff00" shape-rendering="crispEdges"/>
<text x="537" y="75.5" font-size="13.3" fill="#00ff00" text-anchor="start" textLength="38.6" lengthAdjust="spacingAndGlyphs">+0.00</text>
<text x="583.7" y="75.5" font-size="13.3" fill="#00ff00" text-anchor="start" textLength="41.3" lengthAdjust="spacingAndGlyphs">middle</text>
<path d="M516,79h1v1h-1zM517,80h1v1h-1zM518,81h1v1h-1zM519,82h1v1h-1zM520,83h1v1h-1zM521,84h1v1h-1zM522,85h1v1h-1zM523,86h1v1h-1zM524,87h1v1h-1zM516,87h1v1h-1zM517,86h1v1h-1zM518,85h1v1h-1zM519,84h1v1h-1zM521,82h1v1h-1zM522,81h1v1h-1zM523,80h1v1h-1zM524,79h1v1h-1z" fill="#00ff00" shape-rendering="crispEdges"/>
<text x="537" y="87.5" font-size="13.3" fill="#00ff00" text-anchor="start" textLength="38.6" lengthAdjust="spacingAndGlyphs">+0.00</text>
<text x="583.7" y="87.5" font-size="13.3" fill="#00ff00" text-anchor="start" textLength="25.3" lengthAdjust="spacingAndGlyphs">long</text>
<path d="M516,95h1v1h-1zM517,95h1v1h-1zM518,95h1v1h-1zM519,95h1v1h-1zM520,95h1v1h-1zM521,95h1v1h-1zM522,95h1v1h-1zM523,95h1v1h-1zM524,95h1v1h-1zM520,91h1v1h-1zM520,92h1v1h-1zM520,93h1v1h-1zM520,94h1v1h-1zM520,96h1v1h-1zM520,97h1v1h-1zM520,98h1v1h-1zM520,99h1v1h-1z" fill="#ff0000" shape-rendering="crispEdges"/>
<text x="537" y="99.5" font-size="13.3" fill="#ff0000" text-anchor="start" textLength="38.6" lengthAdjust="spacingAndGlyphs">+0.05</text>
<text x="583.7" y="99.5" font-size="13.3" fill="#ff0000" text-anchor="start" textLength="33.2" lengthAdjust="spacingAndGlyphs">short</text>
<path d="M516,107h1v1h-1zM517,106h1v1h-1zM517,108h1v1h-1zM518,105h1v1h-1zM518,109h1v1h-1zM519,104h1v1h-1zM519,110h1v1h-1zM520,103h1v1h-1zM520,111h1v1h-1zM521,104h1v1h-1zM521,110h1v1h-1zM522,105h1v1h-1zM522,109h1v1h-1zM523,106h1v1h-1zM523,108h1v1h-1zM524,107h1v1h-1z" fill="#ff0000" shape-rendering="crispEdges"/>
<text x="537" y="111.5" font-size="13.3" fill="#ff0000" text-anchor="start" textLength="38.6" lengthAdjust="spacingAndGlyphs">+0.08</text>
<text x="583.7" y="111.5" font-size="13.3" fill="#ff0000" text-anchor="start" textLength="33.2" lengthAdjust="spacingAndGlyphs">short</text>
<path d="M516,119h1v1h-1zM517,118h1v1h-1zM517,120h1v1h-1zM518,117h1v1h-1zM518,121h1v1h-1zM519,116h1v1h-1zM519,122h1v1h-1zM520,115h1v1h-1zM520,123h1v1h-1zM521,116h1v1h-1zM521,122h1v1h-1zM522,117h1v1h-1zM522,121h1v1h-1zM523,118h1v1h-1zM523,120h1v1h-1zM524,119h1v1h-1z" fill="#000000" shape-rendering="crispEdges"/>
<text x="537" y="123.5" font-size="13.3" fill="#000000" text-anchor="start" textLength="38.6" lengthAdjust="spacingAndGlyphs">+0.35</text>
<text x="583.7" y="123.5" font-size="13.3" fill="#000000" text-anchor="start" textLength="33.2" lengthAdjust="spacingAndGlyphs">short</text>
</g>
</svg></body></html>
